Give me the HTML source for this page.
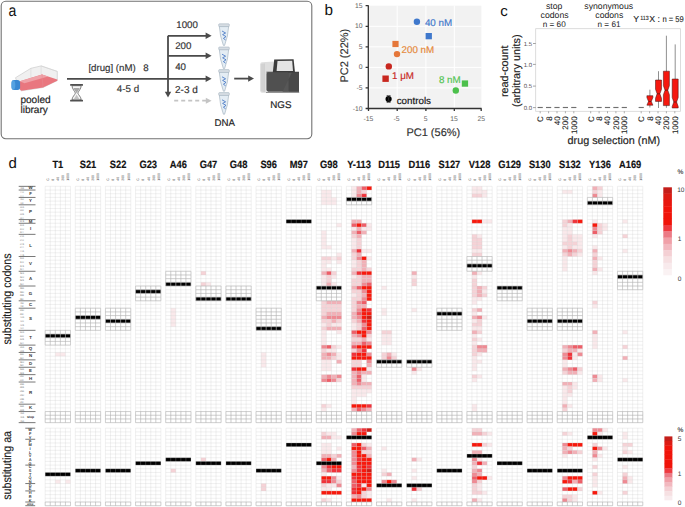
<!DOCTYPE html>
<html><head><meta charset="utf-8">
<style>
html,body{margin:0;padding:0;background:#fff;}
body{width:685px;height:507px;overflow:hidden;}
svg{display:block;font-family:"Liberation Sans", sans-serif;text-rendering:geometricPrecision;}
</style></head>
<body>
<svg width="685" height="507" viewBox="0 0 685 507">
<rect width="685" height="507" fill="#fff"/>
<!-- ================= PANEL A ================= -->
<rect x="1.2" y="1.2" width="310.6" height="137.5" rx="4.6" fill="#fff" stroke="#727272" stroke-width="1.1"/>
<text transform="translate(8.4,15.5) scale(0.87,1)" font-size="16.2" fill="#111">a</text>
<!-- flask -->
<g>
 <polygon points="15.5,77.7 30.9,68.3 41.1,65.9 57.3,71.4 57.3,80.5 43,87.5 21.4,90.8 19.5,89" fill="#f0f0f0" stroke="#c4c4c4" stroke-width="0.6"/>
 <path d="M30.9 68.3V78.5M41.1 65.9V74.5M41.1 65.9L57.3 71.4" stroke="#d2d2d2" stroke-width="0.5" fill="none"/>
 <polygon points="19.8,81.2 42,74.4 57.3,79.4 57.3,80.8 43,87.4 21.4,90.8 19.8,89.5" fill="#e9777f"/>
 <polygon points="19.8,81.2 42,74.4 48,76.4 24.5,83.3" fill="#efa2a8"/>
 <path d="M42 74.4 L43 87.4" stroke="#e58a90" stroke-width="0.5"/>
 <rect x="11.5" y="80.1" width="8.6" height="9.8" rx="2.6" fill="#3a88d2"/>
 <ellipse cx="13.4" cy="85" rx="1.9" ry="4.7" fill="#55a2e2"/>
</g>
<text x="20.4" y="102.5" font-size="10.1" fill="#222" stroke="#222" stroke-width="0.16">pooled</text>
<text x="20.4" y="113.4" font-size="10.1" fill="#222" stroke="#222" stroke-width="0.16">library</text>
<!-- hourglass -->
<g>
 <path d="M72 85.7 C72 89, 75 91.4, 75.4 93.1 C75 94.8, 72 97, 72 99.8 L81.2 99.8 C81.2 97, 78.2 94.8, 77.8 93.1 C78.2 91.4, 81.2 89, 81.2 85.7 Z" fill="#f6f6f6" stroke="#666" stroke-width="0.8"/>
 <path d="M73.4 88 L79.8 88 C79 90, 77.5 91.6, 76.6 93.2 C75.7 91.6, 74.2 90, 73.4 88Z" fill="#a8a8a8"/>
 <path d="M73.4 99.5 C74.6 97.6, 75.8 96.2, 76.6 94.4 C77.4 96.2, 78.6 97.6, 79.8 99.5 Z" fill="#c2c2c2"/>
 <rect x="70.1" y="84" width="12.9" height="1.8" rx="0.5" fill="#505050"/>
 <rect x="70.1" y="99.8" width="12.9" height="1.8" rx="0.5" fill="#505050"/>
</g>
<!-- arrows -->
<g stroke="#4a4a4a" stroke-width="1.8" fill="none">
 <path d="M67 78.8H206.5"/>
 <path d="M168 35.8V93"/>
 <path d="M168 35.8H206.5"/>
 <path d="M168 55.8H206.5"/>
 <path d="M234.2 78.6H249.5"/>
</g>
<g fill="#4a4a4a">
 <path d="M211.6 35.8 L205.6 32.6 L205.6 39 Z"/>
 <path d="M211.6 55.8 L205.6 52.6 L205.6 59 Z"/>
 <path d="M211.6 78.8 L205.6 75.6 L205.6 82 Z"/>
 <path d="M168 97.6 L164.8 91.8 L171.2 91.8 Z"/>
 <path d="M254 78.6 L248.2 75.4 L248.2 81.8 Z"/>
</g>
<path d="M174.2 100.7H206.5" stroke="#c4c4c4" stroke-width="1.8" stroke-dasharray="4 3"/>
<path d="M211.6 100.7 L205.8 97.7 L205.8 103.7 Z" fill="#c4c4c4"/>
<text x="88.4" y="70.5" font-size="9.7" fill="#333" stroke="#333" stroke-width="0.16">[drug] (nM)</text>
<text x="143.3" y="70.5" font-size="9.7" fill="#333" stroke="#333" stroke-width="0.16">8</text>
<text x="116.8" y="92.2" font-size="9.8" fill="#333" stroke="#333" stroke-width="0.16">4-5 d</text>
<text x="176.3" y="28.3" font-size="9.7" fill="#333" stroke="#333" stroke-width="0.16">1000</text>
<text x="175.2" y="48.6" font-size="9.7" fill="#333" stroke="#333" stroke-width="0.16">200</text>
<text x="175.2" y="70.4" font-size="9.7" fill="#333" stroke="#333" stroke-width="0.16">40</text>
<text x="175" y="92.6" font-size="10" fill="#333" stroke="#333" stroke-width="0.16">2-3 d</text>
<!-- tubes -->
<g transform="translate(0,0)">
 <path d="M219.3 26.2 L228.7 26.2 L227.4 36 L224.6 45.4 L223.4 45.4 L220.6 36 Z" fill="#e4edf4" stroke="#9aabb8" stroke-width="0.6"/>
 <rect x="218.7" y="23.8" width="10.6" height="2.8" rx="0.8" fill="#d6dde3" stroke="#9aabb8" stroke-width="0.5"/>
 <path d="M222 31 l3.6 2 l-3 1.6 l3.4 2 l-2.6 1.8 l2.2 1.6" stroke="#3b6fc2" stroke-width="0.8" fill="none"/>
</g><g transform="translate(0,23.2)">
 <path d="M219.3 26.2 L228.7 26.2 L227.4 36 L224.6 45.4 L223.4 45.4 L220.6 36 Z" fill="#e4edf4" stroke="#9aabb8" stroke-width="0.6"/>
 <rect x="218.7" y="23.8" width="10.6" height="2.8" rx="0.8" fill="#d6dde3" stroke="#9aabb8" stroke-width="0.5"/>
 <path d="M222 31 l3.6 2 l-3 1.6 l3.4 2 l-2.6 1.8 l2.2 1.6" stroke="#3b6fc2" stroke-width="0.8" fill="none"/>
</g><g transform="translate(0,45.8)">
 <path d="M219.3 26.2 L228.7 26.2 L227.4 36 L224.6 45.4 L223.4 45.4 L220.6 36 Z" fill="#e4edf4" stroke="#9aabb8" stroke-width="0.6"/>
 <rect x="218.7" y="23.8" width="10.6" height="2.8" rx="0.8" fill="#d6dde3" stroke="#9aabb8" stroke-width="0.5"/>
 <path d="M222 31 l3.6 2 l-3 1.6 l3.4 2 l-2.6 1.8 l2.2 1.6" stroke="#3b6fc2" stroke-width="0.8" fill="none"/>
</g><g transform="translate(0,68.8)">
 <path d="M219.3 26.2 L228.7 26.2 L227.4 36 L224.6 45.4 L223.4 45.4 L220.6 36 Z" fill="#e4edf4" stroke="#9aabb8" stroke-width="0.6"/>
 <rect x="218.7" y="23.8" width="10.6" height="2.8" rx="0.8" fill="#d6dde3" stroke="#9aabb8" stroke-width="0.5"/>
 <path d="M222 31 l3.6 2 l-3 1.6 l3.4 2 l-2.6 1.8 l2.2 1.6" stroke="#3b6fc2" stroke-width="0.8" fill="none"/>
</g>
<text x="214.4" y="125.7" font-size="9.7" fill="#222" stroke="#222" stroke-width="0.16">DNA</text>
<!-- NGS machine -->
<g>
 <path d="M260.3 64 Q260.3 62.3 262 62.2 L273.8 61.6 L273.8 72.5 L266.4 72.5 L266.4 92.8 L262 92.8 Q260.3 92.8 260.3 91 Z" fill="#dedede"/>
 <path d="M261.2 64V91M262.3 63.8V91.5M263.4 63.6V91.8M264.5 63.4V92" stroke="#c2c2c2" stroke-width="0.5"/>
 <path d="M272.8 72.6 L274.2 59.4 L293.6 59.2 L295 72.6 Z" fill="#3c3c3c"/>
 <path d="M276.6 70.9 L277.5 60.9 L292.2 60.8 L293 70.9 Z" fill="#e4e4e4"/>
 <path d="M266.4 73.8 Q266.4 72.2 268 72.2 L299 72.2 L299 91.7 L268 91.7 L266.4 90.2 Z" fill="#505050"/>
 <path d="M288.4 72.2 L299 72.2 L299 91.7 L288.4 91.7 Z" fill="#484848"/>
 <path d="M292 72.2 L282.5 91.7 L288.4 91.7 L288.4 72.2 Z" fill="#575757"/>
 <path d="M266.4 72.2 H299" stroke="#3a3a3a" stroke-width="0.8"/>
 <path d="M266 92.4 H299.2" stroke="#6a6a6a" stroke-width="0.8"/>
</g>
<text x="270.2" y="108.4" font-size="9.8" fill="#222" stroke="#222" stroke-width="0.16">NGS</text>

<!-- ================= PANEL B ================= -->
<text x="324.4" y="15" font-size="15.3" fill="#111">b</text>
<rect x="368.8" y="5.7" width="112.6" height="102.8" fill="#f2f2f2"/>
<g stroke="#fff" stroke-width="1">
 <path d="M397.2 5.7V108.5M425.9 5.7V108.5M454.3 5.7V108.5"/>
 <path d="M368.8 26.3H481.4M368.8 46.8H481.4M368.8 67.4H481.4M368.8 87.9H481.4"/>
</g>
<g stroke="#333" stroke-width="1.3" fill="none">
 <path d="M368.3 5.2V109.1M367.7 108.5H481.6"/>
 <path d="M365.6 5.7H368.3M365.6 26.3H368.3M365.6 46.8H368.3M365.6 67.4H368.3M365.6 87.9H368.3M365.6 108.5H368.3"/>
 <path d="M368.5 108.5V110.9M397.2 108.5V110.9M425.9 108.5V110.9M454.3 108.5V110.9M481.2 108.5V110.9"/>
</g>
<g font-size="6.8" fill="#666" text-anchor="end">
 <text x="362.6" y="7.7">15</text><text x="362.6" y="28.3">10</text><text x="362.6" y="48.8">5</text>
 <text x="362.6" y="69.4">0</text><text x="362.6" y="89.9">-5</text><text x="362.6" y="110.5">-10</text>
</g>
<g font-size="6.8" fill="#666" text-anchor="middle">
 <text x="368.3" y="120.8">-15</text><text x="396.6" y="120.8">-5</text><text x="425.7" y="120.8">5</text>
 <text x="454" y="120.8">15</text><text x="481.2" y="120.8">25</text>
</g>
<text x="433.3" y="135.8" font-size="11" fill="#333" text-anchor="middle" stroke="#333" stroke-width="0.16">PC1 (56%)</text>
<text transform="translate(348.3,55.7) rotate(-90)" font-size="11" fill="#333" text-anchor="middle" stroke="#333" stroke-width="0.16">PC2 (22%)</text>
<!-- points -->
<circle cx="416.9" cy="21.8" r="3.2" fill="#3f78cc"/>
<rect x="425.6" y="33" width="6.3" height="6.3" fill="#3f78cc"/>
<text x="424.9" y="25.8" font-size="9.8" fill="#3f78cc" stroke="#3f78cc" stroke-width="0.16">40 nM</text>
<rect x="392.4" y="40.9" width="6.2" height="6.2" fill="#e5773a"/>
<circle cx="397" cy="54.1" r="3.2" fill="#e5773a"/>
<text x="401.5" y="52.8" font-size="9.8" fill="#e5883a" stroke="#e5883a" stroke-width="0.16">200 nM</text>
<circle cx="388.8" cy="66.4" r="3.2" fill="#c8271f"/>
<rect x="382.4" y="75.5" width="6.4" height="6.4" fill="#c8271f"/>
<text x="392" y="78.6" font-size="9.8" fill="#c8271f" stroke="#c8271f" stroke-width="0.16">1 μM</text>
<rect x="461.8" y="80.4" width="6.3" height="6.3" fill="#4cc04c"/>
<circle cx="455.8" cy="90.5" r="3.2" fill="#4cc04c"/>
<text x="438.9" y="83.2" font-size="9.8" fill="#52c452" stroke="#52c452" stroke-width="0.16">8 nM</text>
<circle cx="388.6" cy="99" r="3.1" fill="#000"/>
<path d="M386.6 95.5H390.6M386.6 102.5H390.6M387.5 95.5L389.7 102.5M389.7 95.5L387.5 102.5" stroke="#333" stroke-width="0.6"/>
<text x="396.7" y="103.7" font-size="9.8" fill="#111" stroke="#111" stroke-width="0.16">controls</text>

<!-- ================= PANEL C ================= -->
<text x="500.3" y="16" font-size="15" fill="#111">c</text>
<g font-size="8.7" fill="#222" text-anchor="middle">
 <text x="554.1" y="9.4">stop</text>
 <text x="554.6" y="17.6">codons</text>
 <text x="608.7" y="8.7">synonymous</text>
 <text x="609.3" y="17.6">codons</text>
</g>
<g font-size="8.2" fill="#222" text-anchor="middle">
 <text x="554.2" y="26.6">n = 60</text>
 <text x="609" y="26.6">n = 61</text>
</g>
<text x="633.2" y="22.4" font-size="8.8" fill="#222" stroke="#222" stroke-width="0.1">Y</text><text x="640.3" y="19.9" font-size="6.1" fill="#222" textLength="8.5" lengthAdjust="spacingAndGlyphs" stroke="#222" stroke-width="0.1">113</text><text x="649.2" y="22.4" font-size="8.8" fill="#222" stroke="#222" stroke-width="0.1">X</text><text x="657.4" y="22.4" font-size="8.8" fill="#222" stroke="#222" stroke-width="0.1">:</text><text x="662.4" y="22.4" font-size="8.4" fill="#222" textLength="21.4" lengthAdjust="spacingAndGlyphs" stroke="#222" stroke-width="0.1">n = 59</text>
<rect x="535.7" y="28.7" width="144.8" height="82.6" fill="#fff" stroke="#d4d4d4" stroke-width="0.8"/>
<g font-size="6" fill="#555" text-anchor="end">
 <text x="532" y="45.6">1.5</text><text x="532" y="66.5">1.0</text><text x="532" y="88.2">0.5</text><text x="532" y="109.7">0.0</text>
</g>
<path d="M533 43.5H535.7M533 64.4H535.7M533 86.1H535.7M533 107.6H535.7" stroke="#666" stroke-width="0.6"/>
<text transform="translate(507.8,71.2) rotate(-90)" font-size="10.8" fill="#222" text-anchor="middle" stroke="#222" stroke-width="0.16">read-count</text>
<text transform="translate(519.9,70.8) rotate(-90)" font-size="10.8" fill="#222" text-anchor="middle" stroke="#222" stroke-width="0.16">(arbitrary units)</text>
<text x="613.8" y="144.3" font-size="10.8" fill="#222" text-anchor="middle" stroke="#222" stroke-width="0.16">drug selection (nM)</text>
<path d="M540.2 111.3V113.3" stroke="#777" stroke-width="0.6"/>
<text transform="translate(543.1,116.3) rotate(-90)" font-size="8" fill="#222" text-anchor="end" stroke="#222" stroke-width="0.1">C</text>
<path d="M537.6 107.5H542.8" stroke="#707070" stroke-width="1.15"/>
<path d="M548.6 111.3V113.3" stroke="#777" stroke-width="0.6"/>
<text transform="translate(551.5,116.3) rotate(-90)" font-size="8" fill="#222" text-anchor="end" stroke="#222" stroke-width="0.1">8</text>
<path d="M546 107.5H551.2" stroke="#707070" stroke-width="1.15"/>
<path d="M557 111.3V113.3" stroke="#777" stroke-width="0.6"/>
<text transform="translate(559.9,116.3) rotate(-90)" font-size="8" fill="#222" text-anchor="end" stroke="#222" stroke-width="0.1">40</text>
<path d="M554.4 107.5H559.6" stroke="#707070" stroke-width="1.15"/>
<path d="M565.4 111.3V113.3" stroke="#777" stroke-width="0.6"/>
<text transform="translate(568.3,116.3) rotate(-90)" font-size="8" fill="#222" text-anchor="end" stroke="#222" stroke-width="0.1">200</text>
<path d="M562.8 107.5H568" stroke="#707070" stroke-width="1.15"/>
<path d="M573.8 111.3V113.3" stroke="#777" stroke-width="0.6"/>
<text transform="translate(576.7,116.3) rotate(-90)" font-size="8" fill="#222" text-anchor="end" stroke="#222" stroke-width="0.1">1000</text>
<path d="M571.2 107.5H576.4" stroke="#707070" stroke-width="1.15"/>
<path d="M590.7 111.3V113.3" stroke="#777" stroke-width="0.6"/>
<text transform="translate(593.6,116.3) rotate(-90)" font-size="8" fill="#222" text-anchor="end" stroke="#222" stroke-width="0.1">C</text>
<path d="M588.1 107.5H593.3" stroke="#707070" stroke-width="1.15"/>
<path d="M599.1 111.3V113.3" stroke="#777" stroke-width="0.6"/>
<text transform="translate(602,116.3) rotate(-90)" font-size="8" fill="#222" text-anchor="end" stroke="#222" stroke-width="0.1">8</text>
<path d="M596.5 107.5H601.7" stroke="#707070" stroke-width="1.15"/>
<path d="M607.5 111.3V113.3" stroke="#777" stroke-width="0.6"/>
<text transform="translate(610.4,116.3) rotate(-90)" font-size="8" fill="#222" text-anchor="end" stroke="#222" stroke-width="0.1">40</text>
<path d="M604.9 107.5H610.1" stroke="#707070" stroke-width="1.15"/>
<path d="M615.9 111.3V113.3" stroke="#777" stroke-width="0.6"/>
<text transform="translate(618.8,116.3) rotate(-90)" font-size="8" fill="#222" text-anchor="end" stroke="#222" stroke-width="0.1">200</text>
<path d="M613.3 107.5H618.5" stroke="#707070" stroke-width="1.15"/>
<path d="M624.3 111.3V113.3" stroke="#777" stroke-width="0.6"/>
<text transform="translate(627.2,116.3) rotate(-90)" font-size="8" fill="#222" text-anchor="end" stroke="#222" stroke-width="0.1">1000</text>
<path d="M621.7 107.5H626.9" stroke="#707070" stroke-width="1.15"/>
<path d="M641.2 111.3V113.3" stroke="#777" stroke-width="0.6"/>
<text transform="translate(644.1,116.3) rotate(-90)" font-size="8" fill="#222" text-anchor="end" stroke="#222" stroke-width="0.1">C</text>
<path d="M638.6 107.5H643.8" stroke="#707070" stroke-width="1.15"/>
<path d="M649.6 111.3V113.3" stroke="#777" stroke-width="0.6"/>
<text transform="translate(652.5,116.3) rotate(-90)" font-size="8" fill="#222" text-anchor="end" stroke="#222" stroke-width="0.1">8</text>
<path d="M658 111.3V113.3" stroke="#777" stroke-width="0.6"/>
<text transform="translate(660.9,116.3) rotate(-90)" font-size="8" fill="#222" text-anchor="end" stroke="#222" stroke-width="0.1">40</text>
<path d="M666.4 111.3V113.3" stroke="#777" stroke-width="0.6"/>
<text transform="translate(669.3,116.3) rotate(-90)" font-size="8" fill="#222" text-anchor="end" stroke="#222" stroke-width="0.1">200</text>
<path d="M674.8 111.3V113.3" stroke="#777" stroke-width="0.6"/>
<text transform="translate(677.7,116.3) rotate(-90)" font-size="8" fill="#222" text-anchor="end" stroke="#222" stroke-width="0.1">1000</text>
<path d="M649.9 89.7V107.5" stroke="#444" stroke-width="0.6"/>
<polygon points="646.9,95.7 652.9,95.7 652.9,97.6 651.3,101.4 652.9,105.2 652.9,105.2 646.9,105.2 646.9,105.2 648.5,101.4 646.9,97.6" fill="#f5180f" stroke="#3a1010" stroke-width="0.5"/>
<path d="M648.5 101.4H651.3" stroke="#3a1010" stroke-width="0.6"/>
<path d="M658.5 71.2V108" stroke="#444" stroke-width="0.6"/>
<polygon points="655.5,80 661.5,80 661.5,89.3 659.9,93.8 661.5,98.3 661.5,101.4 655.5,101.4 655.5,98.3 657.1,93.8 655.5,89.3" fill="#f5180f" stroke="#3a1010" stroke-width="0.5"/>
<path d="M657.1 93.8H659.9" stroke="#3a1010" stroke-width="0.6"/>
<path d="M666.4 35.7V107.8" stroke="#444" stroke-width="0.6"/>
<polygon points="663.4,71.2 669.4,71.2 669.4,85.7 667.8,90.2 669.4,94.7 669.4,105.6 663.4,105.6 663.4,94.7 665,90.2 663.4,85.7" fill="#f5180f" stroke="#3a1010" stroke-width="0.5"/>
<path d="M665 90.2H667.8" stroke="#3a1010" stroke-width="0.6"/>
<path d="M675.2 44.4V108" stroke="#444" stroke-width="0.6"/>
<polygon points="672.2,79 678.2,79 678.2,97.5 676.6,102 678.2,106.5 678.2,108 672.2,108 672.2,106.5 673.8,102 672.2,97.5" fill="#f5180f" stroke="#3a1010" stroke-width="0.5"/>
<path d="M673.8 102H676.6" stroke="#3a1010" stroke-width="0.6"/>

<!-- ================= PANEL D ================= -->
<text x="8.4" y="167.5" font-size="15" fill="#111">d</text>
<text transform="translate(11.3,299) rotate(-90) scale(0.885,1)" font-size="12" fill="#222" text-anchor="middle" stroke="#222" stroke-width="0.16">substituting codons</text>
<text transform="translate(11.3,465.4) rotate(-90) scale(0.89,1)" font-size="12" fill="#222" text-anchor="middle" stroke="#222" stroke-width="0.16">substituting aa</text>
<text x="19.9" y="189.12" font-size="2.7" fill="#6a6a6a" textLength="4.1" lengthAdjust="spacingAndGlyphs">TGG</text>
<text x="30.5" y="189.4" font-size="4.4" font-weight="bold" fill="#333" text-anchor="middle">W</text>
<text x="19.9" y="192.81" font-size="2.7" fill="#6a6a6a" textLength="4.1" lengthAdjust="spacingAndGlyphs">TTC</text>
<text x="19.9" y="196.5" font-size="2.7" fill="#6a6a6a" textLength="4.1" lengthAdjust="spacingAndGlyphs">TTT</text>
<text x="30.5" y="194.93" font-size="4.4" font-weight="bold" fill="#333" text-anchor="middle">F</text>
<text x="19.9" y="200.19" font-size="2.7" fill="#6a6a6a" textLength="4.1" lengthAdjust="spacingAndGlyphs">TAC</text>
<text x="19.9" y="203.89" font-size="2.7" fill="#6a6a6a" textLength="4.1" lengthAdjust="spacingAndGlyphs">TAT</text>
<text x="30.5" y="202.32" font-size="4.4" font-weight="bold" fill="#333" text-anchor="middle">Y</text>
<text x="19.9" y="207.58" font-size="2.7" fill="#6a6a6a" textLength="4.1" lengthAdjust="spacingAndGlyphs">CCA</text>
<text x="19.9" y="211.27" font-size="2.7" fill="#6a6a6a" textLength="4.1" lengthAdjust="spacingAndGlyphs">CCC</text>
<text x="19.9" y="214.96" font-size="2.7" fill="#6a6a6a" textLength="4.1" lengthAdjust="spacingAndGlyphs">CCG</text>
<text x="19.9" y="218.66" font-size="2.7" fill="#6a6a6a" textLength="4.1" lengthAdjust="spacingAndGlyphs">CCT</text>
<text x="30.5" y="213.39" font-size="4.4" font-weight="bold" fill="#333" text-anchor="middle">P</text>
<text x="19.9" y="222.35" font-size="2.7" fill="#6a6a6a" textLength="4.1" lengthAdjust="spacingAndGlyphs">ATG</text>
<text x="30.5" y="222.62" font-size="4.4" font-weight="bold" fill="#333" text-anchor="middle">M</text>
<text x="19.9" y="226.04" font-size="2.7" fill="#6a6a6a" textLength="4.1" lengthAdjust="spacingAndGlyphs">ATA</text>
<text x="19.9" y="229.73" font-size="2.7" fill="#6a6a6a" textLength="4.1" lengthAdjust="spacingAndGlyphs">ATC</text>
<text x="19.9" y="233.42" font-size="2.7" fill="#6a6a6a" textLength="4.1" lengthAdjust="spacingAndGlyphs">ATT</text>
<text x="30.5" y="230.01" font-size="4.4" font-weight="bold" fill="#333" text-anchor="middle">I</text>
<text x="19.9" y="237.12" font-size="2.7" fill="#6a6a6a" textLength="4.1" lengthAdjust="spacingAndGlyphs">CTA</text>
<text x="19.9" y="240.81" font-size="2.7" fill="#6a6a6a" textLength="4.1" lengthAdjust="spacingAndGlyphs">CTC</text>
<text x="19.9" y="244.5" font-size="2.7" fill="#6a6a6a" textLength="4.1" lengthAdjust="spacingAndGlyphs">CTG</text>
<text x="19.9" y="248.19" font-size="2.7" fill="#6a6a6a" textLength="4.1" lengthAdjust="spacingAndGlyphs">CTT</text>
<text x="19.9" y="251.88" font-size="2.7" fill="#6a6a6a" textLength="4.1" lengthAdjust="spacingAndGlyphs">TTA</text>
<text x="19.9" y="255.57" font-size="2.7" fill="#6a6a6a" textLength="4.1" lengthAdjust="spacingAndGlyphs">TTG</text>
<text x="30.5" y="246.62" font-size="4.4" font-weight="bold" fill="#333" text-anchor="middle">L</text>
<text x="19.9" y="259.27" font-size="2.7" fill="#6a6a6a" textLength="4.1" lengthAdjust="spacingAndGlyphs">GTA</text>
<text x="19.9" y="262.96" font-size="2.7" fill="#6a6a6a" textLength="4.1" lengthAdjust="spacingAndGlyphs">GTC</text>
<text x="19.9" y="266.65" font-size="2.7" fill="#6a6a6a" textLength="4.1" lengthAdjust="spacingAndGlyphs">GTG</text>
<text x="19.9" y="270.34" font-size="2.7" fill="#6a6a6a" textLength="4.1" lengthAdjust="spacingAndGlyphs">GTT</text>
<text x="30.5" y="265.08" font-size="4.4" font-weight="bold" fill="#333" text-anchor="middle">V</text>
<text x="19.9" y="274.03" font-size="2.7" fill="#6a6a6a" textLength="4.1" lengthAdjust="spacingAndGlyphs">GCA</text>
<text x="19.9" y="277.73" font-size="2.7" fill="#6a6a6a" textLength="4.1" lengthAdjust="spacingAndGlyphs">GCC</text>
<text x="19.9" y="281.42" font-size="2.7" fill="#6a6a6a" textLength="4.1" lengthAdjust="spacingAndGlyphs">GCG</text>
<text x="19.9" y="285.11" font-size="2.7" fill="#6a6a6a" textLength="4.1" lengthAdjust="spacingAndGlyphs">GCT</text>
<text x="30.5" y="279.85" font-size="4.4" font-weight="bold" fill="#333" text-anchor="middle">A</text>
<text x="19.9" y="288.8" font-size="2.7" fill="#6a6a6a" textLength="4.1" lengthAdjust="spacingAndGlyphs">GGA</text>
<text x="19.9" y="292.5" font-size="2.7" fill="#6a6a6a" textLength="4.1" lengthAdjust="spacingAndGlyphs">GGC</text>
<text x="19.9" y="296.19" font-size="2.7" fill="#6a6a6a" textLength="4.1" lengthAdjust="spacingAndGlyphs">GGG</text>
<text x="19.9" y="299.88" font-size="2.7" fill="#6a6a6a" textLength="4.1" lengthAdjust="spacingAndGlyphs">GGT</text>
<text x="30.5" y="294.62" font-size="4.4" font-weight="bold" fill="#333" text-anchor="middle">G</text>
<text x="19.9" y="303.57" font-size="2.7" fill="#6a6a6a" textLength="4.1" lengthAdjust="spacingAndGlyphs">TGC</text>
<text x="19.9" y="307.26" font-size="2.7" fill="#6a6a6a" textLength="4.1" lengthAdjust="spacingAndGlyphs">TGT</text>
<text x="30.5" y="305.69" font-size="4.4" font-weight="bold" fill="#333" text-anchor="middle">C</text>
<text x="19.9" y="310.95" font-size="2.7" fill="#6a6a6a" textLength="4.1" lengthAdjust="spacingAndGlyphs">AGC</text>
<text x="19.9" y="314.65" font-size="2.7" fill="#6a6a6a" textLength="4.1" lengthAdjust="spacingAndGlyphs">AGT</text>
<text x="19.9" y="318.34" font-size="2.7" fill="#6a6a6a" textLength="4.1" lengthAdjust="spacingAndGlyphs">TCA</text>
<text x="19.9" y="322.03" font-size="2.7" fill="#6a6a6a" textLength="4.1" lengthAdjust="spacingAndGlyphs">TCC</text>
<text x="19.9" y="325.72" font-size="2.7" fill="#6a6a6a" textLength="4.1" lengthAdjust="spacingAndGlyphs">TCG</text>
<text x="19.9" y="329.41" font-size="2.7" fill="#6a6a6a" textLength="4.1" lengthAdjust="spacingAndGlyphs">TCT</text>
<text x="30.5" y="320.46" font-size="4.4" font-weight="bold" fill="#333" text-anchor="middle">S</text>
<text x="19.9" y="333.11" font-size="2.7" fill="#6a6a6a" textLength="4.1" lengthAdjust="spacingAndGlyphs">ACA</text>
<text x="19.9" y="336.8" font-size="2.7" fill="#6a6a6a" textLength="4.1" lengthAdjust="spacingAndGlyphs">ACC</text>
<text x="19.9" y="340.49" font-size="2.7" fill="#6a6a6a" textLength="4.1" lengthAdjust="spacingAndGlyphs">ACG</text>
<text x="19.9" y="344.18" font-size="2.7" fill="#6a6a6a" textLength="4.1" lengthAdjust="spacingAndGlyphs">ACT</text>
<text x="30.5" y="338.92" font-size="4.4" font-weight="bold" fill="#333" text-anchor="middle">T</text>
<text x="19.9" y="347.88" font-size="2.7" fill="#6a6a6a" textLength="4.1" lengthAdjust="spacingAndGlyphs">CAA</text>
<text x="19.9" y="351.57" font-size="2.7" fill="#6a6a6a" textLength="4.1" lengthAdjust="spacingAndGlyphs">CAG</text>
<text x="30.5" y="350" font-size="4.4" font-weight="bold" fill="#333" text-anchor="middle">Q</text>
<text x="19.9" y="355.26" font-size="2.7" fill="#6a6a6a" textLength="4.1" lengthAdjust="spacingAndGlyphs">AAC</text>
<text x="19.9" y="358.95" font-size="2.7" fill="#6a6a6a" textLength="4.1" lengthAdjust="spacingAndGlyphs">AAT</text>
<text x="30.5" y="357.38" font-size="4.4" font-weight="bold" fill="#333" text-anchor="middle">N</text>
<text x="19.9" y="362.64" font-size="2.7" fill="#6a6a6a" textLength="4.1" lengthAdjust="spacingAndGlyphs">GAC</text>
<text x="19.9" y="366.34" font-size="2.7" fill="#6a6a6a" textLength="4.1" lengthAdjust="spacingAndGlyphs">GAT</text>
<text x="30.5" y="364.77" font-size="4.4" font-weight="bold" fill="#333" text-anchor="middle">D</text>
<text x="19.9" y="370.03" font-size="2.7" fill="#6a6a6a" textLength="4.1" lengthAdjust="spacingAndGlyphs">GAA</text>
<text x="19.9" y="373.72" font-size="2.7" fill="#6a6a6a" textLength="4.1" lengthAdjust="spacingAndGlyphs">GAG</text>
<text x="30.5" y="372.15" font-size="4.4" font-weight="bold" fill="#333" text-anchor="middle">E</text>
<text x="19.9" y="377.41" font-size="2.7" fill="#6a6a6a" textLength="4.1" lengthAdjust="spacingAndGlyphs">CAC</text>
<text x="19.9" y="381.1" font-size="2.7" fill="#6a6a6a" textLength="4.1" lengthAdjust="spacingAndGlyphs">CAT</text>
<text x="30.5" y="379.53" font-size="4.4" font-weight="bold" fill="#333" text-anchor="middle">H</text>
<text x="19.9" y="384.8" font-size="2.7" fill="#6a6a6a" textLength="4.1" lengthAdjust="spacingAndGlyphs">AGA</text>
<text x="19.9" y="388.49" font-size="2.7" fill="#6a6a6a" textLength="4.1" lengthAdjust="spacingAndGlyphs">AGG</text>
<text x="19.9" y="392.18" font-size="2.7" fill="#6a6a6a" textLength="4.1" lengthAdjust="spacingAndGlyphs">CGA</text>
<text x="19.9" y="395.87" font-size="2.7" fill="#6a6a6a" textLength="4.1" lengthAdjust="spacingAndGlyphs">CGC</text>
<text x="19.9" y="399.56" font-size="2.7" fill="#6a6a6a" textLength="4.1" lengthAdjust="spacingAndGlyphs">CGG</text>
<text x="19.9" y="403.25" font-size="2.7" fill="#6a6a6a" textLength="4.1" lengthAdjust="spacingAndGlyphs">CGT</text>
<text x="30.5" y="394.3" font-size="4.4" font-weight="bold" fill="#333" text-anchor="middle">R</text>
<text x="19.9" y="406.95" font-size="2.7" fill="#6a6a6a" textLength="4.1" lengthAdjust="spacingAndGlyphs">AAA</text>
<text x="19.9" y="410.64" font-size="2.7" fill="#6a6a6a" textLength="4.1" lengthAdjust="spacingAndGlyphs">AAG</text>
<text x="30.5" y="409.07" font-size="4.4" font-weight="bold" fill="#333" text-anchor="middle">K</text>
<text x="19.9" y="414.33" font-size="2.7" fill="#6a6a6a" textLength="4.1" lengthAdjust="spacingAndGlyphs">TAA</text>
<text x="19.9" y="418.02" font-size="2.7" fill="#6a6a6a" textLength="4.1" lengthAdjust="spacingAndGlyphs">TAG</text>
<text x="19.9" y="421.72" font-size="2.7" fill="#6a6a6a" textLength="4.1" lengthAdjust="spacingAndGlyphs">TGA</text>
<text x="30.5" y="418.3" font-size="3.4" font-weight="bold" fill="#333" text-anchor="middle">stop</text>
<path d="M18.7 186.35H35.5M18.7 190.04H35.5M18.7 197.43H35.5M18.7 204.81H35.5M18.7 219.58H35.5M18.7 223.27H35.5M18.7 234.35H35.5M18.7 256.5H35.5M18.7 271.27H35.5M18.7 286.03H35.5M18.7 300.8H35.5M18.7 308.19H35.5M18.7 330.34H35.5M18.7 345.11H35.5M18.7 352.49H35.5M18.7 359.87H35.5M18.7 367.26H35.5M18.7 374.64H35.5M18.7 382.03H35.5M18.7 404.18H35.5M18.7 411.56H35.5M18.7 422.64H35.5" stroke="#555" stroke-width="0.8"/>
<text x="30.1" y="431.44" font-size="3.9" font-weight="bold" fill="#333" text-anchor="middle">W</text>
<text x="30.1" y="435.13" font-size="3.9" font-weight="bold" fill="#333" text-anchor="middle">F</text>
<text x="30.1" y="438.82" font-size="3.9" font-weight="bold" fill="#333" text-anchor="middle">Y</text>
<text x="30.1" y="442.51" font-size="3.9" font-weight="bold" fill="#333" text-anchor="middle">P</text>
<text x="30.1" y="446.2" font-size="3.9" font-weight="bold" fill="#333" text-anchor="middle">M</text>
<text x="30.1" y="449.89" font-size="3.9" font-weight="bold" fill="#333" text-anchor="middle">I</text>
<text x="30.1" y="453.58" font-size="3.9" font-weight="bold" fill="#333" text-anchor="middle">L</text>
<text x="30.1" y="457.27" font-size="3.9" font-weight="bold" fill="#333" text-anchor="middle">V</text>
<text x="30.1" y="460.96" font-size="3.9" font-weight="bold" fill="#333" text-anchor="middle">A</text>
<text x="30.1" y="464.65" font-size="3.9" font-weight="bold" fill="#333" text-anchor="middle">G</text>
<text x="30.1" y="468.34" font-size="3.9" font-weight="bold" fill="#333" text-anchor="middle">C</text>
<text x="30.1" y="472.03" font-size="3.9" font-weight="bold" fill="#333" text-anchor="middle">S</text>
<text x="30.1" y="475.72" font-size="3.9" font-weight="bold" fill="#333" text-anchor="middle">T</text>
<text x="30.1" y="479.41" font-size="3.9" font-weight="bold" fill="#333" text-anchor="middle">Q</text>
<text x="30.1" y="483.1" font-size="3.9" font-weight="bold" fill="#333" text-anchor="middle">N</text>
<text x="30.1" y="486.79" font-size="3.9" font-weight="bold" fill="#333" text-anchor="middle">D</text>
<text x="30.1" y="490.48" font-size="3.9" font-weight="bold" fill="#333" text-anchor="middle">E</text>
<text x="30.1" y="494.17" font-size="3.9" font-weight="bold" fill="#333" text-anchor="middle">H</text>
<text x="30.1" y="497.86" font-size="3.9" font-weight="bold" fill="#333" text-anchor="middle">R</text>
<text x="30.1" y="501.55" font-size="3.9" font-weight="bold" fill="#333" text-anchor="middle">K</text>
<text x="30.1" y="504.94" font-size="3" font-weight="bold" fill="#333" text-anchor="middle">stop</text>
<path d="M25.3 428.2H35.2M25.3 439.27H35.2M25.3 465.1H35.2M25.3 483.55H35.2M25.3 490.93H35.2M25.3 502H35.2M25.3 505.69H35.2" stroke="#555" stroke-width="0.8"/>
<rect x="55.32" y="352.49" width="5.06" height="3.69" fill="#fae9eb"/>
<rect x="60.38" y="352.49" width="5.06" height="3.69" fill="#fae9eb"/>
<rect x="45.2" y="334.03" width="25.3" height="3.69" fill="#000"/>
<path d="M45.2 186.35h25.3M45.2 190.04h25.3M45.2 193.73h25.3M45.2 197.43h25.3M45.2 201.12h25.3M45.2 204.81h25.3M45.2 208.5h25.3M45.2 212.19h25.3M45.2 215.89h25.3M45.2 219.58h25.3M45.2 223.27h25.3M45.2 226.96h25.3M45.2 230.65h25.3M45.2 234.35h25.3M45.2 238.04h25.3M45.2 241.73h25.3M45.2 245.42h25.3M45.2 249.11h25.3M45.2 252.81h25.3M45.2 256.5h25.3M45.2 260.19h25.3M45.2 263.88h25.3M45.2 267.57h25.3M45.2 271.27h25.3M45.2 274.96h25.3M45.2 278.65h25.3M45.2 282.34h25.3M45.2 286.03h25.3M45.2 289.73h25.3M45.2 293.42h25.3M45.2 297.11h25.3M45.2 300.8h25.3M45.2 304.49h25.3M45.2 308.19h25.3M45.2 311.88h25.3M45.2 315.57h25.3M45.2 319.26h25.3M45.2 322.95h25.3M45.2 326.65h25.3M45.2 330.34h25.3M45.2 334.03h25.3M45.2 337.72h25.3M45.2 341.41h25.3M45.2 345.11h25.3M45.2 348.8h25.3M45.2 352.49h25.3M45.2 356.18h25.3M45.2 359.87h25.3M45.2 363.57h25.3M45.2 367.26h25.3M45.2 370.95h25.3M45.2 374.64h25.3M45.2 378.33h25.3M45.2 382.03h25.3M45.2 385.72h25.3M45.2 389.41h25.3M45.2 393.1h25.3M45.2 396.79h25.3M45.2 400.49h25.3M45.2 404.18h25.3M45.2 407.87h25.3M45.2 411.56h25.3M45.2 415.25h25.3M45.2 418.95h25.3M45.2 422.64h25.3M45.2 186.35v236.29M50.26 186.35v236.29M55.32 186.35v236.29M60.38 186.35v236.29M65.44 186.35v236.29M70.5 186.35v236.29" stroke="#c8c8c8" stroke-opacity="0.5" stroke-width="0.5" fill="none"/>
<path d="M45.2 330.34h25.3M45.2 334.03h25.3M45.2 337.72h25.3M45.2 341.41h25.3M45.2 345.11h25.3M45.2 330.34v14.77M50.26 330.34v14.77M55.32 330.34v14.77M60.38 330.34v14.77M65.44 330.34v14.77M70.5 330.34v14.77" stroke="#b0b0b0" stroke-width="0.5" fill="none"/>
<path d="M45.2 411.56h25.3M45.2 415.25h25.3M45.2 418.95h25.3M45.2 422.64h25.3M45.2 411.56v11.08M50.26 411.56v11.08M55.32 411.56v11.08M60.38 411.56v11.08M65.44 411.56v11.08M70.5 411.56v11.08" stroke="#b0b0b0" stroke-width="0.5" fill="none"/>
<rect x="55.32" y="479.86" width="5.06" height="3.69" fill="#fae9eb"/>
<rect x="65.44" y="479.86" width="5.06" height="3.69" fill="#fae9eb"/>
<rect x="45.2" y="472.48" width="25.3" height="3.69" fill="#000"/>
<path d="M45.2 428.2h25.3M45.2 431.89h25.3M45.2 435.58h25.3M45.2 439.27h25.3M45.2 442.96h25.3M45.2 446.65h25.3M45.2 450.34h25.3M45.2 454.03h25.3M45.2 457.72h25.3M45.2 461.41h25.3M45.2 465.1h25.3M45.2 468.79h25.3M45.2 472.48h25.3M45.2 476.17h25.3M45.2 479.86h25.3M45.2 483.55h25.3M45.2 487.24h25.3M45.2 490.93h25.3M45.2 494.62h25.3M45.2 498.31h25.3M45.2 502h25.3M45.2 505.69h25.3M45.2 428.2v77.49M50.26 428.2v77.49M55.32 428.2v77.49M60.38 428.2v77.49M65.44 428.2v77.49M70.5 428.2v77.49" stroke="#c8c8c8" stroke-opacity="0.5" stroke-width="0.5" fill="none"/>
<path d="M45.2 502h25.3M45.2 505.69h25.3M45.2 502v3.69M50.26 502v3.69M55.32 502v3.69M60.38 502v3.69M65.44 502v3.69M70.5 502v3.69" stroke="#b0b0b0" stroke-width="0.5" fill="none"/>
<text transform="translate(57.85,167.9) scale(0.88,1)" font-size="10.6" font-weight="bold" fill="#111" text-anchor="middle" stroke="#111" stroke-width="0.16">T1</text>
<text transform="translate(49.03,180.8) rotate(-90)" font-size="3.5" fill="#444">C</text>
<text transform="translate(54.09,180.8) rotate(-90)" font-size="3.5" fill="#444">8</text>
<text transform="translate(59.15,180.8) rotate(-90)" font-size="3.5" fill="#444">40</text>
<text transform="translate(64.21,180.8) rotate(-90)" font-size="3.5" fill="#444">200</text>
<text transform="translate(69.27,180.8) rotate(-90)" font-size="3.5" fill="#444">1000</text>
<rect x="75.32" y="315.57" width="25.3" height="3.69" fill="#000"/>
<path d="M75.32 186.35h25.3M75.32 190.04h25.3M75.32 193.73h25.3M75.32 197.43h25.3M75.32 201.12h25.3M75.32 204.81h25.3M75.32 208.5h25.3M75.32 212.19h25.3M75.32 215.89h25.3M75.32 219.58h25.3M75.32 223.27h25.3M75.32 226.96h25.3M75.32 230.65h25.3M75.32 234.35h25.3M75.32 238.04h25.3M75.32 241.73h25.3M75.32 245.42h25.3M75.32 249.11h25.3M75.32 252.81h25.3M75.32 256.5h25.3M75.32 260.19h25.3M75.32 263.88h25.3M75.32 267.57h25.3M75.32 271.27h25.3M75.32 274.96h25.3M75.32 278.65h25.3M75.32 282.34h25.3M75.32 286.03h25.3M75.32 289.73h25.3M75.32 293.42h25.3M75.32 297.11h25.3M75.32 300.8h25.3M75.32 304.49h25.3M75.32 308.19h25.3M75.32 311.88h25.3M75.32 315.57h25.3M75.32 319.26h25.3M75.32 322.95h25.3M75.32 326.65h25.3M75.32 330.34h25.3M75.32 334.03h25.3M75.32 337.72h25.3M75.32 341.41h25.3M75.32 345.11h25.3M75.32 348.8h25.3M75.32 352.49h25.3M75.32 356.18h25.3M75.32 359.87h25.3M75.32 363.57h25.3M75.32 367.26h25.3M75.32 370.95h25.3M75.32 374.64h25.3M75.32 378.33h25.3M75.32 382.03h25.3M75.32 385.72h25.3M75.32 389.41h25.3M75.32 393.1h25.3M75.32 396.79h25.3M75.32 400.49h25.3M75.32 404.18h25.3M75.32 407.87h25.3M75.32 411.56h25.3M75.32 415.25h25.3M75.32 418.95h25.3M75.32 422.64h25.3M75.32 186.35v236.29M80.38 186.35v236.29M85.44 186.35v236.29M90.5 186.35v236.29M95.56 186.35v236.29M100.62 186.35v236.29" stroke="#c8c8c8" stroke-opacity="0.5" stroke-width="0.5" fill="none"/>
<path d="M75.32 308.19h25.3M75.32 311.88h25.3M75.32 315.57h25.3M75.32 319.26h25.3M75.32 322.95h25.3M75.32 326.65h25.3M75.32 330.34h25.3M75.32 308.19v22.15M80.38 308.19v22.15M85.44 308.19v22.15M90.5 308.19v22.15M95.56 308.19v22.15M100.62 308.19v22.15" stroke="#b0b0b0" stroke-width="0.5" fill="none"/>
<path d="M75.32 411.56h25.3M75.32 415.25h25.3M75.32 418.95h25.3M75.32 422.64h25.3M75.32 411.56v11.08M80.38 411.56v11.08M85.44 411.56v11.08M90.5 411.56v11.08M95.56 411.56v11.08M100.62 411.56v11.08" stroke="#b0b0b0" stroke-width="0.5" fill="none"/>
<rect x="75.32" y="468.79" width="25.3" height="3.69" fill="#000"/>
<path d="M75.32 428.2h25.3M75.32 431.89h25.3M75.32 435.58h25.3M75.32 439.27h25.3M75.32 442.96h25.3M75.32 446.65h25.3M75.32 450.34h25.3M75.32 454.03h25.3M75.32 457.72h25.3M75.32 461.41h25.3M75.32 465.1h25.3M75.32 468.79h25.3M75.32 472.48h25.3M75.32 476.17h25.3M75.32 479.86h25.3M75.32 483.55h25.3M75.32 487.24h25.3M75.32 490.93h25.3M75.32 494.62h25.3M75.32 498.31h25.3M75.32 502h25.3M75.32 505.69h25.3M75.32 428.2v77.49M80.38 428.2v77.49M85.44 428.2v77.49M90.5 428.2v77.49M95.56 428.2v77.49M100.62 428.2v77.49" stroke="#c8c8c8" stroke-opacity="0.5" stroke-width="0.5" fill="none"/>
<path d="M75.32 502h25.3M75.32 505.69h25.3M75.32 502v3.69M80.38 502v3.69M85.44 502v3.69M90.5 502v3.69M95.56 502v3.69M100.62 502v3.69" stroke="#b0b0b0" stroke-width="0.5" fill="none"/>
<text transform="translate(87.97,167.9) scale(0.88,1)" font-size="10.6" font-weight="bold" fill="#111" text-anchor="middle" stroke="#111" stroke-width="0.16">S21</text>
<text transform="translate(79.15,180.8) rotate(-90)" font-size="3.5" fill="#444">C</text>
<text transform="translate(84.21,180.8) rotate(-90)" font-size="3.5" fill="#444">8</text>
<text transform="translate(89.27,180.8) rotate(-90)" font-size="3.5" fill="#444">40</text>
<text transform="translate(94.33,180.8) rotate(-90)" font-size="3.5" fill="#444">200</text>
<text transform="translate(99.39,180.8) rotate(-90)" font-size="3.5" fill="#444">1000</text>
<rect x="105.44" y="319.26" width="25.3" height="3.69" fill="#000"/>
<path d="M105.44 186.35h25.3M105.44 190.04h25.3M105.44 193.73h25.3M105.44 197.43h25.3M105.44 201.12h25.3M105.44 204.81h25.3M105.44 208.5h25.3M105.44 212.19h25.3M105.44 215.89h25.3M105.44 219.58h25.3M105.44 223.27h25.3M105.44 226.96h25.3M105.44 230.65h25.3M105.44 234.35h25.3M105.44 238.04h25.3M105.44 241.73h25.3M105.44 245.42h25.3M105.44 249.11h25.3M105.44 252.81h25.3M105.44 256.5h25.3M105.44 260.19h25.3M105.44 263.88h25.3M105.44 267.57h25.3M105.44 271.27h25.3M105.44 274.96h25.3M105.44 278.65h25.3M105.44 282.34h25.3M105.44 286.03h25.3M105.44 289.73h25.3M105.44 293.42h25.3M105.44 297.11h25.3M105.44 300.8h25.3M105.44 304.49h25.3M105.44 308.19h25.3M105.44 311.88h25.3M105.44 315.57h25.3M105.44 319.26h25.3M105.44 322.95h25.3M105.44 326.65h25.3M105.44 330.34h25.3M105.44 334.03h25.3M105.44 337.72h25.3M105.44 341.41h25.3M105.44 345.11h25.3M105.44 348.8h25.3M105.44 352.49h25.3M105.44 356.18h25.3M105.44 359.87h25.3M105.44 363.57h25.3M105.44 367.26h25.3M105.44 370.95h25.3M105.44 374.64h25.3M105.44 378.33h25.3M105.44 382.03h25.3M105.44 385.72h25.3M105.44 389.41h25.3M105.44 393.1h25.3M105.44 396.79h25.3M105.44 400.49h25.3M105.44 404.18h25.3M105.44 407.87h25.3M105.44 411.56h25.3M105.44 415.25h25.3M105.44 418.95h25.3M105.44 422.64h25.3M105.44 186.35v236.29M110.5 186.35v236.29M115.56 186.35v236.29M120.62 186.35v236.29M125.68 186.35v236.29M130.74 186.35v236.29" stroke="#c8c8c8" stroke-opacity="0.5" stroke-width="0.5" fill="none"/>
<path d="M105.44 308.19h25.3M105.44 311.88h25.3M105.44 315.57h25.3M105.44 319.26h25.3M105.44 322.95h25.3M105.44 326.65h25.3M105.44 330.34h25.3M105.44 308.19v22.15M110.5 308.19v22.15M115.56 308.19v22.15M120.62 308.19v22.15M125.68 308.19v22.15M130.74 308.19v22.15" stroke="#b0b0b0" stroke-width="0.5" fill="none"/>
<path d="M105.44 411.56h25.3M105.44 415.25h25.3M105.44 418.95h25.3M105.44 422.64h25.3M105.44 411.56v11.08M110.5 411.56v11.08M115.56 411.56v11.08M120.62 411.56v11.08M125.68 411.56v11.08M130.74 411.56v11.08" stroke="#b0b0b0" stroke-width="0.5" fill="none"/>
<rect x="105.44" y="468.79" width="25.3" height="3.69" fill="#000"/>
<path d="M105.44 428.2h25.3M105.44 431.89h25.3M105.44 435.58h25.3M105.44 439.27h25.3M105.44 442.96h25.3M105.44 446.65h25.3M105.44 450.34h25.3M105.44 454.03h25.3M105.44 457.72h25.3M105.44 461.41h25.3M105.44 465.1h25.3M105.44 468.79h25.3M105.44 472.48h25.3M105.44 476.17h25.3M105.44 479.86h25.3M105.44 483.55h25.3M105.44 487.24h25.3M105.44 490.93h25.3M105.44 494.62h25.3M105.44 498.31h25.3M105.44 502h25.3M105.44 505.69h25.3M105.44 428.2v77.49M110.5 428.2v77.49M115.56 428.2v77.49M120.62 428.2v77.49M125.68 428.2v77.49M130.74 428.2v77.49" stroke="#c8c8c8" stroke-opacity="0.5" stroke-width="0.5" fill="none"/>
<path d="M105.44 502h25.3M105.44 505.69h25.3M105.44 502v3.69M110.5 502v3.69M115.56 502v3.69M120.62 502v3.69M125.68 502v3.69M130.74 502v3.69" stroke="#b0b0b0" stroke-width="0.5" fill="none"/>
<text transform="translate(118.09,167.9) scale(0.88,1)" font-size="10.6" font-weight="bold" fill="#111" text-anchor="middle" stroke="#111" stroke-width="0.16">S22</text>
<text transform="translate(109.27,180.8) rotate(-90)" font-size="3.5" fill="#444">C</text>
<text transform="translate(114.33,180.8) rotate(-90)" font-size="3.5" fill="#444">8</text>
<text transform="translate(119.39,180.8) rotate(-90)" font-size="3.5" fill="#444">40</text>
<text transform="translate(124.45,180.8) rotate(-90)" font-size="3.5" fill="#444">200</text>
<text transform="translate(129.51,180.8) rotate(-90)" font-size="3.5" fill="#444">1000</text>
<rect x="135.56" y="289.73" width="25.3" height="3.69" fill="#000"/>
<path d="M135.56 186.35h25.3M135.56 190.04h25.3M135.56 193.73h25.3M135.56 197.43h25.3M135.56 201.12h25.3M135.56 204.81h25.3M135.56 208.5h25.3M135.56 212.19h25.3M135.56 215.89h25.3M135.56 219.58h25.3M135.56 223.27h25.3M135.56 226.96h25.3M135.56 230.65h25.3M135.56 234.35h25.3M135.56 238.04h25.3M135.56 241.73h25.3M135.56 245.42h25.3M135.56 249.11h25.3M135.56 252.81h25.3M135.56 256.5h25.3M135.56 260.19h25.3M135.56 263.88h25.3M135.56 267.57h25.3M135.56 271.27h25.3M135.56 274.96h25.3M135.56 278.65h25.3M135.56 282.34h25.3M135.56 286.03h25.3M135.56 289.73h25.3M135.56 293.42h25.3M135.56 297.11h25.3M135.56 300.8h25.3M135.56 304.49h25.3M135.56 308.19h25.3M135.56 311.88h25.3M135.56 315.57h25.3M135.56 319.26h25.3M135.56 322.95h25.3M135.56 326.65h25.3M135.56 330.34h25.3M135.56 334.03h25.3M135.56 337.72h25.3M135.56 341.41h25.3M135.56 345.11h25.3M135.56 348.8h25.3M135.56 352.49h25.3M135.56 356.18h25.3M135.56 359.87h25.3M135.56 363.57h25.3M135.56 367.26h25.3M135.56 370.95h25.3M135.56 374.64h25.3M135.56 378.33h25.3M135.56 382.03h25.3M135.56 385.72h25.3M135.56 389.41h25.3M135.56 393.1h25.3M135.56 396.79h25.3M135.56 400.49h25.3M135.56 404.18h25.3M135.56 407.87h25.3M135.56 411.56h25.3M135.56 415.25h25.3M135.56 418.95h25.3M135.56 422.64h25.3M135.56 186.35v236.29M140.62 186.35v236.29M145.68 186.35v236.29M150.74 186.35v236.29M155.8 186.35v236.29M160.86 186.35v236.29" stroke="#c8c8c8" stroke-opacity="0.5" stroke-width="0.5" fill="none"/>
<path d="M135.56 286.03h25.3M135.56 289.73h25.3M135.56 293.42h25.3M135.56 297.11h25.3M135.56 300.8h25.3M135.56 286.03v14.77M140.62 286.03v14.77M145.68 286.03v14.77M150.74 286.03v14.77M155.8 286.03v14.77M160.86 286.03v14.77" stroke="#b0b0b0" stroke-width="0.5" fill="none"/>
<path d="M135.56 411.56h25.3M135.56 415.25h25.3M135.56 418.95h25.3M135.56 422.64h25.3M135.56 411.56v11.08M140.62 411.56v11.08M145.68 411.56v11.08M150.74 411.56v11.08M155.8 411.56v11.08M160.86 411.56v11.08" stroke="#b0b0b0" stroke-width="0.5" fill="none"/>
<rect x="135.56" y="461.41" width="25.3" height="3.69" fill="#000"/>
<path d="M135.56 428.2h25.3M135.56 431.89h25.3M135.56 435.58h25.3M135.56 439.27h25.3M135.56 442.96h25.3M135.56 446.65h25.3M135.56 450.34h25.3M135.56 454.03h25.3M135.56 457.72h25.3M135.56 461.41h25.3M135.56 465.1h25.3M135.56 468.79h25.3M135.56 472.48h25.3M135.56 476.17h25.3M135.56 479.86h25.3M135.56 483.55h25.3M135.56 487.24h25.3M135.56 490.93h25.3M135.56 494.62h25.3M135.56 498.31h25.3M135.56 502h25.3M135.56 505.69h25.3M135.56 428.2v77.49M140.62 428.2v77.49M145.68 428.2v77.49M150.74 428.2v77.49M155.8 428.2v77.49M160.86 428.2v77.49" stroke="#c8c8c8" stroke-opacity="0.5" stroke-width="0.5" fill="none"/>
<path d="M135.56 502h25.3M135.56 505.69h25.3M135.56 502v3.69M140.62 502v3.69M145.68 502v3.69M150.74 502v3.69M155.8 502v3.69M160.86 502v3.69" stroke="#b0b0b0" stroke-width="0.5" fill="none"/>
<text transform="translate(148.21,167.9) scale(0.88,1)" font-size="10.6" font-weight="bold" fill="#111" text-anchor="middle" stroke="#111" stroke-width="0.16">G23</text>
<text transform="translate(139.39,180.8) rotate(-90)" font-size="3.5" fill="#444">C</text>
<text transform="translate(144.45,180.8) rotate(-90)" font-size="3.5" fill="#444">8</text>
<text transform="translate(149.51,180.8) rotate(-90)" font-size="3.5" fill="#444">40</text>
<text transform="translate(154.57,180.8) rotate(-90)" font-size="3.5" fill="#444">200</text>
<text transform="translate(159.63,180.8) rotate(-90)" font-size="3.5" fill="#444">1000</text>
<rect x="170.74" y="308.19" width="5.06" height="3.69" fill="#fae9eb"/>
<rect x="170.74" y="311.88" width="5.06" height="3.69" fill="#fae9eb"/>
<rect x="170.74" y="315.57" width="5.06" height="3.69" fill="#fae9eb"/>
<rect x="170.74" y="319.26" width="5.06" height="3.69" fill="#fae9eb"/>
<rect x="170.74" y="322.95" width="5.06" height="3.69" fill="#fae9eb"/>
<rect x="165.68" y="282.34" width="25.3" height="3.69" fill="#000"/>
<path d="M165.68 186.35h25.3M165.68 190.04h25.3M165.68 193.73h25.3M165.68 197.43h25.3M165.68 201.12h25.3M165.68 204.81h25.3M165.68 208.5h25.3M165.68 212.19h25.3M165.68 215.89h25.3M165.68 219.58h25.3M165.68 223.27h25.3M165.68 226.96h25.3M165.68 230.65h25.3M165.68 234.35h25.3M165.68 238.04h25.3M165.68 241.73h25.3M165.68 245.42h25.3M165.68 249.11h25.3M165.68 252.81h25.3M165.68 256.5h25.3M165.68 260.19h25.3M165.68 263.88h25.3M165.68 267.57h25.3M165.68 271.27h25.3M165.68 274.96h25.3M165.68 278.65h25.3M165.68 282.34h25.3M165.68 286.03h25.3M165.68 289.73h25.3M165.68 293.42h25.3M165.68 297.11h25.3M165.68 300.8h25.3M165.68 304.49h25.3M165.68 308.19h25.3M165.68 311.88h25.3M165.68 315.57h25.3M165.68 319.26h25.3M165.68 322.95h25.3M165.68 326.65h25.3M165.68 330.34h25.3M165.68 334.03h25.3M165.68 337.72h25.3M165.68 341.41h25.3M165.68 345.11h25.3M165.68 348.8h25.3M165.68 352.49h25.3M165.68 356.18h25.3M165.68 359.87h25.3M165.68 363.57h25.3M165.68 367.26h25.3M165.68 370.95h25.3M165.68 374.64h25.3M165.68 378.33h25.3M165.68 382.03h25.3M165.68 385.72h25.3M165.68 389.41h25.3M165.68 393.1h25.3M165.68 396.79h25.3M165.68 400.49h25.3M165.68 404.18h25.3M165.68 407.87h25.3M165.68 411.56h25.3M165.68 415.25h25.3M165.68 418.95h25.3M165.68 422.64h25.3M165.68 186.35v236.29M170.74 186.35v236.29M175.8 186.35v236.29M180.86 186.35v236.29M185.92 186.35v236.29M190.98 186.35v236.29" stroke="#c8c8c8" stroke-opacity="0.5" stroke-width="0.5" fill="none"/>
<path d="M165.68 271.27h25.3M165.68 274.96h25.3M165.68 278.65h25.3M165.68 282.34h25.3M165.68 286.03h25.3M165.68 271.27v14.77M170.74 271.27v14.77M175.8 271.27v14.77M180.86 271.27v14.77M185.92 271.27v14.77M190.98 271.27v14.77" stroke="#b0b0b0" stroke-width="0.5" fill="none"/>
<path d="M165.68 411.56h25.3M165.68 415.25h25.3M165.68 418.95h25.3M165.68 422.64h25.3M165.68 411.56v11.08M170.74 411.56v11.08M175.8 411.56v11.08M180.86 411.56v11.08M185.92 411.56v11.08M190.98 411.56v11.08" stroke="#b0b0b0" stroke-width="0.5" fill="none"/>
<rect x="170.74" y="468.79" width="5.06" height="3.69" fill="#f6d3d7"/>
<rect x="165.68" y="457.72" width="25.3" height="3.69" fill="#000"/>
<path d="M165.68 428.2h25.3M165.68 431.89h25.3M165.68 435.58h25.3M165.68 439.27h25.3M165.68 442.96h25.3M165.68 446.65h25.3M165.68 450.34h25.3M165.68 454.03h25.3M165.68 457.72h25.3M165.68 461.41h25.3M165.68 465.1h25.3M165.68 468.79h25.3M165.68 472.48h25.3M165.68 476.17h25.3M165.68 479.86h25.3M165.68 483.55h25.3M165.68 487.24h25.3M165.68 490.93h25.3M165.68 494.62h25.3M165.68 498.31h25.3M165.68 502h25.3M165.68 505.69h25.3M165.68 428.2v77.49M170.74 428.2v77.49M175.8 428.2v77.49M180.86 428.2v77.49M185.92 428.2v77.49M190.98 428.2v77.49" stroke="#c8c8c8" stroke-opacity="0.5" stroke-width="0.5" fill="none"/>
<path d="M165.68 502h25.3M165.68 505.69h25.3M165.68 502v3.69M170.74 502v3.69M175.8 502v3.69M180.86 502v3.69M185.92 502v3.69M190.98 502v3.69" stroke="#b0b0b0" stroke-width="0.5" fill="none"/>
<text transform="translate(178.33,167.9) scale(0.88,1)" font-size="10.6" font-weight="bold" fill="#111" text-anchor="middle" stroke="#111" stroke-width="0.16">A46</text>
<text transform="translate(169.51,180.8) rotate(-90)" font-size="3.5" fill="#444">C</text>
<text transform="translate(174.57,180.8) rotate(-90)" font-size="3.5" fill="#444">8</text>
<text transform="translate(179.63,180.8) rotate(-90)" font-size="3.5" fill="#444">40</text>
<text transform="translate(184.69,180.8) rotate(-90)" font-size="3.5" fill="#444">200</text>
<text transform="translate(189.75,180.8) rotate(-90)" font-size="3.5" fill="#444">1000</text>
<rect x="200.86" y="271.27" width="5.06" height="3.69" fill="#f6d3d7"/>
<rect x="200.86" y="282.34" width="5.06" height="3.69" fill="#f6d3d7"/>
<rect x="205.92" y="282.34" width="5.06" height="3.69" fill="#fae9eb"/>
<rect x="195.8" y="297.11" width="25.3" height="3.69" fill="#000"/>
<path d="M195.8 186.35h25.3M195.8 190.04h25.3M195.8 193.73h25.3M195.8 197.43h25.3M195.8 201.12h25.3M195.8 204.81h25.3M195.8 208.5h25.3M195.8 212.19h25.3M195.8 215.89h25.3M195.8 219.58h25.3M195.8 223.27h25.3M195.8 226.96h25.3M195.8 230.65h25.3M195.8 234.35h25.3M195.8 238.04h25.3M195.8 241.73h25.3M195.8 245.42h25.3M195.8 249.11h25.3M195.8 252.81h25.3M195.8 256.5h25.3M195.8 260.19h25.3M195.8 263.88h25.3M195.8 267.57h25.3M195.8 271.27h25.3M195.8 274.96h25.3M195.8 278.65h25.3M195.8 282.34h25.3M195.8 286.03h25.3M195.8 289.73h25.3M195.8 293.42h25.3M195.8 297.11h25.3M195.8 300.8h25.3M195.8 304.49h25.3M195.8 308.19h25.3M195.8 311.88h25.3M195.8 315.57h25.3M195.8 319.26h25.3M195.8 322.95h25.3M195.8 326.65h25.3M195.8 330.34h25.3M195.8 334.03h25.3M195.8 337.72h25.3M195.8 341.41h25.3M195.8 345.11h25.3M195.8 348.8h25.3M195.8 352.49h25.3M195.8 356.18h25.3M195.8 359.87h25.3M195.8 363.57h25.3M195.8 367.26h25.3M195.8 370.95h25.3M195.8 374.64h25.3M195.8 378.33h25.3M195.8 382.03h25.3M195.8 385.72h25.3M195.8 389.41h25.3M195.8 393.1h25.3M195.8 396.79h25.3M195.8 400.49h25.3M195.8 404.18h25.3M195.8 407.87h25.3M195.8 411.56h25.3M195.8 415.25h25.3M195.8 418.95h25.3M195.8 422.64h25.3M195.8 186.35v236.29M200.86 186.35v236.29M205.92 186.35v236.29M210.98 186.35v236.29M216.04 186.35v236.29M221.1 186.35v236.29" stroke="#c8c8c8" stroke-opacity="0.5" stroke-width="0.5" fill="none"/>
<path d="M195.8 286.03h25.3M195.8 289.73h25.3M195.8 293.42h25.3M195.8 297.11h25.3M195.8 300.8h25.3M195.8 286.03v14.77M200.86 286.03v14.77M205.92 286.03v14.77M210.98 286.03v14.77M216.04 286.03v14.77M221.1 286.03v14.77" stroke="#b0b0b0" stroke-width="0.5" fill="none"/>
<path d="M195.8 411.56h25.3M195.8 415.25h25.3M195.8 418.95h25.3M195.8 422.64h25.3M195.8 411.56v11.08M200.86 411.56v11.08M205.92 411.56v11.08M210.98 411.56v11.08M216.04 411.56v11.08M221.1 411.56v11.08" stroke="#b0b0b0" stroke-width="0.5" fill="none"/>
<rect x="200.86" y="457.72" width="5.06" height="3.69" fill="#f6d3d7"/>
<rect x="195.8" y="461.41" width="25.3" height="3.69" fill="#000"/>
<path d="M195.8 428.2h25.3M195.8 431.89h25.3M195.8 435.58h25.3M195.8 439.27h25.3M195.8 442.96h25.3M195.8 446.65h25.3M195.8 450.34h25.3M195.8 454.03h25.3M195.8 457.72h25.3M195.8 461.41h25.3M195.8 465.1h25.3M195.8 468.79h25.3M195.8 472.48h25.3M195.8 476.17h25.3M195.8 479.86h25.3M195.8 483.55h25.3M195.8 487.24h25.3M195.8 490.93h25.3M195.8 494.62h25.3M195.8 498.31h25.3M195.8 502h25.3M195.8 505.69h25.3M195.8 428.2v77.49M200.86 428.2v77.49M205.92 428.2v77.49M210.98 428.2v77.49M216.04 428.2v77.49M221.1 428.2v77.49" stroke="#c8c8c8" stroke-opacity="0.5" stroke-width="0.5" fill="none"/>
<path d="M195.8 502h25.3M195.8 505.69h25.3M195.8 502v3.69M200.86 502v3.69M205.92 502v3.69M210.98 502v3.69M216.04 502v3.69M221.1 502v3.69" stroke="#b0b0b0" stroke-width="0.5" fill="none"/>
<text transform="translate(208.45,167.9) scale(0.88,1)" font-size="10.6" font-weight="bold" fill="#111" text-anchor="middle" stroke="#111" stroke-width="0.16">G47</text>
<text transform="translate(199.63,180.8) rotate(-90)" font-size="3.5" fill="#444">C</text>
<text transform="translate(204.69,180.8) rotate(-90)" font-size="3.5" fill="#444">8</text>
<text transform="translate(209.75,180.8) rotate(-90)" font-size="3.5" fill="#444">40</text>
<text transform="translate(214.81,180.8) rotate(-90)" font-size="3.5" fill="#444">200</text>
<text transform="translate(219.87,180.8) rotate(-90)" font-size="3.5" fill="#444">1000</text>
<rect x="225.92" y="297.11" width="25.3" height="3.69" fill="#000"/>
<path d="M225.92 186.35h25.3M225.92 190.04h25.3M225.92 193.73h25.3M225.92 197.43h25.3M225.92 201.12h25.3M225.92 204.81h25.3M225.92 208.5h25.3M225.92 212.19h25.3M225.92 215.89h25.3M225.92 219.58h25.3M225.92 223.27h25.3M225.92 226.96h25.3M225.92 230.65h25.3M225.92 234.35h25.3M225.92 238.04h25.3M225.92 241.73h25.3M225.92 245.42h25.3M225.92 249.11h25.3M225.92 252.81h25.3M225.92 256.5h25.3M225.92 260.19h25.3M225.92 263.88h25.3M225.92 267.57h25.3M225.92 271.27h25.3M225.92 274.96h25.3M225.92 278.65h25.3M225.92 282.34h25.3M225.92 286.03h25.3M225.92 289.73h25.3M225.92 293.42h25.3M225.92 297.11h25.3M225.92 300.8h25.3M225.92 304.49h25.3M225.92 308.19h25.3M225.92 311.88h25.3M225.92 315.57h25.3M225.92 319.26h25.3M225.92 322.95h25.3M225.92 326.65h25.3M225.92 330.34h25.3M225.92 334.03h25.3M225.92 337.72h25.3M225.92 341.41h25.3M225.92 345.11h25.3M225.92 348.8h25.3M225.92 352.49h25.3M225.92 356.18h25.3M225.92 359.87h25.3M225.92 363.57h25.3M225.92 367.26h25.3M225.92 370.95h25.3M225.92 374.64h25.3M225.92 378.33h25.3M225.92 382.03h25.3M225.92 385.72h25.3M225.92 389.41h25.3M225.92 393.1h25.3M225.92 396.79h25.3M225.92 400.49h25.3M225.92 404.18h25.3M225.92 407.87h25.3M225.92 411.56h25.3M225.92 415.25h25.3M225.92 418.95h25.3M225.92 422.64h25.3M225.92 186.35v236.29M230.98 186.35v236.29M236.04 186.35v236.29M241.1 186.35v236.29M246.16 186.35v236.29M251.22 186.35v236.29" stroke="#c8c8c8" stroke-opacity="0.5" stroke-width="0.5" fill="none"/>
<path d="M225.92 286.03h25.3M225.92 289.73h25.3M225.92 293.42h25.3M225.92 297.11h25.3M225.92 300.8h25.3M225.92 286.03v14.77M230.98 286.03v14.77M236.04 286.03v14.77M241.1 286.03v14.77M246.16 286.03v14.77M251.22 286.03v14.77" stroke="#b0b0b0" stroke-width="0.5" fill="none"/>
<path d="M225.92 411.56h25.3M225.92 415.25h25.3M225.92 418.95h25.3M225.92 422.64h25.3M225.92 411.56v11.08M230.98 411.56v11.08M236.04 411.56v11.08M241.1 411.56v11.08M246.16 411.56v11.08M251.22 411.56v11.08" stroke="#b0b0b0" stroke-width="0.5" fill="none"/>
<rect x="225.92" y="461.41" width="25.3" height="3.69" fill="#000"/>
<path d="M225.92 428.2h25.3M225.92 431.89h25.3M225.92 435.58h25.3M225.92 439.27h25.3M225.92 442.96h25.3M225.92 446.65h25.3M225.92 450.34h25.3M225.92 454.03h25.3M225.92 457.72h25.3M225.92 461.41h25.3M225.92 465.1h25.3M225.92 468.79h25.3M225.92 472.48h25.3M225.92 476.17h25.3M225.92 479.86h25.3M225.92 483.55h25.3M225.92 487.24h25.3M225.92 490.93h25.3M225.92 494.62h25.3M225.92 498.31h25.3M225.92 502h25.3M225.92 505.69h25.3M225.92 428.2v77.49M230.98 428.2v77.49M236.04 428.2v77.49M241.1 428.2v77.49M246.16 428.2v77.49M251.22 428.2v77.49" stroke="#c8c8c8" stroke-opacity="0.5" stroke-width="0.5" fill="none"/>
<path d="M225.92 502h25.3M225.92 505.69h25.3M225.92 502v3.69M230.98 502v3.69M236.04 502v3.69M241.1 502v3.69M246.16 502v3.69M251.22 502v3.69" stroke="#b0b0b0" stroke-width="0.5" fill="none"/>
<text transform="translate(238.57,167.9) scale(0.88,1)" font-size="10.6" font-weight="bold" fill="#111" text-anchor="middle" stroke="#111" stroke-width="0.16">G48</text>
<text transform="translate(229.75,180.8) rotate(-90)" font-size="3.5" fill="#444">C</text>
<text transform="translate(234.81,180.8) rotate(-90)" font-size="3.5" fill="#444">8</text>
<text transform="translate(239.87,180.8) rotate(-90)" font-size="3.5" fill="#444">40</text>
<text transform="translate(244.93,180.8) rotate(-90)" font-size="3.5" fill="#444">200</text>
<text transform="translate(249.99,180.8) rotate(-90)" font-size="3.5" fill="#444">1000</text>
<rect x="261.1" y="352.49" width="5.06" height="3.69" fill="#fae9eb"/>
<rect x="261.1" y="356.18" width="5.06" height="3.69" fill="#fae9eb"/>
<rect x="261.1" y="359.87" width="5.06" height="3.69" fill="#fae9eb"/>
<rect x="261.1" y="363.57" width="5.06" height="3.69" fill="#fae9eb"/>
<rect x="256.04" y="326.65" width="25.3" height="3.69" fill="#000"/>
<path d="M256.04 186.35h25.3M256.04 190.04h25.3M256.04 193.73h25.3M256.04 197.43h25.3M256.04 201.12h25.3M256.04 204.81h25.3M256.04 208.5h25.3M256.04 212.19h25.3M256.04 215.89h25.3M256.04 219.58h25.3M256.04 223.27h25.3M256.04 226.96h25.3M256.04 230.65h25.3M256.04 234.35h25.3M256.04 238.04h25.3M256.04 241.73h25.3M256.04 245.42h25.3M256.04 249.11h25.3M256.04 252.81h25.3M256.04 256.5h25.3M256.04 260.19h25.3M256.04 263.88h25.3M256.04 267.57h25.3M256.04 271.27h25.3M256.04 274.96h25.3M256.04 278.65h25.3M256.04 282.34h25.3M256.04 286.03h25.3M256.04 289.73h25.3M256.04 293.42h25.3M256.04 297.11h25.3M256.04 300.8h25.3M256.04 304.49h25.3M256.04 308.19h25.3M256.04 311.88h25.3M256.04 315.57h25.3M256.04 319.26h25.3M256.04 322.95h25.3M256.04 326.65h25.3M256.04 330.34h25.3M256.04 334.03h25.3M256.04 337.72h25.3M256.04 341.41h25.3M256.04 345.11h25.3M256.04 348.8h25.3M256.04 352.49h25.3M256.04 356.18h25.3M256.04 359.87h25.3M256.04 363.57h25.3M256.04 367.26h25.3M256.04 370.95h25.3M256.04 374.64h25.3M256.04 378.33h25.3M256.04 382.03h25.3M256.04 385.72h25.3M256.04 389.41h25.3M256.04 393.1h25.3M256.04 396.79h25.3M256.04 400.49h25.3M256.04 404.18h25.3M256.04 407.87h25.3M256.04 411.56h25.3M256.04 415.25h25.3M256.04 418.95h25.3M256.04 422.64h25.3M256.04 186.35v236.29M261.1 186.35v236.29M266.16 186.35v236.29M271.22 186.35v236.29M276.28 186.35v236.29M281.34 186.35v236.29" stroke="#c8c8c8" stroke-opacity="0.5" stroke-width="0.5" fill="none"/>
<path d="M256.04 308.19h25.3M256.04 311.88h25.3M256.04 315.57h25.3M256.04 319.26h25.3M256.04 322.95h25.3M256.04 326.65h25.3M256.04 330.34h25.3M256.04 308.19v22.15M261.1 308.19v22.15M266.16 308.19v22.15M271.22 308.19v22.15M276.28 308.19v22.15M281.34 308.19v22.15" stroke="#b0b0b0" stroke-width="0.5" fill="none"/>
<path d="M256.04 411.56h25.3M256.04 415.25h25.3M256.04 418.95h25.3M256.04 422.64h25.3M256.04 411.56v11.08M261.1 411.56v11.08M266.16 411.56v11.08M271.22 411.56v11.08M276.28 411.56v11.08M281.34 411.56v11.08" stroke="#b0b0b0" stroke-width="0.5" fill="none"/>
<rect x="261.1" y="483.55" width="5.06" height="3.69" fill="#f6d3d7"/>
<rect x="261.1" y="487.24" width="5.06" height="3.69" fill="#f6d3d7"/>
<rect x="256.04" y="468.79" width="25.3" height="3.69" fill="#000"/>
<path d="M256.04 428.2h25.3M256.04 431.89h25.3M256.04 435.58h25.3M256.04 439.27h25.3M256.04 442.96h25.3M256.04 446.65h25.3M256.04 450.34h25.3M256.04 454.03h25.3M256.04 457.72h25.3M256.04 461.41h25.3M256.04 465.1h25.3M256.04 468.79h25.3M256.04 472.48h25.3M256.04 476.17h25.3M256.04 479.86h25.3M256.04 483.55h25.3M256.04 487.24h25.3M256.04 490.93h25.3M256.04 494.62h25.3M256.04 498.31h25.3M256.04 502h25.3M256.04 505.69h25.3M256.04 428.2v77.49M261.1 428.2v77.49M266.16 428.2v77.49M271.22 428.2v77.49M276.28 428.2v77.49M281.34 428.2v77.49" stroke="#c8c8c8" stroke-opacity="0.5" stroke-width="0.5" fill="none"/>
<path d="M256.04 502h25.3M256.04 505.69h25.3M256.04 502v3.69M261.1 502v3.69M266.16 502v3.69M271.22 502v3.69M276.28 502v3.69M281.34 502v3.69" stroke="#b0b0b0" stroke-width="0.5" fill="none"/>
<text transform="translate(268.69,167.9) scale(0.88,1)" font-size="10.6" font-weight="bold" fill="#111" text-anchor="middle" stroke="#111" stroke-width="0.16">S96</text>
<text transform="translate(259.87,180.8) rotate(-90)" font-size="3.5" fill="#444">C</text>
<text transform="translate(264.93,180.8) rotate(-90)" font-size="3.5" fill="#444">8</text>
<text transform="translate(269.99,180.8) rotate(-90)" font-size="3.5" fill="#444">40</text>
<text transform="translate(275.05,180.8) rotate(-90)" font-size="3.5" fill="#444">200</text>
<text transform="translate(280.11,180.8) rotate(-90)" font-size="3.5" fill="#444">1000</text>
<rect x="286.16" y="219.58" width="25.3" height="3.69" fill="#000"/>
<path d="M286.16 186.35h25.3M286.16 190.04h25.3M286.16 193.73h25.3M286.16 197.43h25.3M286.16 201.12h25.3M286.16 204.81h25.3M286.16 208.5h25.3M286.16 212.19h25.3M286.16 215.89h25.3M286.16 219.58h25.3M286.16 223.27h25.3M286.16 226.96h25.3M286.16 230.65h25.3M286.16 234.35h25.3M286.16 238.04h25.3M286.16 241.73h25.3M286.16 245.42h25.3M286.16 249.11h25.3M286.16 252.81h25.3M286.16 256.5h25.3M286.16 260.19h25.3M286.16 263.88h25.3M286.16 267.57h25.3M286.16 271.27h25.3M286.16 274.96h25.3M286.16 278.65h25.3M286.16 282.34h25.3M286.16 286.03h25.3M286.16 289.73h25.3M286.16 293.42h25.3M286.16 297.11h25.3M286.16 300.8h25.3M286.16 304.49h25.3M286.16 308.19h25.3M286.16 311.88h25.3M286.16 315.57h25.3M286.16 319.26h25.3M286.16 322.95h25.3M286.16 326.65h25.3M286.16 330.34h25.3M286.16 334.03h25.3M286.16 337.72h25.3M286.16 341.41h25.3M286.16 345.11h25.3M286.16 348.8h25.3M286.16 352.49h25.3M286.16 356.18h25.3M286.16 359.87h25.3M286.16 363.57h25.3M286.16 367.26h25.3M286.16 370.95h25.3M286.16 374.64h25.3M286.16 378.33h25.3M286.16 382.03h25.3M286.16 385.72h25.3M286.16 389.41h25.3M286.16 393.1h25.3M286.16 396.79h25.3M286.16 400.49h25.3M286.16 404.18h25.3M286.16 407.87h25.3M286.16 411.56h25.3M286.16 415.25h25.3M286.16 418.95h25.3M286.16 422.64h25.3M286.16 186.35v236.29M291.22 186.35v236.29M296.28 186.35v236.29M301.34 186.35v236.29M306.4 186.35v236.29M311.46 186.35v236.29" stroke="#c8c8c8" stroke-opacity="0.5" stroke-width="0.5" fill="none"/>
<path d="M286.16 411.56h25.3M286.16 415.25h25.3M286.16 418.95h25.3M286.16 422.64h25.3M286.16 411.56v11.08M291.22 411.56v11.08M296.28 411.56v11.08M301.34 411.56v11.08M306.4 411.56v11.08M311.46 411.56v11.08" stroke="#b0b0b0" stroke-width="0.5" fill="none"/>
<rect x="286.16" y="442.96" width="25.3" height="3.69" fill="#000"/>
<path d="M286.16 428.2h25.3M286.16 431.89h25.3M286.16 435.58h25.3M286.16 439.27h25.3M286.16 442.96h25.3M286.16 446.65h25.3M286.16 450.34h25.3M286.16 454.03h25.3M286.16 457.72h25.3M286.16 461.41h25.3M286.16 465.1h25.3M286.16 468.79h25.3M286.16 472.48h25.3M286.16 476.17h25.3M286.16 479.86h25.3M286.16 483.55h25.3M286.16 487.24h25.3M286.16 490.93h25.3M286.16 494.62h25.3M286.16 498.31h25.3M286.16 502h25.3M286.16 505.69h25.3M286.16 428.2v77.49M291.22 428.2v77.49M296.28 428.2v77.49M301.34 428.2v77.49M306.4 428.2v77.49M311.46 428.2v77.49" stroke="#c8c8c8" stroke-opacity="0.5" stroke-width="0.5" fill="none"/>
<path d="M286.16 502h25.3M286.16 505.69h25.3M286.16 502v3.69M291.22 502v3.69M296.28 502v3.69M301.34 502v3.69M306.4 502v3.69M311.46 502v3.69" stroke="#b0b0b0" stroke-width="0.5" fill="none"/>
<text transform="translate(298.81,167.9) scale(0.88,1)" font-size="10.6" font-weight="bold" fill="#111" text-anchor="middle" stroke="#111" stroke-width="0.16">M97</text>
<text transform="translate(289.99,180.8) rotate(-90)" font-size="3.5" fill="#444">C</text>
<text transform="translate(295.05,180.8) rotate(-90)" font-size="3.5" fill="#444">8</text>
<text transform="translate(300.11,180.8) rotate(-90)" font-size="3.5" fill="#444">40</text>
<text transform="translate(305.17,180.8) rotate(-90)" font-size="3.5" fill="#444">200</text>
<text transform="translate(310.23,180.8) rotate(-90)" font-size="3.5" fill="#444">1000</text>
<rect x="321.34" y="190.04" width="5.06" height="3.69" fill="#fae9eb"/>
<rect x="326.4" y="190.04" width="5.06" height="3.69" fill="#fae9eb"/>
<rect x="321.34" y="193.73" width="5.06" height="3.69" fill="#fae9eb"/>
<rect x="326.4" y="193.73" width="5.06" height="3.69" fill="#fae9eb"/>
<rect x="321.34" y="197.43" width="5.06" height="3.69" fill="#fae9eb"/>
<rect x="326.4" y="197.43" width="5.06" height="3.69" fill="#fae9eb"/>
<rect x="331.46" y="197.43" width="5.06" height="3.69" fill="#fae9eb"/>
<rect x="321.34" y="201.12" width="5.06" height="3.69" fill="#fae9eb"/>
<rect x="326.4" y="201.12" width="5.06" height="3.69" fill="#fae9eb"/>
<rect x="331.46" y="201.12" width="5.06" height="3.69" fill="#fae9eb"/>
<rect x="336.52" y="223.27" width="5.06" height="3.69" fill="#fae9eb"/>
<rect x="321.34" y="230.65" width="5.06" height="3.69" fill="#fae9eb"/>
<rect x="321.34" y="234.35" width="5.06" height="3.69" fill="#fae9eb"/>
<rect x="321.34" y="238.04" width="5.06" height="3.69" fill="#fae9eb"/>
<rect x="321.34" y="241.73" width="5.06" height="3.69" fill="#fae9eb"/>
<rect x="321.34" y="245.42" width="5.06" height="3.69" fill="#fae9eb"/>
<rect x="326.4" y="245.42" width="5.06" height="3.69" fill="#fae9eb"/>
<rect x="336.52" y="252.81" width="5.06" height="3.69" fill="#fae9eb"/>
<rect x="321.34" y="256.5" width="5.06" height="3.69" fill="#f6d3d7"/>
<rect x="326.4" y="256.5" width="5.06" height="3.69" fill="#f6d3d7"/>
<rect x="331.46" y="256.5" width="5.06" height="3.69" fill="#fae9eb"/>
<rect x="336.52" y="256.5" width="5.06" height="3.69" fill="#f6d3d7"/>
<rect x="321.34" y="260.19" width="5.06" height="3.69" fill="#fae9eb"/>
<rect x="326.4" y="260.19" width="5.06" height="3.69" fill="#fae9eb"/>
<rect x="336.52" y="260.19" width="5.06" height="3.69" fill="#fae9eb"/>
<rect x="321.34" y="263.88" width="5.06" height="3.69" fill="#fae9eb"/>
<rect x="321.34" y="267.57" width="5.06" height="3.69" fill="#fae9eb"/>
<rect x="326.4" y="267.57" width="5.06" height="3.69" fill="#fae9eb"/>
<rect x="321.34" y="271.27" width="5.06" height="3.69" fill="#f2b0b7"/>
<rect x="326.4" y="271.27" width="5.06" height="3.69" fill="#ee5e68"/>
<rect x="331.46" y="271.27" width="5.06" height="3.69" fill="#f6d3d7"/>
<rect x="321.34" y="274.96" width="5.06" height="3.69" fill="#fae9eb"/>
<rect x="326.4" y="274.96" width="5.06" height="3.69" fill="#f6d3d7"/>
<rect x="331.46" y="274.96" width="5.06" height="3.69" fill="#fae9eb"/>
<rect x="321.34" y="278.65" width="5.06" height="3.69" fill="#fae9eb"/>
<rect x="326.4" y="278.65" width="5.06" height="3.69" fill="#f6d3d7"/>
<rect x="321.34" y="282.34" width="5.06" height="3.69" fill="#fae9eb"/>
<rect x="326.4" y="282.34" width="5.06" height="3.69" fill="#f2b0b7"/>
<rect x="331.46" y="282.34" width="5.06" height="3.69" fill="#fae9eb"/>
<rect x="321.34" y="300.8" width="5.06" height="3.69" fill="#f6d3d7"/>
<rect x="326.4" y="300.8" width="5.06" height="3.69" fill="#f2b0b7"/>
<rect x="331.46" y="300.8" width="5.06" height="3.69" fill="#f2b0b7"/>
<rect x="336.52" y="300.8" width="5.06" height="3.69" fill="#f2b0b7"/>
<rect x="321.34" y="304.49" width="5.06" height="3.69" fill="#f6d3d7"/>
<rect x="326.4" y="304.49" width="5.06" height="3.69" fill="#f6d3d7"/>
<rect x="331.46" y="304.49" width="5.06" height="3.69" fill="#f6d3d7"/>
<rect x="336.52" y="304.49" width="5.06" height="3.69" fill="#f6d3d7"/>
<rect x="321.34" y="308.19" width="5.06" height="3.69" fill="#f6d3d7"/>
<rect x="326.4" y="308.19" width="5.06" height="3.69" fill="#f6d3d7"/>
<rect x="331.46" y="308.19" width="5.06" height="3.69" fill="#f6d3d7"/>
<rect x="336.52" y="308.19" width="5.06" height="3.69" fill="#f6d3d7"/>
<rect x="321.34" y="311.88" width="5.06" height="3.69" fill="#f6d3d7"/>
<rect x="326.4" y="311.88" width="5.06" height="3.69" fill="#f2b0b7"/>
<rect x="331.46" y="311.88" width="5.06" height="3.69" fill="#f2b0b7"/>
<rect x="336.52" y="311.88" width="5.06" height="3.69" fill="#f2b0b7"/>
<rect x="321.34" y="315.57" width="5.06" height="3.69" fill="#f2b0b7"/>
<rect x="326.4" y="315.57" width="5.06" height="3.69" fill="#ef8a93"/>
<rect x="331.46" y="315.57" width="5.06" height="3.69" fill="#ef8a93"/>
<rect x="336.52" y="315.57" width="5.06" height="3.69" fill="#ef8a93"/>
<rect x="321.34" y="319.26" width="5.06" height="3.69" fill="#f6d3d7"/>
<rect x="326.4" y="319.26" width="5.06" height="3.69" fill="#f6d3d7"/>
<rect x="331.46" y="319.26" width="5.06" height="3.69" fill="#f2b0b7"/>
<rect x="336.52" y="319.26" width="5.06" height="3.69" fill="#f6d3d7"/>
<rect x="321.34" y="322.95" width="5.06" height="3.69" fill="#fae9eb"/>
<rect x="326.4" y="322.95" width="5.06" height="3.69" fill="#f6d3d7"/>
<rect x="331.46" y="322.95" width="5.06" height="3.69" fill="#fae9eb"/>
<rect x="336.52" y="322.95" width="5.06" height="3.69" fill="#fae9eb"/>
<rect x="321.34" y="326.65" width="5.06" height="3.69" fill="#f6d3d7"/>
<rect x="326.4" y="326.65" width="5.06" height="3.69" fill="#f2b0b7"/>
<rect x="331.46" y="326.65" width="5.06" height="3.69" fill="#f2b0b7"/>
<rect x="336.52" y="326.65" width="5.06" height="3.69" fill="#f2b0b7"/>
<rect x="321.34" y="330.34" width="5.06" height="3.69" fill="#fae9eb"/>
<rect x="336.52" y="330.34" width="5.06" height="3.69" fill="#fae9eb"/>
<rect x="321.34" y="334.03" width="5.06" height="3.69" fill="#fae9eb"/>
<rect x="321.34" y="337.72" width="5.06" height="3.69" fill="#fae9eb"/>
<rect x="321.34" y="341.41" width="5.06" height="3.69" fill="#fae9eb"/>
<rect x="321.34" y="345.11" width="5.06" height="3.69" fill="#ef8a93"/>
<rect x="326.4" y="345.11" width="5.06" height="3.69" fill="#ee5e68"/>
<rect x="331.46" y="345.11" width="5.06" height="3.69" fill="#f6d3d7"/>
<rect x="336.52" y="345.11" width="5.06" height="3.69" fill="#fae9eb"/>
<rect x="321.34" y="348.8" width="5.06" height="3.69" fill="#f6d3d7"/>
<rect x="326.4" y="348.8" width="5.06" height="3.69" fill="#fae9eb"/>
<rect x="331.46" y="348.8" width="5.06" height="3.69" fill="#fae9eb"/>
<rect x="321.34" y="352.49" width="5.06" height="3.69" fill="#f2b0b7"/>
<rect x="326.4" y="352.49" width="5.06" height="3.69" fill="#ef8a93"/>
<rect x="331.46" y="352.49" width="5.06" height="3.69" fill="#f2b0b7"/>
<rect x="336.52" y="352.49" width="5.06" height="3.69" fill="#fae9eb"/>
<rect x="321.34" y="356.18" width="5.06" height="3.69" fill="#f2b0b7"/>
<rect x="326.4" y="356.18" width="5.06" height="3.69" fill="#f2b0b7"/>
<rect x="331.46" y="356.18" width="5.06" height="3.69" fill="#f6d3d7"/>
<rect x="336.52" y="356.18" width="5.06" height="3.69" fill="#fae9eb"/>
<rect x="321.34" y="359.87" width="5.06" height="3.69" fill="#fae9eb"/>
<rect x="326.4" y="359.87" width="5.06" height="3.69" fill="#fae9eb"/>
<rect x="336.52" y="359.87" width="5.06" height="3.69" fill="#f2b0b7"/>
<rect x="321.34" y="363.57" width="5.06" height="3.69" fill="#fae9eb"/>
<rect x="326.4" y="363.57" width="5.06" height="3.69" fill="#fae9eb"/>
<rect x="321.34" y="367.26" width="5.06" height="3.69" fill="#fae9eb"/>
<rect x="326.4" y="367.26" width="5.06" height="3.69" fill="#fae9eb"/>
<rect x="321.34" y="374.64" width="5.06" height="3.69" fill="#f2b0b7"/>
<rect x="326.4" y="374.64" width="5.06" height="3.69" fill="#ef8a93"/>
<rect x="331.46" y="374.64" width="5.06" height="3.69" fill="#f2b0b7"/>
<rect x="336.52" y="374.64" width="5.06" height="3.69" fill="#ef8a93"/>
<rect x="321.34" y="378.33" width="5.06" height="3.69" fill="#ef8a93"/>
<rect x="326.4" y="378.33" width="5.06" height="3.69" fill="#ee5e68"/>
<rect x="331.46" y="378.33" width="5.06" height="3.69" fill="#ef8a93"/>
<rect x="336.52" y="378.33" width="5.06" height="3.69" fill="#f6d3d7"/>
<rect x="321.34" y="404.18" width="5.06" height="3.69" fill="#f6d3d7"/>
<rect x="326.4" y="404.18" width="5.06" height="3.69" fill="#fae9eb"/>
<rect x="321.34" y="407.87" width="5.06" height="3.69" fill="#fae9eb"/>
<rect x="316.28" y="286.03" width="25.3" height="3.69" fill="#000"/>
<path d="M316.28 186.35h25.3M316.28 190.04h25.3M316.28 193.73h25.3M316.28 197.43h25.3M316.28 201.12h25.3M316.28 204.81h25.3M316.28 208.5h25.3M316.28 212.19h25.3M316.28 215.89h25.3M316.28 219.58h25.3M316.28 223.27h25.3M316.28 226.96h25.3M316.28 230.65h25.3M316.28 234.35h25.3M316.28 238.04h25.3M316.28 241.73h25.3M316.28 245.42h25.3M316.28 249.11h25.3M316.28 252.81h25.3M316.28 256.5h25.3M316.28 260.19h25.3M316.28 263.88h25.3M316.28 267.57h25.3M316.28 271.27h25.3M316.28 274.96h25.3M316.28 278.65h25.3M316.28 282.34h25.3M316.28 286.03h25.3M316.28 289.73h25.3M316.28 293.42h25.3M316.28 297.11h25.3M316.28 300.8h25.3M316.28 304.49h25.3M316.28 308.19h25.3M316.28 311.88h25.3M316.28 315.57h25.3M316.28 319.26h25.3M316.28 322.95h25.3M316.28 326.65h25.3M316.28 330.34h25.3M316.28 334.03h25.3M316.28 337.72h25.3M316.28 341.41h25.3M316.28 345.11h25.3M316.28 348.8h25.3M316.28 352.49h25.3M316.28 356.18h25.3M316.28 359.87h25.3M316.28 363.57h25.3M316.28 367.26h25.3M316.28 370.95h25.3M316.28 374.64h25.3M316.28 378.33h25.3M316.28 382.03h25.3M316.28 385.72h25.3M316.28 389.41h25.3M316.28 393.1h25.3M316.28 396.79h25.3M316.28 400.49h25.3M316.28 404.18h25.3M316.28 407.87h25.3M316.28 411.56h25.3M316.28 415.25h25.3M316.28 418.95h25.3M316.28 422.64h25.3M316.28 186.35v236.29M321.34 186.35v236.29M326.4 186.35v236.29M331.46 186.35v236.29M336.52 186.35v236.29M341.58 186.35v236.29" stroke="#c8c8c8" stroke-opacity="0.5" stroke-width="0.5" fill="none"/>
<path d="M316.28 286.03h25.3M316.28 289.73h25.3M316.28 293.42h25.3M316.28 297.11h25.3M316.28 300.8h25.3M316.28 286.03v14.77M321.34 286.03v14.77M326.4 286.03v14.77M331.46 286.03v14.77M336.52 286.03v14.77M341.58 286.03v14.77" stroke="#b0b0b0" stroke-width="0.5" fill="none"/>
<path d="M316.28 411.56h25.3M316.28 415.25h25.3M316.28 418.95h25.3M316.28 422.64h25.3M316.28 411.56v11.08M321.34 411.56v11.08M326.4 411.56v11.08M331.46 411.56v11.08M336.52 411.56v11.08M341.58 411.56v11.08" stroke="#b0b0b0" stroke-width="0.5" fill="none"/>
<rect x="321.34" y="431.89" width="5.06" height="3.69" fill="#f6d3d7"/>
<rect x="326.4" y="431.89" width="5.06" height="3.69" fill="#fae9eb"/>
<rect x="331.46" y="431.89" width="5.06" height="3.69" fill="#fae9eb"/>
<rect x="321.34" y="435.58" width="5.06" height="3.69" fill="#f2b0b7"/>
<rect x="326.4" y="435.58" width="5.06" height="3.69" fill="#f2b0b7"/>
<rect x="331.46" y="435.58" width="5.06" height="3.69" fill="#fae9eb"/>
<rect x="336.52" y="435.58" width="5.06" height="3.69" fill="#fae9eb"/>
<rect x="321.34" y="442.96" width="5.06" height="3.69" fill="#fae9eb"/>
<rect x="326.4" y="442.96" width="5.06" height="3.69" fill="#fae9eb"/>
<rect x="321.34" y="446.65" width="5.06" height="3.69" fill="#fae9eb"/>
<rect x="326.4" y="446.65" width="5.06" height="3.69" fill="#fae9eb"/>
<rect x="336.52" y="446.65" width="5.06" height="3.69" fill="#fae9eb"/>
<rect x="321.34" y="450.34" width="5.06" height="3.69" fill="#fae9eb"/>
<rect x="326.4" y="450.34" width="5.06" height="3.69" fill="#fae9eb"/>
<rect x="321.34" y="454.03" width="5.06" height="3.69" fill="#f2b0b7"/>
<rect x="326.4" y="454.03" width="5.06" height="3.69" fill="#f2b0b7"/>
<rect x="331.46" y="454.03" width="5.06" height="3.69" fill="#f6d3d7"/>
<rect x="336.52" y="454.03" width="5.06" height="3.69" fill="#f2b0b7"/>
<rect x="321.34" y="457.72" width="5.06" height="3.69" fill="#ee5e68"/>
<rect x="326.4" y="457.72" width="5.06" height="3.69" fill="#f8180c"/>
<rect x="331.46" y="457.72" width="5.06" height="3.69" fill="#f2b0b7"/>
<rect x="321.34" y="465.1" width="5.06" height="3.69" fill="#ef8a93"/>
<rect x="326.4" y="465.1" width="5.06" height="3.69" fill="#f0323a"/>
<rect x="331.46" y="465.1" width="5.06" height="3.69" fill="#f8180c"/>
<rect x="336.52" y="465.1" width="5.06" height="3.69" fill="#f8180c"/>
<rect x="321.34" y="468.79" width="5.06" height="3.69" fill="#f2b0b7"/>
<rect x="326.4" y="468.79" width="5.06" height="3.69" fill="#ee5e68"/>
<rect x="331.46" y="468.79" width="5.06" height="3.69" fill="#f0323a"/>
<rect x="336.52" y="468.79" width="5.06" height="3.69" fill="#f0323a"/>
<rect x="321.34" y="472.48" width="5.06" height="3.69" fill="#fae9eb"/>
<rect x="321.34" y="476.17" width="5.06" height="3.69" fill="#f8180c"/>
<rect x="326.4" y="476.17" width="5.06" height="3.69" fill="#f8180c"/>
<rect x="331.46" y="476.17" width="5.06" height="3.69" fill="#ef8a93"/>
<rect x="336.52" y="476.17" width="5.06" height="3.69" fill="#fae9eb"/>
<rect x="321.34" y="479.86" width="5.06" height="3.69" fill="#f0323a"/>
<rect x="326.4" y="479.86" width="5.06" height="3.69" fill="#f0323a"/>
<rect x="331.46" y="479.86" width="5.06" height="3.69" fill="#ef8a93"/>
<rect x="336.52" y="479.86" width="5.06" height="3.69" fill="#f6d3d7"/>
<rect x="321.34" y="483.55" width="5.06" height="3.69" fill="#f6d3d7"/>
<rect x="326.4" y="483.55" width="5.06" height="3.69" fill="#fae9eb"/>
<rect x="331.46" y="483.55" width="5.06" height="3.69" fill="#fae9eb"/>
<rect x="336.52" y="483.55" width="5.06" height="3.69" fill="#ef8a93"/>
<rect x="321.34" y="487.24" width="5.06" height="3.69" fill="#fae9eb"/>
<rect x="326.4" y="487.24" width="5.06" height="3.69" fill="#fae9eb"/>
<rect x="321.34" y="490.93" width="5.06" height="3.69" fill="#f8180c"/>
<rect x="326.4" y="490.93" width="5.06" height="3.69" fill="#f8180c"/>
<rect x="331.46" y="490.93" width="5.06" height="3.69" fill="#f8180c"/>
<rect x="336.52" y="490.93" width="5.06" height="3.69" fill="#f8180c"/>
<rect x="321.34" y="498.31" width="5.06" height="3.69" fill="#f6d3d7"/>
<rect x="326.4" y="498.31" width="5.06" height="3.69" fill="#fae9eb"/>
<rect x="316.28" y="461.41" width="25.3" height="3.69" fill="#000"/>
<path d="M316.28 428.2h25.3M316.28 431.89h25.3M316.28 435.58h25.3M316.28 439.27h25.3M316.28 442.96h25.3M316.28 446.65h25.3M316.28 450.34h25.3M316.28 454.03h25.3M316.28 457.72h25.3M316.28 461.41h25.3M316.28 465.1h25.3M316.28 468.79h25.3M316.28 472.48h25.3M316.28 476.17h25.3M316.28 479.86h25.3M316.28 483.55h25.3M316.28 487.24h25.3M316.28 490.93h25.3M316.28 494.62h25.3M316.28 498.31h25.3M316.28 502h25.3M316.28 505.69h25.3M316.28 428.2v77.49M321.34 428.2v77.49M326.4 428.2v77.49M331.46 428.2v77.49M336.52 428.2v77.49M341.58 428.2v77.49" stroke="#c8c8c8" stroke-opacity="0.5" stroke-width="0.5" fill="none"/>
<path d="M316.28 502h25.3M316.28 505.69h25.3M316.28 502v3.69M321.34 502v3.69M326.4 502v3.69M331.46 502v3.69M336.52 502v3.69M341.58 502v3.69" stroke="#b0b0b0" stroke-width="0.5" fill="none"/>
<text transform="translate(328.93,167.9) scale(0.88,1)" font-size="10.6" font-weight="bold" fill="#111" text-anchor="middle" stroke="#111" stroke-width="0.16">G98</text>
<text transform="translate(320.11,180.8) rotate(-90)" font-size="3.5" fill="#444">C</text>
<text transform="translate(325.17,180.8) rotate(-90)" font-size="3.5" fill="#444">8</text>
<text transform="translate(330.23,180.8) rotate(-90)" font-size="3.5" fill="#444">40</text>
<text transform="translate(335.29,180.8) rotate(-90)" font-size="3.5" fill="#444">200</text>
<text transform="translate(340.35,180.8) rotate(-90)" font-size="3.5" fill="#444">1000</text>
<rect x="351.46" y="186.35" width="5.06" height="3.69" fill="#fae9eb"/>
<rect x="356.52" y="186.35" width="5.06" height="3.69" fill="#f2b0b7"/>
<rect x="361.58" y="186.35" width="5.06" height="3.69" fill="#ee5e68"/>
<rect x="366.64" y="186.35" width="5.06" height="3.69" fill="#f8180c"/>
<rect x="351.46" y="190.04" width="5.06" height="3.69" fill="#fae9eb"/>
<rect x="356.52" y="190.04" width="5.06" height="3.69" fill="#f2b0b7"/>
<rect x="361.58" y="190.04" width="5.06" height="3.69" fill="#f6d3d7"/>
<rect x="351.46" y="193.73" width="5.06" height="3.69" fill="#fae9eb"/>
<rect x="356.52" y="193.73" width="5.06" height="3.69" fill="#ef8a93"/>
<rect x="361.58" y="193.73" width="5.06" height="3.69" fill="#f0323a"/>
<rect x="351.46" y="219.58" width="5.06" height="3.69" fill="#f2b0b7"/>
<rect x="356.52" y="219.58" width="5.06" height="3.69" fill="#f2b0b7"/>
<rect x="351.46" y="223.27" width="5.06" height="3.69" fill="#ee5e68"/>
<rect x="356.52" y="223.27" width="5.06" height="3.69" fill="#f8180c"/>
<rect x="361.58" y="223.27" width="5.06" height="3.69" fill="#ee5e68"/>
<rect x="366.64" y="223.27" width="5.06" height="3.69" fill="#fae9eb"/>
<rect x="351.46" y="226.96" width="5.06" height="3.69" fill="#fae9eb"/>
<rect x="356.52" y="226.96" width="5.06" height="3.69" fill="#f2b0b7"/>
<rect x="361.58" y="226.96" width="5.06" height="3.69" fill="#fae9eb"/>
<rect x="366.64" y="226.96" width="5.06" height="3.69" fill="#fae9eb"/>
<rect x="351.46" y="230.65" width="5.06" height="3.69" fill="#f2b0b7"/>
<rect x="356.52" y="230.65" width="5.06" height="3.69" fill="#ee5e68"/>
<rect x="361.58" y="230.65" width="5.06" height="3.69" fill="#f2b0b7"/>
<rect x="351.46" y="234.35" width="5.06" height="3.69" fill="#f6d3d7"/>
<rect x="356.52" y="234.35" width="5.06" height="3.69" fill="#f2b0b7"/>
<rect x="351.46" y="238.04" width="5.06" height="3.69" fill="#fae9eb"/>
<rect x="356.52" y="238.04" width="5.06" height="3.69" fill="#f6d3d7"/>
<rect x="351.46" y="241.73" width="5.06" height="3.69" fill="#fae9eb"/>
<rect x="356.52" y="241.73" width="5.06" height="3.69" fill="#f6d3d7"/>
<rect x="351.46" y="245.42" width="5.06" height="3.69" fill="#fae9eb"/>
<rect x="356.52" y="245.42" width="5.06" height="3.69" fill="#f6d3d7"/>
<rect x="351.46" y="249.11" width="5.06" height="3.69" fill="#f2b0b7"/>
<rect x="356.52" y="249.11" width="5.06" height="3.69" fill="#f0323a"/>
<rect x="361.58" y="249.11" width="5.06" height="3.69" fill="#fae9eb"/>
<rect x="366.64" y="249.11" width="5.06" height="3.69" fill="#fae9eb"/>
<rect x="351.46" y="252.81" width="5.06" height="3.69" fill="#f6d3d7"/>
<rect x="356.52" y="252.81" width="5.06" height="3.69" fill="#f2b0b7"/>
<rect x="351.46" y="256.5" width="5.06" height="3.69" fill="#f6d3d7"/>
<rect x="356.52" y="256.5" width="5.06" height="3.69" fill="#ef8a93"/>
<rect x="361.58" y="256.5" width="5.06" height="3.69" fill="#f8180c"/>
<rect x="366.64" y="256.5" width="5.06" height="3.69" fill="#fae9eb"/>
<rect x="351.46" y="260.19" width="5.06" height="3.69" fill="#fae9eb"/>
<rect x="356.52" y="260.19" width="5.06" height="3.69" fill="#f6d3d7"/>
<rect x="361.58" y="260.19" width="5.06" height="3.69" fill="#f2b0b7"/>
<rect x="351.46" y="263.88" width="5.06" height="3.69" fill="#fae9eb"/>
<rect x="356.52" y="263.88" width="5.06" height="3.69" fill="#f6d3d7"/>
<rect x="361.58" y="263.88" width="5.06" height="3.69" fill="#f2b0b7"/>
<rect x="351.46" y="267.57" width="5.06" height="3.69" fill="#f6d3d7"/>
<rect x="356.52" y="267.57" width="5.06" height="3.69" fill="#f6d3d7"/>
<rect x="361.58" y="267.57" width="5.06" height="3.69" fill="#f2b0b7"/>
<rect x="366.64" y="267.57" width="5.06" height="3.69" fill="#f6d3d7"/>
<rect x="351.46" y="271.27" width="5.06" height="3.69" fill="#f2b0b7"/>
<rect x="356.52" y="271.27" width="5.06" height="3.69" fill="#f0323a"/>
<rect x="361.58" y="271.27" width="5.06" height="3.69" fill="#f8180c"/>
<rect x="366.64" y="271.27" width="5.06" height="3.69" fill="#f8180c"/>
<rect x="351.46" y="274.96" width="5.06" height="3.69" fill="#fae9eb"/>
<rect x="356.52" y="274.96" width="5.06" height="3.69" fill="#f6d3d7"/>
<rect x="361.58" y="274.96" width="5.06" height="3.69" fill="#f2b0b7"/>
<rect x="366.64" y="274.96" width="5.06" height="3.69" fill="#f2b0b7"/>
<rect x="351.46" y="278.65" width="5.06" height="3.69" fill="#f6d3d7"/>
<rect x="356.52" y="278.65" width="5.06" height="3.69" fill="#f6d3d7"/>
<rect x="361.58" y="278.65" width="5.06" height="3.69" fill="#f2b0b7"/>
<rect x="366.64" y="278.65" width="5.06" height="3.69" fill="#f2b0b7"/>
<rect x="351.46" y="282.34" width="5.06" height="3.69" fill="#f6d3d7"/>
<rect x="356.52" y="282.34" width="5.06" height="3.69" fill="#f6d3d7"/>
<rect x="361.58" y="282.34" width="5.06" height="3.69" fill="#ef8a93"/>
<rect x="366.64" y="282.34" width="5.06" height="3.69" fill="#ee5e68"/>
<rect x="351.46" y="286.03" width="5.06" height="3.69" fill="#f2b0b7"/>
<rect x="356.52" y="286.03" width="5.06" height="3.69" fill="#ee5e68"/>
<rect x="361.58" y="286.03" width="5.06" height="3.69" fill="#f8180c"/>
<rect x="366.64" y="286.03" width="5.06" height="3.69" fill="#f8180c"/>
<rect x="351.46" y="289.73" width="5.06" height="3.69" fill="#f6d3d7"/>
<rect x="356.52" y="289.73" width="5.06" height="3.69" fill="#f6d3d7"/>
<rect x="361.58" y="289.73" width="5.06" height="3.69" fill="#ef8a93"/>
<rect x="366.64" y="289.73" width="5.06" height="3.69" fill="#f8180c"/>
<rect x="351.46" y="293.42" width="5.06" height="3.69" fill="#fae9eb"/>
<rect x="356.52" y="293.42" width="5.06" height="3.69" fill="#f6d3d7"/>
<rect x="361.58" y="293.42" width="5.06" height="3.69" fill="#f2b0b7"/>
<rect x="366.64" y="293.42" width="5.06" height="3.69" fill="#f8180c"/>
<rect x="351.46" y="297.11" width="5.06" height="3.69" fill="#f6d3d7"/>
<rect x="356.52" y="297.11" width="5.06" height="3.69" fill="#f6d3d7"/>
<rect x="361.58" y="297.11" width="5.06" height="3.69" fill="#ef8a93"/>
<rect x="366.64" y="297.11" width="5.06" height="3.69" fill="#f8180c"/>
<rect x="351.46" y="300.8" width="5.06" height="3.69" fill="#f6d3d7"/>
<rect x="356.52" y="300.8" width="5.06" height="3.69" fill="#ef8a93"/>
<rect x="361.58" y="300.8" width="5.06" height="3.69" fill="#ee5e68"/>
<rect x="351.46" y="304.49" width="5.06" height="3.69" fill="#f6d3d7"/>
<rect x="356.52" y="304.49" width="5.06" height="3.69" fill="#f2b0b7"/>
<rect x="361.58" y="304.49" width="5.06" height="3.69" fill="#f2b0b7"/>
<rect x="351.46" y="308.19" width="5.06" height="3.69" fill="#f6d3d7"/>
<rect x="356.52" y="308.19" width="5.06" height="3.69" fill="#ef8a93"/>
<rect x="361.58" y="308.19" width="5.06" height="3.69" fill="#f8180c"/>
<rect x="366.64" y="308.19" width="5.06" height="3.69" fill="#f0323a"/>
<rect x="351.46" y="311.88" width="5.06" height="3.69" fill="#f2b0b7"/>
<rect x="356.52" y="311.88" width="5.06" height="3.69" fill="#ee5e68"/>
<rect x="361.58" y="311.88" width="5.06" height="3.69" fill="#f8180c"/>
<rect x="366.64" y="311.88" width="5.06" height="3.69" fill="#f8180c"/>
<rect x="351.46" y="315.57" width="5.06" height="3.69" fill="#f2b0b7"/>
<rect x="356.52" y="315.57" width="5.06" height="3.69" fill="#ef8a93"/>
<rect x="361.58" y="315.57" width="5.06" height="3.69" fill="#f8180c"/>
<rect x="366.64" y="315.57" width="5.06" height="3.69" fill="#d01c14"/>
<rect x="351.46" y="319.26" width="5.06" height="3.69" fill="#f6d3d7"/>
<rect x="356.52" y="319.26" width="5.06" height="3.69" fill="#f2b0b7"/>
<rect x="361.58" y="319.26" width="5.06" height="3.69" fill="#f0323a"/>
<rect x="366.64" y="319.26" width="5.06" height="3.69" fill="#f8180c"/>
<rect x="351.46" y="322.95" width="5.06" height="3.69" fill="#fae9eb"/>
<rect x="356.52" y="322.95" width="5.06" height="3.69" fill="#f6d3d7"/>
<rect x="361.58" y="322.95" width="5.06" height="3.69" fill="#ef8a93"/>
<rect x="366.64" y="322.95" width="5.06" height="3.69" fill="#f8180c"/>
<rect x="351.46" y="326.65" width="5.06" height="3.69" fill="#fae9eb"/>
<rect x="356.52" y="326.65" width="5.06" height="3.69" fill="#f6d3d7"/>
<rect x="361.58" y="326.65" width="5.06" height="3.69" fill="#ee5e68"/>
<rect x="366.64" y="326.65" width="5.06" height="3.69" fill="#f8180c"/>
<rect x="351.46" y="330.34" width="5.06" height="3.69" fill="#ee5e68"/>
<rect x="356.52" y="330.34" width="5.06" height="3.69" fill="#f8180c"/>
<rect x="361.58" y="330.34" width="5.06" height="3.69" fill="#f8180c"/>
<rect x="366.64" y="330.34" width="5.06" height="3.69" fill="#ef8a93"/>
<rect x="351.46" y="334.03" width="5.06" height="3.69" fill="#f2b0b7"/>
<rect x="356.52" y="334.03" width="5.06" height="3.69" fill="#ef8a93"/>
<rect x="361.58" y="334.03" width="5.06" height="3.69" fill="#f8180c"/>
<rect x="366.64" y="334.03" width="5.06" height="3.69" fill="#f6d3d7"/>
<rect x="351.46" y="337.72" width="5.06" height="3.69" fill="#f6d3d7"/>
<rect x="356.52" y="337.72" width="5.06" height="3.69" fill="#f6d3d7"/>
<rect x="361.58" y="337.72" width="5.06" height="3.69" fill="#f2b0b7"/>
<rect x="366.64" y="337.72" width="5.06" height="3.69" fill="#fae9eb"/>
<rect x="351.46" y="341.41" width="5.06" height="3.69" fill="#f2b0b7"/>
<rect x="356.52" y="341.41" width="5.06" height="3.69" fill="#f2b0b7"/>
<rect x="361.58" y="341.41" width="5.06" height="3.69" fill="#ee5e68"/>
<rect x="366.64" y="341.41" width="5.06" height="3.69" fill="#ef8a93"/>
<rect x="351.46" y="345.11" width="5.06" height="3.69" fill="#ee5e68"/>
<rect x="356.52" y="345.11" width="5.06" height="3.69" fill="#f8180c"/>
<rect x="361.58" y="345.11" width="5.06" height="3.69" fill="#f8180c"/>
<rect x="366.64" y="345.11" width="5.06" height="3.69" fill="#f8180c"/>
<rect x="351.46" y="348.8" width="5.06" height="3.69" fill="#f6d3d7"/>
<rect x="356.52" y="348.8" width="5.06" height="3.69" fill="#ef8a93"/>
<rect x="361.58" y="348.8" width="5.06" height="3.69" fill="#f0323a"/>
<rect x="351.46" y="352.49" width="5.06" height="3.69" fill="#f0323a"/>
<rect x="356.52" y="352.49" width="5.06" height="3.69" fill="#f8180c"/>
<rect x="361.58" y="352.49" width="5.06" height="3.69" fill="#f8180c"/>
<rect x="366.64" y="352.49" width="5.06" height="3.69" fill="#ef8a93"/>
<rect x="351.46" y="356.18" width="5.06" height="3.69" fill="#f8180c"/>
<rect x="356.52" y="356.18" width="5.06" height="3.69" fill="#f8180c"/>
<rect x="361.58" y="356.18" width="5.06" height="3.69" fill="#f8180c"/>
<rect x="366.64" y="356.18" width="5.06" height="3.69" fill="#f8180c"/>
<rect x="351.46" y="359.87" width="5.06" height="3.69" fill="#f6d3d7"/>
<rect x="356.52" y="359.87" width="5.06" height="3.69" fill="#f6d3d7"/>
<rect x="366.64" y="359.87" width="5.06" height="3.69" fill="#ef8a93"/>
<rect x="351.46" y="363.57" width="5.06" height="3.69" fill="#f6d3d7"/>
<rect x="356.52" y="363.57" width="5.06" height="3.69" fill="#f6d3d7"/>
<rect x="366.64" y="363.57" width="5.06" height="3.69" fill="#f2b0b7"/>
<rect x="351.46" y="367.26" width="5.06" height="3.69" fill="#f0323a"/>
<rect x="356.52" y="367.26" width="5.06" height="3.69" fill="#f8180c"/>
<rect x="361.58" y="367.26" width="5.06" height="3.69" fill="#f8180c"/>
<rect x="366.64" y="367.26" width="5.06" height="3.69" fill="#fae9eb"/>
<rect x="351.46" y="370.95" width="5.06" height="3.69" fill="#f2b0b7"/>
<rect x="356.52" y="370.95" width="5.06" height="3.69" fill="#ef8a93"/>
<rect x="361.58" y="370.95" width="5.06" height="3.69" fill="#f2b0b7"/>
<rect x="366.64" y="370.95" width="5.06" height="3.69" fill="#f2b0b7"/>
<rect x="351.46" y="374.64" width="5.06" height="3.69" fill="#f2b0b7"/>
<rect x="356.52" y="374.64" width="5.06" height="3.69" fill="#ee5e68"/>
<rect x="361.58" y="374.64" width="5.06" height="3.69" fill="#fae9eb"/>
<rect x="351.46" y="378.33" width="5.06" height="3.69" fill="#f2b0b7"/>
<rect x="356.52" y="378.33" width="5.06" height="3.69" fill="#ee5e68"/>
<rect x="361.58" y="378.33" width="5.06" height="3.69" fill="#fae9eb"/>
<rect x="351.46" y="382.03" width="5.06" height="3.69" fill="#f2b0b7"/>
<rect x="356.52" y="382.03" width="5.06" height="3.69" fill="#ef8a93"/>
<rect x="361.58" y="382.03" width="5.06" height="3.69" fill="#f2b0b7"/>
<rect x="366.64" y="382.03" width="5.06" height="3.69" fill="#f2b0b7"/>
<rect x="351.46" y="385.72" width="5.06" height="3.69" fill="#f6d3d7"/>
<rect x="356.52" y="385.72" width="5.06" height="3.69" fill="#f6d3d7"/>
<rect x="361.58" y="385.72" width="5.06" height="3.69" fill="#f6d3d7"/>
<rect x="366.64" y="385.72" width="5.06" height="3.69" fill="#f6d3d7"/>
<rect x="351.46" y="389.41" width="5.06" height="3.69" fill="#fae9eb"/>
<rect x="356.52" y="389.41" width="5.06" height="3.69" fill="#fae9eb"/>
<rect x="361.58" y="389.41" width="5.06" height="3.69" fill="#fae9eb"/>
<rect x="366.64" y="389.41" width="5.06" height="3.69" fill="#fae9eb"/>
<rect x="351.46" y="393.1" width="5.06" height="3.69" fill="#fae9eb"/>
<rect x="356.52" y="393.1" width="5.06" height="3.69" fill="#fae9eb"/>
<rect x="361.58" y="393.1" width="5.06" height="3.69" fill="#fae9eb"/>
<rect x="351.46" y="396.79" width="5.06" height="3.69" fill="#fae9eb"/>
<rect x="351.46" y="400.49" width="5.06" height="3.69" fill="#fae9eb"/>
<rect x="351.46" y="404.18" width="5.06" height="3.69" fill="#f8180c"/>
<rect x="356.52" y="404.18" width="5.06" height="3.69" fill="#f8180c"/>
<rect x="361.58" y="404.18" width="5.06" height="3.69" fill="#f8180c"/>
<rect x="366.64" y="404.18" width="5.06" height="3.69" fill="#f0323a"/>
<rect x="351.46" y="407.87" width="5.06" height="3.69" fill="#f2b0b7"/>
<rect x="356.52" y="407.87" width="5.06" height="3.69" fill="#ee5e68"/>
<rect x="361.58" y="407.87" width="5.06" height="3.69" fill="#ef8a93"/>
<rect x="366.64" y="407.87" width="5.06" height="3.69" fill="#f2b0b7"/>
<rect x="346.4" y="197.43" width="25.3" height="3.69" fill="#000"/>
<path d="M346.4 186.35h25.3M346.4 190.04h25.3M346.4 193.73h25.3M346.4 197.43h25.3M346.4 201.12h25.3M346.4 204.81h25.3M346.4 208.5h25.3M346.4 212.19h25.3M346.4 215.89h25.3M346.4 219.58h25.3M346.4 223.27h25.3M346.4 226.96h25.3M346.4 230.65h25.3M346.4 234.35h25.3M346.4 238.04h25.3M346.4 241.73h25.3M346.4 245.42h25.3M346.4 249.11h25.3M346.4 252.81h25.3M346.4 256.5h25.3M346.4 260.19h25.3M346.4 263.88h25.3M346.4 267.57h25.3M346.4 271.27h25.3M346.4 274.96h25.3M346.4 278.65h25.3M346.4 282.34h25.3M346.4 286.03h25.3M346.4 289.73h25.3M346.4 293.42h25.3M346.4 297.11h25.3M346.4 300.8h25.3M346.4 304.49h25.3M346.4 308.19h25.3M346.4 311.88h25.3M346.4 315.57h25.3M346.4 319.26h25.3M346.4 322.95h25.3M346.4 326.65h25.3M346.4 330.34h25.3M346.4 334.03h25.3M346.4 337.72h25.3M346.4 341.41h25.3M346.4 345.11h25.3M346.4 348.8h25.3M346.4 352.49h25.3M346.4 356.18h25.3M346.4 359.87h25.3M346.4 363.57h25.3M346.4 367.26h25.3M346.4 370.95h25.3M346.4 374.64h25.3M346.4 378.33h25.3M346.4 382.03h25.3M346.4 385.72h25.3M346.4 389.41h25.3M346.4 393.1h25.3M346.4 396.79h25.3M346.4 400.49h25.3M346.4 404.18h25.3M346.4 407.87h25.3M346.4 411.56h25.3M346.4 415.25h25.3M346.4 418.95h25.3M346.4 422.64h25.3M346.4 186.35v236.29M351.46 186.35v236.29M356.52 186.35v236.29M361.58 186.35v236.29M366.64 186.35v236.29M371.7 186.35v236.29" stroke="#c8c8c8" stroke-opacity="0.5" stroke-width="0.5" fill="none"/>
<path d="M346.4 197.43h25.3M346.4 201.12h25.3M346.4 204.81h25.3M346.4 197.43v7.38M351.46 197.43v7.38M356.52 197.43v7.38M361.58 197.43v7.38M366.64 197.43v7.38M371.7 197.43v7.38" stroke="#b0b0b0" stroke-width="0.5" fill="none"/>
<path d="M346.4 411.56h25.3M346.4 415.25h25.3M346.4 418.95h25.3M346.4 422.64h25.3M346.4 411.56v11.08M351.46 411.56v11.08M356.52 411.56v11.08M361.58 411.56v11.08M366.64 411.56v11.08M371.7 411.56v11.08" stroke="#b0b0b0" stroke-width="0.5" fill="none"/>
<rect x="351.46" y="428.2" width="5.06" height="3.69" fill="#f2b0b7"/>
<rect x="356.52" y="428.2" width="5.06" height="3.69" fill="#ee5e68"/>
<rect x="361.58" y="428.2" width="5.06" height="3.69" fill="#f0323a"/>
<rect x="366.64" y="428.2" width="5.06" height="3.69" fill="#d01c14"/>
<rect x="351.46" y="431.89" width="5.06" height="3.69" fill="#ef8a93"/>
<rect x="356.52" y="431.89" width="5.06" height="3.69" fill="#f8180c"/>
<rect x="361.58" y="431.89" width="5.06" height="3.69" fill="#f8180c"/>
<rect x="351.46" y="442.96" width="5.06" height="3.69" fill="#ee5e68"/>
<rect x="356.52" y="442.96" width="5.06" height="3.69" fill="#f8180c"/>
<rect x="361.58" y="442.96" width="5.06" height="3.69" fill="#f6d3d7"/>
<rect x="366.64" y="442.96" width="5.06" height="3.69" fill="#fae9eb"/>
<rect x="351.46" y="446.65" width="5.06" height="3.69" fill="#f8180c"/>
<rect x="356.52" y="446.65" width="5.06" height="3.69" fill="#f8180c"/>
<rect x="361.58" y="446.65" width="5.06" height="3.69" fill="#ee5e68"/>
<rect x="366.64" y="446.65" width="5.06" height="3.69" fill="#f2b0b7"/>
<rect x="351.46" y="450.34" width="5.06" height="3.69" fill="#ef8a93"/>
<rect x="356.52" y="450.34" width="5.06" height="3.69" fill="#f8180c"/>
<rect x="361.58" y="450.34" width="5.06" height="3.69" fill="#f6d3d7"/>
<rect x="366.64" y="450.34" width="5.06" height="3.69" fill="#f6d3d7"/>
<rect x="351.46" y="454.03" width="5.06" height="3.69" fill="#ef8a93"/>
<rect x="356.52" y="454.03" width="5.06" height="3.69" fill="#f8180c"/>
<rect x="361.58" y="454.03" width="5.06" height="3.69" fill="#f8180c"/>
<rect x="366.64" y="454.03" width="5.06" height="3.69" fill="#f2b0b7"/>
<rect x="351.46" y="457.72" width="5.06" height="3.69" fill="#ef8a93"/>
<rect x="356.52" y="457.72" width="5.06" height="3.69" fill="#f0323a"/>
<rect x="361.58" y="457.72" width="5.06" height="3.69" fill="#f8180c"/>
<rect x="366.64" y="457.72" width="5.06" height="3.69" fill="#f8180c"/>
<rect x="351.46" y="461.41" width="5.06" height="3.69" fill="#ef8a93"/>
<rect x="356.52" y="461.41" width="5.06" height="3.69" fill="#f8180c"/>
<rect x="361.58" y="461.41" width="5.06" height="3.69" fill="#f8180c"/>
<rect x="366.64" y="461.41" width="5.06" height="3.69" fill="#f8180c"/>
<rect x="351.46" y="465.1" width="5.06" height="3.69" fill="#f2b0b7"/>
<rect x="356.52" y="465.1" width="5.06" height="3.69" fill="#f0323a"/>
<rect x="361.58" y="465.1" width="5.06" height="3.69" fill="#f8180c"/>
<rect x="366.64" y="465.1" width="5.06" height="3.69" fill="#f0323a"/>
<rect x="351.46" y="468.79" width="5.06" height="3.69" fill="#ef8a93"/>
<rect x="356.52" y="468.79" width="5.06" height="3.69" fill="#f0323a"/>
<rect x="361.58" y="468.79" width="5.06" height="3.69" fill="#f8180c"/>
<rect x="366.64" y="468.79" width="5.06" height="3.69" fill="#d01c14"/>
<rect x="351.46" y="472.48" width="5.06" height="3.69" fill="#f8180c"/>
<rect x="356.52" y="472.48" width="5.06" height="3.69" fill="#f8180c"/>
<rect x="361.58" y="472.48" width="5.06" height="3.69" fill="#f8180c"/>
<rect x="366.64" y="472.48" width="5.06" height="3.69" fill="#f8180c"/>
<rect x="351.46" y="476.17" width="5.06" height="3.69" fill="#f0323a"/>
<rect x="356.52" y="476.17" width="5.06" height="3.69" fill="#f8180c"/>
<rect x="361.58" y="476.17" width="5.06" height="3.69" fill="#f8180c"/>
<rect x="366.64" y="476.17" width="5.06" height="3.69" fill="#f8180c"/>
<rect x="351.46" y="479.86" width="5.06" height="3.69" fill="#ee5e68"/>
<rect x="356.52" y="479.86" width="5.06" height="3.69" fill="#f8180c"/>
<rect x="361.58" y="479.86" width="5.06" height="3.69" fill="#f8180c"/>
<rect x="366.64" y="479.86" width="5.06" height="3.69" fill="#f8180c"/>
<rect x="351.46" y="483.55" width="5.06" height="3.69" fill="#ee5e68"/>
<rect x="356.52" y="483.55" width="5.06" height="3.69" fill="#f0323a"/>
<rect x="361.58" y="483.55" width="5.06" height="3.69" fill="#fae9eb"/>
<rect x="366.64" y="483.55" width="5.06" height="3.69" fill="#f8180c"/>
<rect x="351.46" y="487.24" width="5.06" height="3.69" fill="#f0323a"/>
<rect x="356.52" y="487.24" width="5.06" height="3.69" fill="#f8180c"/>
<rect x="361.58" y="487.24" width="5.06" height="3.69" fill="#f8180c"/>
<rect x="366.64" y="487.24" width="5.06" height="3.69" fill="#ef8a93"/>
<rect x="351.46" y="490.93" width="5.06" height="3.69" fill="#f0323a"/>
<rect x="356.52" y="490.93" width="5.06" height="3.69" fill="#f8180c"/>
<rect x="361.58" y="490.93" width="5.06" height="3.69" fill="#f6d3d7"/>
<rect x="366.64" y="490.93" width="5.06" height="3.69" fill="#fae9eb"/>
<rect x="351.46" y="494.62" width="5.06" height="3.69" fill="#f2b0b7"/>
<rect x="356.52" y="494.62" width="5.06" height="3.69" fill="#ef8a93"/>
<rect x="361.58" y="494.62" width="5.06" height="3.69" fill="#f6d3d7"/>
<rect x="366.64" y="494.62" width="5.06" height="3.69" fill="#fae9eb"/>
<rect x="351.46" y="498.31" width="5.06" height="3.69" fill="#f8180c"/>
<rect x="356.52" y="498.31" width="5.06" height="3.69" fill="#f8180c"/>
<rect x="361.58" y="498.31" width="5.06" height="3.69" fill="#f8180c"/>
<rect x="366.64" y="498.31" width="5.06" height="3.69" fill="#f8180c"/>
<rect x="346.4" y="435.58" width="25.3" height="3.69" fill="#000"/>
<path d="M346.4 428.2h25.3M346.4 431.89h25.3M346.4 435.58h25.3M346.4 439.27h25.3M346.4 442.96h25.3M346.4 446.65h25.3M346.4 450.34h25.3M346.4 454.03h25.3M346.4 457.72h25.3M346.4 461.41h25.3M346.4 465.1h25.3M346.4 468.79h25.3M346.4 472.48h25.3M346.4 476.17h25.3M346.4 479.86h25.3M346.4 483.55h25.3M346.4 487.24h25.3M346.4 490.93h25.3M346.4 494.62h25.3M346.4 498.31h25.3M346.4 502h25.3M346.4 505.69h25.3M346.4 428.2v77.49M351.46 428.2v77.49M356.52 428.2v77.49M361.58 428.2v77.49M366.64 428.2v77.49M371.7 428.2v77.49" stroke="#c8c8c8" stroke-opacity="0.5" stroke-width="0.5" fill="none"/>
<path d="M346.4 502h25.3M346.4 505.69h25.3M346.4 502v3.69M351.46 502v3.69M356.52 502v3.69M361.58 502v3.69M366.64 502v3.69M371.7 502v3.69" stroke="#b0b0b0" stroke-width="0.5" fill="none"/>
<text transform="translate(359.05,167.9) scale(0.88,1)" font-size="10.6" font-weight="bold" fill="#111" text-anchor="middle" stroke="#111" stroke-width="0.16">Y-113</text>
<text transform="translate(350.23,180.8) rotate(-90)" font-size="3.5" fill="#444">C</text>
<text transform="translate(355.29,180.8) rotate(-90)" font-size="3.5" fill="#444">8</text>
<text transform="translate(360.35,180.8) rotate(-90)" font-size="3.5" fill="#444">40</text>
<text transform="translate(365.41,180.8) rotate(-90)" font-size="3.5" fill="#444">200</text>
<text transform="translate(370.47,180.8) rotate(-90)" font-size="3.5" fill="#444">1000</text>
<rect x="381.58" y="286.03" width="5.06" height="3.69" fill="#fae9eb"/>
<rect x="381.58" y="308.19" width="5.06" height="3.69" fill="#fae9eb"/>
<rect x="381.58" y="311.88" width="5.06" height="3.69" fill="#fae9eb"/>
<rect x="381.58" y="330.34" width="5.06" height="3.69" fill="#f6d3d7"/>
<rect x="386.64" y="330.34" width="5.06" height="3.69" fill="#f6d3d7"/>
<rect x="381.58" y="334.03" width="5.06" height="3.69" fill="#fae9eb"/>
<rect x="386.64" y="334.03" width="5.06" height="3.69" fill="#fae9eb"/>
<rect x="381.58" y="337.72" width="5.06" height="3.69" fill="#fae9eb"/>
<rect x="386.64" y="337.72" width="5.06" height="3.69" fill="#fae9eb"/>
<rect x="381.58" y="341.41" width="5.06" height="3.69" fill="#fae9eb"/>
<rect x="386.64" y="341.41" width="5.06" height="3.69" fill="#fae9eb"/>
<rect x="381.58" y="352.49" width="5.06" height="3.69" fill="#f6d3d7"/>
<rect x="386.64" y="352.49" width="5.06" height="3.69" fill="#f2b0b7"/>
<rect x="391.7" y="352.49" width="5.06" height="3.69" fill="#fae9eb"/>
<rect x="381.58" y="356.18" width="5.06" height="3.69" fill="#f6d3d7"/>
<rect x="386.64" y="356.18" width="5.06" height="3.69" fill="#ef8a93"/>
<rect x="391.7" y="356.18" width="5.06" height="3.69" fill="#f6d3d7"/>
<rect x="376.52" y="359.87" width="25.3" height="3.69" fill="#000"/>
<path d="M376.52 186.35h25.3M376.52 190.04h25.3M376.52 193.73h25.3M376.52 197.43h25.3M376.52 201.12h25.3M376.52 204.81h25.3M376.52 208.5h25.3M376.52 212.19h25.3M376.52 215.89h25.3M376.52 219.58h25.3M376.52 223.27h25.3M376.52 226.96h25.3M376.52 230.65h25.3M376.52 234.35h25.3M376.52 238.04h25.3M376.52 241.73h25.3M376.52 245.42h25.3M376.52 249.11h25.3M376.52 252.81h25.3M376.52 256.5h25.3M376.52 260.19h25.3M376.52 263.88h25.3M376.52 267.57h25.3M376.52 271.27h25.3M376.52 274.96h25.3M376.52 278.65h25.3M376.52 282.34h25.3M376.52 286.03h25.3M376.52 289.73h25.3M376.52 293.42h25.3M376.52 297.11h25.3M376.52 300.8h25.3M376.52 304.49h25.3M376.52 308.19h25.3M376.52 311.88h25.3M376.52 315.57h25.3M376.52 319.26h25.3M376.52 322.95h25.3M376.52 326.65h25.3M376.52 330.34h25.3M376.52 334.03h25.3M376.52 337.72h25.3M376.52 341.41h25.3M376.52 345.11h25.3M376.52 348.8h25.3M376.52 352.49h25.3M376.52 356.18h25.3M376.52 359.87h25.3M376.52 363.57h25.3M376.52 367.26h25.3M376.52 370.95h25.3M376.52 374.64h25.3M376.52 378.33h25.3M376.52 382.03h25.3M376.52 385.72h25.3M376.52 389.41h25.3M376.52 393.1h25.3M376.52 396.79h25.3M376.52 400.49h25.3M376.52 404.18h25.3M376.52 407.87h25.3M376.52 411.56h25.3M376.52 415.25h25.3M376.52 418.95h25.3M376.52 422.64h25.3M376.52 186.35v236.29M381.58 186.35v236.29M386.64 186.35v236.29M391.7 186.35v236.29M396.76 186.35v236.29M401.82 186.35v236.29" stroke="#c8c8c8" stroke-opacity="0.5" stroke-width="0.5" fill="none"/>
<path d="M376.52 359.87h25.3M376.52 363.57h25.3M376.52 367.26h25.3M376.52 359.87v7.38M381.58 359.87v7.38M386.64 359.87v7.38M391.7 359.87v7.38M396.76 359.87v7.38M401.82 359.87v7.38" stroke="#b0b0b0" stroke-width="0.5" fill="none"/>
<path d="M376.52 411.56h25.3M376.52 415.25h25.3M376.52 418.95h25.3M376.52 422.64h25.3M376.52 411.56v11.08M381.58 411.56v11.08M386.64 411.56v11.08M391.7 411.56v11.08M396.76 411.56v11.08M401.82 411.56v11.08" stroke="#b0b0b0" stroke-width="0.5" fill="none"/>
<rect x="381.58" y="446.65" width="5.06" height="3.69" fill="#fae9eb"/>
<rect x="381.58" y="468.79" width="5.06" height="3.69" fill="#fae9eb"/>
<rect x="381.58" y="472.48" width="5.06" height="3.69" fill="#f6d3d7"/>
<rect x="386.64" y="472.48" width="5.06" height="3.69" fill="#f2b0b7"/>
<rect x="381.58" y="479.86" width="5.06" height="3.69" fill="#ef8a93"/>
<rect x="386.64" y="479.86" width="5.06" height="3.69" fill="#f8180c"/>
<rect x="391.7" y="479.86" width="5.06" height="3.69" fill="#ef8a93"/>
<rect x="386.64" y="498.31" width="5.06" height="3.69" fill="#fae9eb"/>
<rect x="376.52" y="483.55" width="25.3" height="3.69" fill="#000"/>
<path d="M376.52 428.2h25.3M376.52 431.89h25.3M376.52 435.58h25.3M376.52 439.27h25.3M376.52 442.96h25.3M376.52 446.65h25.3M376.52 450.34h25.3M376.52 454.03h25.3M376.52 457.72h25.3M376.52 461.41h25.3M376.52 465.1h25.3M376.52 468.79h25.3M376.52 472.48h25.3M376.52 476.17h25.3M376.52 479.86h25.3M376.52 483.55h25.3M376.52 487.24h25.3M376.52 490.93h25.3M376.52 494.62h25.3M376.52 498.31h25.3M376.52 502h25.3M376.52 505.69h25.3M376.52 428.2v77.49M381.58 428.2v77.49M386.64 428.2v77.49M391.7 428.2v77.49M396.76 428.2v77.49M401.82 428.2v77.49" stroke="#c8c8c8" stroke-opacity="0.5" stroke-width="0.5" fill="none"/>
<path d="M376.52 502h25.3M376.52 505.69h25.3M376.52 502v3.69M381.58 502v3.69M386.64 502v3.69M391.7 502v3.69M396.76 502v3.69M401.82 502v3.69" stroke="#b0b0b0" stroke-width="0.5" fill="none"/>
<text transform="translate(389.17,167.9) scale(0.88,1)" font-size="10.6" font-weight="bold" fill="#111" text-anchor="middle" stroke="#111" stroke-width="0.16">D115</text>
<text transform="translate(380.35,180.8) rotate(-90)" font-size="3.5" fill="#444">C</text>
<text transform="translate(385.41,180.8) rotate(-90)" font-size="3.5" fill="#444">8</text>
<text transform="translate(390.47,180.8) rotate(-90)" font-size="3.5" fill="#444">40</text>
<text transform="translate(395.53,180.8) rotate(-90)" font-size="3.5" fill="#444">200</text>
<text transform="translate(400.59,180.8) rotate(-90)" font-size="3.5" fill="#444">1000</text>
<rect x="411.7" y="271.27" width="5.06" height="3.69" fill="#f2b0b7"/>
<rect x="411.7" y="274.96" width="5.06" height="3.69" fill="#fae9eb"/>
<rect x="411.7" y="278.65" width="5.06" height="3.69" fill="#f6d3d7"/>
<rect x="411.7" y="282.34" width="5.06" height="3.69" fill="#f6d3d7"/>
<rect x="411.7" y="308.19" width="5.06" height="3.69" fill="#fae9eb"/>
<rect x="411.7" y="367.26" width="5.06" height="3.69" fill="#ef8a93"/>
<rect x="416.76" y="367.26" width="5.06" height="3.69" fill="#fae9eb"/>
<rect x="411.7" y="370.95" width="5.06" height="3.69" fill="#fae9eb"/>
<rect x="406.64" y="359.87" width="25.3" height="3.69" fill="#000"/>
<path d="M406.64 186.35h25.3M406.64 190.04h25.3M406.64 193.73h25.3M406.64 197.43h25.3M406.64 201.12h25.3M406.64 204.81h25.3M406.64 208.5h25.3M406.64 212.19h25.3M406.64 215.89h25.3M406.64 219.58h25.3M406.64 223.27h25.3M406.64 226.96h25.3M406.64 230.65h25.3M406.64 234.35h25.3M406.64 238.04h25.3M406.64 241.73h25.3M406.64 245.42h25.3M406.64 249.11h25.3M406.64 252.81h25.3M406.64 256.5h25.3M406.64 260.19h25.3M406.64 263.88h25.3M406.64 267.57h25.3M406.64 271.27h25.3M406.64 274.96h25.3M406.64 278.65h25.3M406.64 282.34h25.3M406.64 286.03h25.3M406.64 289.73h25.3M406.64 293.42h25.3M406.64 297.11h25.3M406.64 300.8h25.3M406.64 304.49h25.3M406.64 308.19h25.3M406.64 311.88h25.3M406.64 315.57h25.3M406.64 319.26h25.3M406.64 322.95h25.3M406.64 326.65h25.3M406.64 330.34h25.3M406.64 334.03h25.3M406.64 337.72h25.3M406.64 341.41h25.3M406.64 345.11h25.3M406.64 348.8h25.3M406.64 352.49h25.3M406.64 356.18h25.3M406.64 359.87h25.3M406.64 363.57h25.3M406.64 367.26h25.3M406.64 370.95h25.3M406.64 374.64h25.3M406.64 378.33h25.3M406.64 382.03h25.3M406.64 385.72h25.3M406.64 389.41h25.3M406.64 393.1h25.3M406.64 396.79h25.3M406.64 400.49h25.3M406.64 404.18h25.3M406.64 407.87h25.3M406.64 411.56h25.3M406.64 415.25h25.3M406.64 418.95h25.3M406.64 422.64h25.3M406.64 186.35v236.29M411.7 186.35v236.29M416.76 186.35v236.29M421.82 186.35v236.29M426.88 186.35v236.29M431.94 186.35v236.29" stroke="#c8c8c8" stroke-opacity="0.5" stroke-width="0.5" fill="none"/>
<path d="M406.64 359.87h25.3M406.64 363.57h25.3M406.64 367.26h25.3M406.64 359.87v7.38M411.7 359.87v7.38M416.76 359.87v7.38M421.82 359.87v7.38M426.88 359.87v7.38M431.94 359.87v7.38" stroke="#b0b0b0" stroke-width="0.5" fill="none"/>
<path d="M406.64 411.56h25.3M406.64 415.25h25.3M406.64 418.95h25.3M406.64 422.64h25.3M406.64 411.56v11.08M411.7 411.56v11.08M416.76 411.56v11.08M421.82 411.56v11.08M426.88 411.56v11.08M431.94 411.56v11.08" stroke="#b0b0b0" stroke-width="0.5" fill="none"/>
<rect x="411.7" y="457.72" width="5.06" height="3.69" fill="#f2b0b7"/>
<rect x="416.76" y="457.72" width="5.06" height="3.69" fill="#fae9eb"/>
<rect x="411.7" y="468.79" width="5.06" height="3.69" fill="#fae9eb"/>
<rect x="411.7" y="476.17" width="5.06" height="3.69" fill="#fae9eb"/>
<rect x="411.7" y="487.24" width="5.06" height="3.69" fill="#f0323a"/>
<rect x="416.76" y="487.24" width="5.06" height="3.69" fill="#f6d3d7"/>
<rect x="411.7" y="498.31" width="5.06" height="3.69" fill="#fae9eb"/>
<rect x="406.64" y="483.55" width="25.3" height="3.69" fill="#000"/>
<path d="M406.64 428.2h25.3M406.64 431.89h25.3M406.64 435.58h25.3M406.64 439.27h25.3M406.64 442.96h25.3M406.64 446.65h25.3M406.64 450.34h25.3M406.64 454.03h25.3M406.64 457.72h25.3M406.64 461.41h25.3M406.64 465.1h25.3M406.64 468.79h25.3M406.64 472.48h25.3M406.64 476.17h25.3M406.64 479.86h25.3M406.64 483.55h25.3M406.64 487.24h25.3M406.64 490.93h25.3M406.64 494.62h25.3M406.64 498.31h25.3M406.64 502h25.3M406.64 505.69h25.3M406.64 428.2v77.49M411.7 428.2v77.49M416.76 428.2v77.49M421.82 428.2v77.49M426.88 428.2v77.49M431.94 428.2v77.49" stroke="#c8c8c8" stroke-opacity="0.5" stroke-width="0.5" fill="none"/>
<path d="M406.64 502h25.3M406.64 505.69h25.3M406.64 502v3.69M411.7 502v3.69M416.76 502v3.69M421.82 502v3.69M426.88 502v3.69M431.94 502v3.69" stroke="#b0b0b0" stroke-width="0.5" fill="none"/>
<text transform="translate(419.29,167.9) scale(0.88,1)" font-size="10.6" font-weight="bold" fill="#111" text-anchor="middle" stroke="#111" stroke-width="0.16">D116</text>
<text transform="translate(410.47,180.8) rotate(-90)" font-size="3.5" fill="#444">C</text>
<text transform="translate(415.53,180.8) rotate(-90)" font-size="3.5" fill="#444">8</text>
<text transform="translate(420.59,180.8) rotate(-90)" font-size="3.5" fill="#444">40</text>
<text transform="translate(425.65,180.8) rotate(-90)" font-size="3.5" fill="#444">200</text>
<text transform="translate(430.71,180.8) rotate(-90)" font-size="3.5" fill="#444">1000</text>
<rect x="436.76" y="311.88" width="25.3" height="3.69" fill="#000"/>
<path d="M436.76 186.35h25.3M436.76 190.04h25.3M436.76 193.73h25.3M436.76 197.43h25.3M436.76 201.12h25.3M436.76 204.81h25.3M436.76 208.5h25.3M436.76 212.19h25.3M436.76 215.89h25.3M436.76 219.58h25.3M436.76 223.27h25.3M436.76 226.96h25.3M436.76 230.65h25.3M436.76 234.35h25.3M436.76 238.04h25.3M436.76 241.73h25.3M436.76 245.42h25.3M436.76 249.11h25.3M436.76 252.81h25.3M436.76 256.5h25.3M436.76 260.19h25.3M436.76 263.88h25.3M436.76 267.57h25.3M436.76 271.27h25.3M436.76 274.96h25.3M436.76 278.65h25.3M436.76 282.34h25.3M436.76 286.03h25.3M436.76 289.73h25.3M436.76 293.42h25.3M436.76 297.11h25.3M436.76 300.8h25.3M436.76 304.49h25.3M436.76 308.19h25.3M436.76 311.88h25.3M436.76 315.57h25.3M436.76 319.26h25.3M436.76 322.95h25.3M436.76 326.65h25.3M436.76 330.34h25.3M436.76 334.03h25.3M436.76 337.72h25.3M436.76 341.41h25.3M436.76 345.11h25.3M436.76 348.8h25.3M436.76 352.49h25.3M436.76 356.18h25.3M436.76 359.87h25.3M436.76 363.57h25.3M436.76 367.26h25.3M436.76 370.95h25.3M436.76 374.64h25.3M436.76 378.33h25.3M436.76 382.03h25.3M436.76 385.72h25.3M436.76 389.41h25.3M436.76 393.1h25.3M436.76 396.79h25.3M436.76 400.49h25.3M436.76 404.18h25.3M436.76 407.87h25.3M436.76 411.56h25.3M436.76 415.25h25.3M436.76 418.95h25.3M436.76 422.64h25.3M436.76 186.35v236.29M441.82 186.35v236.29M446.88 186.35v236.29M451.94 186.35v236.29M457 186.35v236.29M462.06 186.35v236.29" stroke="#c8c8c8" stroke-opacity="0.5" stroke-width="0.5" fill="none"/>
<path d="M436.76 308.19h25.3M436.76 311.88h25.3M436.76 315.57h25.3M436.76 319.26h25.3M436.76 322.95h25.3M436.76 326.65h25.3M436.76 330.34h25.3M436.76 308.19v22.15M441.82 308.19v22.15M446.88 308.19v22.15M451.94 308.19v22.15M457 308.19v22.15M462.06 308.19v22.15" stroke="#b0b0b0" stroke-width="0.5" fill="none"/>
<path d="M436.76 411.56h25.3M436.76 415.25h25.3M436.76 418.95h25.3M436.76 422.64h25.3M436.76 411.56v11.08M441.82 411.56v11.08M446.88 411.56v11.08M451.94 411.56v11.08M457 411.56v11.08M462.06 411.56v11.08" stroke="#b0b0b0" stroke-width="0.5" fill="none"/>
<rect x="436.76" y="468.79" width="25.3" height="3.69" fill="#000"/>
<path d="M436.76 428.2h25.3M436.76 431.89h25.3M436.76 435.58h25.3M436.76 439.27h25.3M436.76 442.96h25.3M436.76 446.65h25.3M436.76 450.34h25.3M436.76 454.03h25.3M436.76 457.72h25.3M436.76 461.41h25.3M436.76 465.1h25.3M436.76 468.79h25.3M436.76 472.48h25.3M436.76 476.17h25.3M436.76 479.86h25.3M436.76 483.55h25.3M436.76 487.24h25.3M436.76 490.93h25.3M436.76 494.62h25.3M436.76 498.31h25.3M436.76 502h25.3M436.76 505.69h25.3M436.76 428.2v77.49M441.82 428.2v77.49M446.88 428.2v77.49M451.94 428.2v77.49M457 428.2v77.49M462.06 428.2v77.49" stroke="#c8c8c8" stroke-opacity="0.5" stroke-width="0.5" fill="none"/>
<path d="M436.76 502h25.3M436.76 505.69h25.3M436.76 502v3.69M441.82 502v3.69M446.88 502v3.69M451.94 502v3.69M457 502v3.69M462.06 502v3.69" stroke="#b0b0b0" stroke-width="0.5" fill="none"/>
<text transform="translate(449.41,167.9) scale(0.88,1)" font-size="10.6" font-weight="bold" fill="#111" text-anchor="middle" stroke="#111" stroke-width="0.16">S127</text>
<text transform="translate(440.59,180.8) rotate(-90)" font-size="3.5" fill="#444">C</text>
<text transform="translate(445.65,180.8) rotate(-90)" font-size="3.5" fill="#444">8</text>
<text transform="translate(450.71,180.8) rotate(-90)" font-size="3.5" fill="#444">40</text>
<text transform="translate(455.77,180.8) rotate(-90)" font-size="3.5" fill="#444">200</text>
<text transform="translate(460.83,180.8) rotate(-90)" font-size="3.5" fill="#444">1000</text>
<rect x="471.94" y="186.35" width="5.06" height="3.69" fill="#fae9eb"/>
<rect x="477" y="186.35" width="5.06" height="3.69" fill="#fae9eb"/>
<rect x="471.94" y="190.04" width="5.06" height="3.69" fill="#fae9eb"/>
<rect x="477" y="190.04" width="5.06" height="3.69" fill="#fae9eb"/>
<rect x="482.06" y="190.04" width="5.06" height="3.69" fill="#fae9eb"/>
<rect x="471.94" y="193.73" width="5.06" height="3.69" fill="#f6d3d7"/>
<rect x="477" y="193.73" width="5.06" height="3.69" fill="#f6d3d7"/>
<rect x="482.06" y="193.73" width="5.06" height="3.69" fill="#fae9eb"/>
<rect x="471.94" y="219.58" width="5.06" height="3.69" fill="#f8180c"/>
<rect x="477" y="219.58" width="5.06" height="3.69" fill="#f8180c"/>
<rect x="482.06" y="219.58" width="5.06" height="3.69" fill="#fae9eb"/>
<rect x="487.12" y="219.58" width="5.06" height="3.69" fill="#fae9eb"/>
<rect x="471.94" y="234.35" width="5.06" height="3.69" fill="#f6d3d7"/>
<rect x="477" y="234.35" width="5.06" height="3.69" fill="#fae9eb"/>
<rect x="471.94" y="238.04" width="5.06" height="3.69" fill="#f6d3d7"/>
<rect x="477" y="238.04" width="5.06" height="3.69" fill="#f6d3d7"/>
<rect x="471.94" y="241.73" width="5.06" height="3.69" fill="#f6d3d7"/>
<rect x="477" y="241.73" width="5.06" height="3.69" fill="#f6d3d7"/>
<rect x="471.94" y="245.42" width="5.06" height="3.69" fill="#f6d3d7"/>
<rect x="477" y="245.42" width="5.06" height="3.69" fill="#f6d3d7"/>
<rect x="471.94" y="249.11" width="5.06" height="3.69" fill="#fae9eb"/>
<rect x="477" y="249.11" width="5.06" height="3.69" fill="#fae9eb"/>
<rect x="471.94" y="252.81" width="5.06" height="3.69" fill="#f6d3d7"/>
<rect x="477" y="252.81" width="5.06" height="3.69" fill="#f6d3d7"/>
<rect x="471.94" y="271.27" width="5.06" height="3.69" fill="#f2b0b7"/>
<rect x="477" y="271.27" width="5.06" height="3.69" fill="#fae9eb"/>
<rect x="471.94" y="274.96" width="5.06" height="3.69" fill="#fae9eb"/>
<rect x="471.94" y="278.65" width="5.06" height="3.69" fill="#f6d3d7"/>
<rect x="471.94" y="282.34" width="5.06" height="3.69" fill="#f6d3d7"/>
<rect x="471.94" y="286.03" width="5.06" height="3.69" fill="#f6d3d7"/>
<rect x="477" y="286.03" width="5.06" height="3.69" fill="#f2b0b7"/>
<rect x="482.06" y="286.03" width="5.06" height="3.69" fill="#f6d3d7"/>
<rect x="471.94" y="289.73" width="5.06" height="3.69" fill="#f6d3d7"/>
<rect x="477" y="289.73" width="5.06" height="3.69" fill="#f2b0b7"/>
<rect x="482.06" y="289.73" width="5.06" height="3.69" fill="#fae9eb"/>
<rect x="471.94" y="293.42" width="5.06" height="3.69" fill="#f6d3d7"/>
<rect x="477" y="293.42" width="5.06" height="3.69" fill="#f2b0b7"/>
<rect x="482.06" y="293.42" width="5.06" height="3.69" fill="#f6d3d7"/>
<rect x="471.94" y="297.11" width="5.06" height="3.69" fill="#fae9eb"/>
<rect x="477" y="297.11" width="5.06" height="3.69" fill="#fae9eb"/>
<rect x="471.94" y="300.8" width="5.06" height="3.69" fill="#fae9eb"/>
<rect x="471.94" y="308.19" width="5.06" height="3.69" fill="#f6d3d7"/>
<rect x="477" y="308.19" width="5.06" height="3.69" fill="#f2b0b7"/>
<rect x="471.94" y="311.88" width="5.06" height="3.69" fill="#fae9eb"/>
<rect x="471.94" y="315.57" width="5.06" height="3.69" fill="#f2b0b7"/>
<rect x="477" y="315.57" width="5.06" height="3.69" fill="#ef8a93"/>
<rect x="482.06" y="315.57" width="5.06" height="3.69" fill="#fae9eb"/>
<rect x="471.94" y="319.26" width="5.06" height="3.69" fill="#fae9eb"/>
<rect x="477" y="319.26" width="5.06" height="3.69" fill="#f6d3d7"/>
<rect x="471.94" y="322.95" width="5.06" height="3.69" fill="#f6d3d7"/>
<rect x="477" y="322.95" width="5.06" height="3.69" fill="#f6d3d7"/>
<rect x="471.94" y="326.65" width="5.06" height="3.69" fill="#fae9eb"/>
<rect x="477" y="326.65" width="5.06" height="3.69" fill="#fae9eb"/>
<rect x="471.94" y="330.34" width="5.06" height="3.69" fill="#f2b0b7"/>
<rect x="477" y="330.34" width="5.06" height="3.69" fill="#f6d3d7"/>
<rect x="471.94" y="334.03" width="5.06" height="3.69" fill="#fae9eb"/>
<rect x="471.94" y="337.72" width="5.06" height="3.69" fill="#f6d3d7"/>
<rect x="477" y="337.72" width="5.06" height="3.69" fill="#fae9eb"/>
<rect x="471.94" y="341.41" width="5.06" height="3.69" fill="#fae9eb"/>
<rect x="471.94" y="345.11" width="5.06" height="3.69" fill="#f6d3d7"/>
<rect x="477" y="345.11" width="5.06" height="3.69" fill="#ef8a93"/>
<rect x="482.06" y="345.11" width="5.06" height="3.69" fill="#ef8a93"/>
<rect x="471.94" y="348.8" width="5.06" height="3.69" fill="#f6d3d7"/>
<rect x="477" y="348.8" width="5.06" height="3.69" fill="#f2b0b7"/>
<rect x="482.06" y="348.8" width="5.06" height="3.69" fill="#f2b0b7"/>
<rect x="471.94" y="352.49" width="5.06" height="3.69" fill="#f6d3d7"/>
<rect x="477" y="352.49" width="5.06" height="3.69" fill="#fae9eb"/>
<rect x="471.94" y="356.18" width="5.06" height="3.69" fill="#fae9eb"/>
<rect x="471.94" y="359.87" width="5.06" height="3.69" fill="#fae9eb"/>
<rect x="477" y="359.87" width="5.06" height="3.69" fill="#fae9eb"/>
<rect x="471.94" y="363.57" width="5.06" height="3.69" fill="#fae9eb"/>
<rect x="471.94" y="367.26" width="5.06" height="3.69" fill="#fae9eb"/>
<rect x="471.94" y="374.64" width="5.06" height="3.69" fill="#f6d3d7"/>
<rect x="477" y="374.64" width="5.06" height="3.69" fill="#fae9eb"/>
<rect x="471.94" y="378.33" width="5.06" height="3.69" fill="#fae9eb"/>
<rect x="471.94" y="404.18" width="5.06" height="3.69" fill="#fae9eb"/>
<rect x="471.94" y="407.87" width="5.06" height="3.69" fill="#fae9eb"/>
<rect x="466.88" y="263.88" width="25.3" height="3.69" fill="#000"/>
<path d="M466.88 186.35h25.3M466.88 190.04h25.3M466.88 193.73h25.3M466.88 197.43h25.3M466.88 201.12h25.3M466.88 204.81h25.3M466.88 208.5h25.3M466.88 212.19h25.3M466.88 215.89h25.3M466.88 219.58h25.3M466.88 223.27h25.3M466.88 226.96h25.3M466.88 230.65h25.3M466.88 234.35h25.3M466.88 238.04h25.3M466.88 241.73h25.3M466.88 245.42h25.3M466.88 249.11h25.3M466.88 252.81h25.3M466.88 256.5h25.3M466.88 260.19h25.3M466.88 263.88h25.3M466.88 267.57h25.3M466.88 271.27h25.3M466.88 274.96h25.3M466.88 278.65h25.3M466.88 282.34h25.3M466.88 286.03h25.3M466.88 289.73h25.3M466.88 293.42h25.3M466.88 297.11h25.3M466.88 300.8h25.3M466.88 304.49h25.3M466.88 308.19h25.3M466.88 311.88h25.3M466.88 315.57h25.3M466.88 319.26h25.3M466.88 322.95h25.3M466.88 326.65h25.3M466.88 330.34h25.3M466.88 334.03h25.3M466.88 337.72h25.3M466.88 341.41h25.3M466.88 345.11h25.3M466.88 348.8h25.3M466.88 352.49h25.3M466.88 356.18h25.3M466.88 359.87h25.3M466.88 363.57h25.3M466.88 367.26h25.3M466.88 370.95h25.3M466.88 374.64h25.3M466.88 378.33h25.3M466.88 382.03h25.3M466.88 385.72h25.3M466.88 389.41h25.3M466.88 393.1h25.3M466.88 396.79h25.3M466.88 400.49h25.3M466.88 404.18h25.3M466.88 407.87h25.3M466.88 411.56h25.3M466.88 415.25h25.3M466.88 418.95h25.3M466.88 422.64h25.3M466.88 186.35v236.29M471.94 186.35v236.29M477 186.35v236.29M482.06 186.35v236.29M487.12 186.35v236.29M492.18 186.35v236.29" stroke="#c8c8c8" stroke-opacity="0.5" stroke-width="0.5" fill="none"/>
<path d="M466.88 256.5h25.3M466.88 260.19h25.3M466.88 263.88h25.3M466.88 267.57h25.3M466.88 271.27h25.3M466.88 256.5v14.77M471.94 256.5v14.77M477 256.5v14.77M482.06 256.5v14.77M487.12 256.5v14.77M492.18 256.5v14.77" stroke="#b0b0b0" stroke-width="0.5" fill="none"/>
<path d="M466.88 411.56h25.3M466.88 415.25h25.3M466.88 418.95h25.3M466.88 422.64h25.3M466.88 411.56v11.08M471.94 411.56v11.08M477 411.56v11.08M482.06 411.56v11.08M487.12 411.56v11.08M492.18 411.56v11.08" stroke="#b0b0b0" stroke-width="0.5" fill="none"/>
<rect x="471.94" y="428.2" width="5.06" height="3.69" fill="#f6d3d7"/>
<rect x="477" y="428.2" width="5.06" height="3.69" fill="#f6d3d7"/>
<rect x="471.94" y="431.89" width="5.06" height="3.69" fill="#f2b0b7"/>
<rect x="477" y="431.89" width="5.06" height="3.69" fill="#f2b0b7"/>
<rect x="482.06" y="431.89" width="5.06" height="3.69" fill="#f6d3d7"/>
<rect x="487.12" y="431.89" width="5.06" height="3.69" fill="#fae9eb"/>
<rect x="471.94" y="442.96" width="5.06" height="3.69" fill="#f8180c"/>
<rect x="477" y="442.96" width="5.06" height="3.69" fill="#f8180c"/>
<rect x="482.06" y="442.96" width="5.06" height="3.69" fill="#f6d3d7"/>
<rect x="487.12" y="442.96" width="5.06" height="3.69" fill="#fae9eb"/>
<rect x="471.94" y="450.34" width="5.06" height="3.69" fill="#f2b0b7"/>
<rect x="477" y="450.34" width="5.06" height="3.69" fill="#f2b0b7"/>
<rect x="471.94" y="457.72" width="5.06" height="3.69" fill="#ef8a93"/>
<rect x="477" y="457.72" width="5.06" height="3.69" fill="#fae9eb"/>
<rect x="471.94" y="461.41" width="5.06" height="3.69" fill="#f2b0b7"/>
<rect x="477" y="461.41" width="5.06" height="3.69" fill="#f0323a"/>
<rect x="482.06" y="461.41" width="5.06" height="3.69" fill="#f2b0b7"/>
<rect x="471.94" y="465.1" width="5.06" height="3.69" fill="#f6d3d7"/>
<rect x="471.94" y="468.79" width="5.06" height="3.69" fill="#f2b0b7"/>
<rect x="477" y="468.79" width="5.06" height="3.69" fill="#ef8a93"/>
<rect x="471.94" y="472.48" width="5.06" height="3.69" fill="#ef8a93"/>
<rect x="477" y="472.48" width="5.06" height="3.69" fill="#f2b0b7"/>
<rect x="471.94" y="476.17" width="5.06" height="3.69" fill="#ee5e68"/>
<rect x="477" y="476.17" width="5.06" height="3.69" fill="#f8180c"/>
<rect x="482.06" y="476.17" width="5.06" height="3.69" fill="#f8180c"/>
<rect x="487.12" y="476.17" width="5.06" height="3.69" fill="#fae9eb"/>
<rect x="471.94" y="479.86" width="5.06" height="3.69" fill="#ef8a93"/>
<rect x="477" y="479.86" width="5.06" height="3.69" fill="#f6d3d7"/>
<rect x="471.94" y="483.55" width="5.06" height="3.69" fill="#f6d3d7"/>
<rect x="477" y="483.55" width="5.06" height="3.69" fill="#fae9eb"/>
<rect x="471.94" y="487.24" width="5.06" height="3.69" fill="#f6d3d7"/>
<rect x="477" y="487.24" width="5.06" height="3.69" fill="#fae9eb"/>
<rect x="471.94" y="490.93" width="5.06" height="3.69" fill="#f6d3d7"/>
<rect x="477" y="490.93" width="5.06" height="3.69" fill="#f6d3d7"/>
<rect x="482.06" y="490.93" width="5.06" height="3.69" fill="#fae9eb"/>
<rect x="471.94" y="498.31" width="5.06" height="3.69" fill="#f2b0b7"/>
<rect x="477" y="498.31" width="5.06" height="3.69" fill="#fae9eb"/>
<rect x="466.88" y="454.03" width="25.3" height="3.69" fill="#000"/>
<path d="M466.88 428.2h25.3M466.88 431.89h25.3M466.88 435.58h25.3M466.88 439.27h25.3M466.88 442.96h25.3M466.88 446.65h25.3M466.88 450.34h25.3M466.88 454.03h25.3M466.88 457.72h25.3M466.88 461.41h25.3M466.88 465.1h25.3M466.88 468.79h25.3M466.88 472.48h25.3M466.88 476.17h25.3M466.88 479.86h25.3M466.88 483.55h25.3M466.88 487.24h25.3M466.88 490.93h25.3M466.88 494.62h25.3M466.88 498.31h25.3M466.88 502h25.3M466.88 505.69h25.3M466.88 428.2v77.49M471.94 428.2v77.49M477 428.2v77.49M482.06 428.2v77.49M487.12 428.2v77.49M492.18 428.2v77.49" stroke="#c8c8c8" stroke-opacity="0.5" stroke-width="0.5" fill="none"/>
<path d="M466.88 502h25.3M466.88 505.69h25.3M466.88 502v3.69M471.94 502v3.69M477 502v3.69M482.06 502v3.69M487.12 502v3.69M492.18 502v3.69" stroke="#b0b0b0" stroke-width="0.5" fill="none"/>
<text transform="translate(479.53,167.9) scale(0.88,1)" font-size="10.6" font-weight="bold" fill="#111" text-anchor="middle" stroke="#111" stroke-width="0.16">V128</text>
<text transform="translate(470.71,180.8) rotate(-90)" font-size="3.5" fill="#444">C</text>
<text transform="translate(475.77,180.8) rotate(-90)" font-size="3.5" fill="#444">8</text>
<text transform="translate(480.83,180.8) rotate(-90)" font-size="3.5" fill="#444">40</text>
<text transform="translate(485.89,180.8) rotate(-90)" font-size="3.5" fill="#444">200</text>
<text transform="translate(490.95,180.8) rotate(-90)" font-size="3.5" fill="#444">1000</text>
<rect x="497" y="286.03" width="25.3" height="3.69" fill="#000"/>
<path d="M497 186.35h25.3M497 190.04h25.3M497 193.73h25.3M497 197.43h25.3M497 201.12h25.3M497 204.81h25.3M497 208.5h25.3M497 212.19h25.3M497 215.89h25.3M497 219.58h25.3M497 223.27h25.3M497 226.96h25.3M497 230.65h25.3M497 234.35h25.3M497 238.04h25.3M497 241.73h25.3M497 245.42h25.3M497 249.11h25.3M497 252.81h25.3M497 256.5h25.3M497 260.19h25.3M497 263.88h25.3M497 267.57h25.3M497 271.27h25.3M497 274.96h25.3M497 278.65h25.3M497 282.34h25.3M497 286.03h25.3M497 289.73h25.3M497 293.42h25.3M497 297.11h25.3M497 300.8h25.3M497 304.49h25.3M497 308.19h25.3M497 311.88h25.3M497 315.57h25.3M497 319.26h25.3M497 322.95h25.3M497 326.65h25.3M497 330.34h25.3M497 334.03h25.3M497 337.72h25.3M497 341.41h25.3M497 345.11h25.3M497 348.8h25.3M497 352.49h25.3M497 356.18h25.3M497 359.87h25.3M497 363.57h25.3M497 367.26h25.3M497 370.95h25.3M497 374.64h25.3M497 378.33h25.3M497 382.03h25.3M497 385.72h25.3M497 389.41h25.3M497 393.1h25.3M497 396.79h25.3M497 400.49h25.3M497 404.18h25.3M497 407.87h25.3M497 411.56h25.3M497 415.25h25.3M497 418.95h25.3M497 422.64h25.3M497 186.35v236.29M502.06 186.35v236.29M507.12 186.35v236.29M512.18 186.35v236.29M517.24 186.35v236.29M522.3 186.35v236.29" stroke="#c8c8c8" stroke-opacity="0.5" stroke-width="0.5" fill="none"/>
<path d="M497 286.03h25.3M497 289.73h25.3M497 293.42h25.3M497 297.11h25.3M497 300.8h25.3M497 286.03v14.77M502.06 286.03v14.77M507.12 286.03v14.77M512.18 286.03v14.77M517.24 286.03v14.77M522.3 286.03v14.77" stroke="#b0b0b0" stroke-width="0.5" fill="none"/>
<path d="M497 411.56h25.3M497 415.25h25.3M497 418.95h25.3M497 422.64h25.3M497 411.56v11.08M502.06 411.56v11.08M507.12 411.56v11.08M512.18 411.56v11.08M517.24 411.56v11.08M522.3 411.56v11.08" stroke="#b0b0b0" stroke-width="0.5" fill="none"/>
<rect x="497" y="461.41" width="25.3" height="3.69" fill="#000"/>
<path d="M497 428.2h25.3M497 431.89h25.3M497 435.58h25.3M497 439.27h25.3M497 442.96h25.3M497 446.65h25.3M497 450.34h25.3M497 454.03h25.3M497 457.72h25.3M497 461.41h25.3M497 465.1h25.3M497 468.79h25.3M497 472.48h25.3M497 476.17h25.3M497 479.86h25.3M497 483.55h25.3M497 487.24h25.3M497 490.93h25.3M497 494.62h25.3M497 498.31h25.3M497 502h25.3M497 505.69h25.3M497 428.2v77.49M502.06 428.2v77.49M507.12 428.2v77.49M512.18 428.2v77.49M517.24 428.2v77.49M522.3 428.2v77.49" stroke="#c8c8c8" stroke-opacity="0.5" stroke-width="0.5" fill="none"/>
<path d="M497 502h25.3M497 505.69h25.3M497 502v3.69M502.06 502v3.69M507.12 502v3.69M512.18 502v3.69M517.24 502v3.69M522.3 502v3.69" stroke="#b0b0b0" stroke-width="0.5" fill="none"/>
<text transform="translate(509.65,167.9) scale(0.88,1)" font-size="10.6" font-weight="bold" fill="#111" text-anchor="middle" stroke="#111" stroke-width="0.16">G129</text>
<text transform="translate(500.83,180.8) rotate(-90)" font-size="3.5" fill="#444">C</text>
<text transform="translate(505.89,180.8) rotate(-90)" font-size="3.5" fill="#444">8</text>
<text transform="translate(510.95,180.8) rotate(-90)" font-size="3.5" fill="#444">40</text>
<text transform="translate(516.01,180.8) rotate(-90)" font-size="3.5" fill="#444">200</text>
<text transform="translate(521.07,180.8) rotate(-90)" font-size="3.5" fill="#444">1000</text>
<rect x="527.12" y="319.26" width="25.3" height="3.69" fill="#000"/>
<path d="M527.12 186.35h25.3M527.12 190.04h25.3M527.12 193.73h25.3M527.12 197.43h25.3M527.12 201.12h25.3M527.12 204.81h25.3M527.12 208.5h25.3M527.12 212.19h25.3M527.12 215.89h25.3M527.12 219.58h25.3M527.12 223.27h25.3M527.12 226.96h25.3M527.12 230.65h25.3M527.12 234.35h25.3M527.12 238.04h25.3M527.12 241.73h25.3M527.12 245.42h25.3M527.12 249.11h25.3M527.12 252.81h25.3M527.12 256.5h25.3M527.12 260.19h25.3M527.12 263.88h25.3M527.12 267.57h25.3M527.12 271.27h25.3M527.12 274.96h25.3M527.12 278.65h25.3M527.12 282.34h25.3M527.12 286.03h25.3M527.12 289.73h25.3M527.12 293.42h25.3M527.12 297.11h25.3M527.12 300.8h25.3M527.12 304.49h25.3M527.12 308.19h25.3M527.12 311.88h25.3M527.12 315.57h25.3M527.12 319.26h25.3M527.12 322.95h25.3M527.12 326.65h25.3M527.12 330.34h25.3M527.12 334.03h25.3M527.12 337.72h25.3M527.12 341.41h25.3M527.12 345.11h25.3M527.12 348.8h25.3M527.12 352.49h25.3M527.12 356.18h25.3M527.12 359.87h25.3M527.12 363.57h25.3M527.12 367.26h25.3M527.12 370.95h25.3M527.12 374.64h25.3M527.12 378.33h25.3M527.12 382.03h25.3M527.12 385.72h25.3M527.12 389.41h25.3M527.12 393.1h25.3M527.12 396.79h25.3M527.12 400.49h25.3M527.12 404.18h25.3M527.12 407.87h25.3M527.12 411.56h25.3M527.12 415.25h25.3M527.12 418.95h25.3M527.12 422.64h25.3M527.12 186.35v236.29M532.18 186.35v236.29M537.24 186.35v236.29M542.3 186.35v236.29M547.36 186.35v236.29M552.42 186.35v236.29" stroke="#c8c8c8" stroke-opacity="0.5" stroke-width="0.5" fill="none"/>
<path d="M527.12 308.19h25.3M527.12 311.88h25.3M527.12 315.57h25.3M527.12 319.26h25.3M527.12 322.95h25.3M527.12 326.65h25.3M527.12 330.34h25.3M527.12 308.19v22.15M532.18 308.19v22.15M537.24 308.19v22.15M542.3 308.19v22.15M547.36 308.19v22.15M552.42 308.19v22.15" stroke="#b0b0b0" stroke-width="0.5" fill="none"/>
<path d="M527.12 411.56h25.3M527.12 415.25h25.3M527.12 418.95h25.3M527.12 422.64h25.3M527.12 411.56v11.08M532.18 411.56v11.08M537.24 411.56v11.08M542.3 411.56v11.08M547.36 411.56v11.08M552.42 411.56v11.08" stroke="#b0b0b0" stroke-width="0.5" fill="none"/>
<rect x="527.12" y="468.79" width="25.3" height="3.69" fill="#000"/>
<path d="M527.12 428.2h25.3M527.12 431.89h25.3M527.12 435.58h25.3M527.12 439.27h25.3M527.12 442.96h25.3M527.12 446.65h25.3M527.12 450.34h25.3M527.12 454.03h25.3M527.12 457.72h25.3M527.12 461.41h25.3M527.12 465.1h25.3M527.12 468.79h25.3M527.12 472.48h25.3M527.12 476.17h25.3M527.12 479.86h25.3M527.12 483.55h25.3M527.12 487.24h25.3M527.12 490.93h25.3M527.12 494.62h25.3M527.12 498.31h25.3M527.12 502h25.3M527.12 505.69h25.3M527.12 428.2v77.49M532.18 428.2v77.49M537.24 428.2v77.49M542.3 428.2v77.49M547.36 428.2v77.49M552.42 428.2v77.49" stroke="#c8c8c8" stroke-opacity="0.5" stroke-width="0.5" fill="none"/>
<path d="M527.12 502h25.3M527.12 505.69h25.3M527.12 502v3.69M532.18 502v3.69M537.24 502v3.69M542.3 502v3.69M547.36 502v3.69M552.42 502v3.69" stroke="#b0b0b0" stroke-width="0.5" fill="none"/>
<text transform="translate(539.77,167.9) scale(0.88,1)" font-size="10.6" font-weight="bold" fill="#111" text-anchor="middle" stroke="#111" stroke-width="0.16">S130</text>
<text transform="translate(530.95,180.8) rotate(-90)" font-size="3.5" fill="#444">C</text>
<text transform="translate(536.01,180.8) rotate(-90)" font-size="3.5" fill="#444">8</text>
<text transform="translate(541.07,180.8) rotate(-90)" font-size="3.5" fill="#444">40</text>
<text transform="translate(546.13,180.8) rotate(-90)" font-size="3.5" fill="#444">200</text>
<text transform="translate(551.19,180.8) rotate(-90)" font-size="3.5" fill="#444">1000</text>
<rect x="562.3" y="190.04" width="5.06" height="3.69" fill="#fae9eb"/>
<rect x="567.36" y="190.04" width="5.06" height="3.69" fill="#fae9eb"/>
<rect x="562.3" y="219.58" width="5.06" height="3.69" fill="#f6d3d7"/>
<rect x="567.36" y="219.58" width="5.06" height="3.69" fill="#f2b0b7"/>
<rect x="572.42" y="219.58" width="5.06" height="3.69" fill="#f0323a"/>
<rect x="577.48" y="219.58" width="5.06" height="3.69" fill="#f8180c"/>
<rect x="562.3" y="223.27" width="5.06" height="3.69" fill="#f6d3d7"/>
<rect x="567.36" y="223.27" width="5.06" height="3.69" fill="#fae9eb"/>
<rect x="562.3" y="226.96" width="5.06" height="3.69" fill="#fae9eb"/>
<rect x="567.36" y="226.96" width="5.06" height="3.69" fill="#fae9eb"/>
<rect x="562.3" y="230.65" width="5.06" height="3.69" fill="#fae9eb"/>
<rect x="567.36" y="230.65" width="5.06" height="3.69" fill="#fae9eb"/>
<rect x="562.3" y="234.35" width="5.06" height="3.69" fill="#fae9eb"/>
<rect x="567.36" y="234.35" width="5.06" height="3.69" fill="#f6d3d7"/>
<rect x="572.42" y="234.35" width="5.06" height="3.69" fill="#fae9eb"/>
<rect x="577.48" y="234.35" width="5.06" height="3.69" fill="#fae9eb"/>
<rect x="562.3" y="238.04" width="5.06" height="3.69" fill="#fae9eb"/>
<rect x="567.36" y="238.04" width="5.06" height="3.69" fill="#f6d3d7"/>
<rect x="572.42" y="238.04" width="5.06" height="3.69" fill="#fae9eb"/>
<rect x="577.48" y="238.04" width="5.06" height="3.69" fill="#fae9eb"/>
<rect x="562.3" y="241.73" width="5.06" height="3.69" fill="#f6d3d7"/>
<rect x="567.36" y="241.73" width="5.06" height="3.69" fill="#f6d3d7"/>
<rect x="572.42" y="241.73" width="5.06" height="3.69" fill="#f6d3d7"/>
<rect x="577.48" y="241.73" width="5.06" height="3.69" fill="#fae9eb"/>
<rect x="562.3" y="245.42" width="5.06" height="3.69" fill="#fae9eb"/>
<rect x="567.36" y="245.42" width="5.06" height="3.69" fill="#f6d3d7"/>
<rect x="572.42" y="245.42" width="5.06" height="3.69" fill="#fae9eb"/>
<rect x="577.48" y="245.42" width="5.06" height="3.69" fill="#fae9eb"/>
<rect x="562.3" y="249.11" width="5.06" height="3.69" fill="#f2b0b7"/>
<rect x="567.36" y="249.11" width="5.06" height="3.69" fill="#ef8a93"/>
<rect x="572.42" y="249.11" width="5.06" height="3.69" fill="#f2b0b7"/>
<rect x="577.48" y="249.11" width="5.06" height="3.69" fill="#f6d3d7"/>
<rect x="562.3" y="252.81" width="5.06" height="3.69" fill="#f6d3d7"/>
<rect x="567.36" y="252.81" width="5.06" height="3.69" fill="#f2b0b7"/>
<rect x="572.42" y="252.81" width="5.06" height="3.69" fill="#f6d3d7"/>
<rect x="577.48" y="252.81" width="5.06" height="3.69" fill="#fae9eb"/>
<rect x="562.3" y="256.5" width="5.06" height="3.69" fill="#fae9eb"/>
<rect x="562.3" y="260.19" width="5.06" height="3.69" fill="#fae9eb"/>
<rect x="562.3" y="263.88" width="5.06" height="3.69" fill="#fae9eb"/>
<rect x="562.3" y="267.57" width="5.06" height="3.69" fill="#fae9eb"/>
<rect x="562.3" y="345.11" width="5.06" height="3.69" fill="#f2b0b7"/>
<rect x="567.36" y="345.11" width="5.06" height="3.69" fill="#ef8a93"/>
<rect x="572.42" y="345.11" width="5.06" height="3.69" fill="#ee5e68"/>
<rect x="577.48" y="345.11" width="5.06" height="3.69" fill="#ee5e68"/>
<rect x="562.3" y="348.8" width="5.06" height="3.69" fill="#f6d3d7"/>
<rect x="567.36" y="348.8" width="5.06" height="3.69" fill="#f2b0b7"/>
<rect x="572.42" y="348.8" width="5.06" height="3.69" fill="#f2b0b7"/>
<rect x="577.48" y="348.8" width="5.06" height="3.69" fill="#fae9eb"/>
<rect x="562.3" y="352.49" width="5.06" height="3.69" fill="#ef8a93"/>
<rect x="567.36" y="352.49" width="5.06" height="3.69" fill="#f0323a"/>
<rect x="572.42" y="352.49" width="5.06" height="3.69" fill="#fae9eb"/>
<rect x="577.48" y="352.49" width="5.06" height="3.69" fill="#ef8a93"/>
<rect x="562.3" y="356.18" width="5.06" height="3.69" fill="#ef8a93"/>
<rect x="567.36" y="356.18" width="5.06" height="3.69" fill="#f0323a"/>
<rect x="572.42" y="356.18" width="5.06" height="3.69" fill="#fae9eb"/>
<rect x="562.3" y="359.87" width="5.06" height="3.69" fill="#fae9eb"/>
<rect x="562.3" y="363.57" width="5.06" height="3.69" fill="#fae9eb"/>
<rect x="562.3" y="367.26" width="5.06" height="3.69" fill="#f2b0b7"/>
<rect x="567.36" y="367.26" width="5.06" height="3.69" fill="#ef8a93"/>
<rect x="572.42" y="367.26" width="5.06" height="3.69" fill="#ee5e68"/>
<rect x="577.48" y="367.26" width="5.06" height="3.69" fill="#f6d3d7"/>
<rect x="562.3" y="370.95" width="5.06" height="3.69" fill="#f6d3d7"/>
<rect x="567.36" y="370.95" width="5.06" height="3.69" fill="#f2b0b7"/>
<rect x="572.42" y="370.95" width="5.06" height="3.69" fill="#f2b0b7"/>
<rect x="577.48" y="370.95" width="5.06" height="3.69" fill="#fae9eb"/>
<rect x="562.3" y="382.03" width="5.06" height="3.69" fill="#f2b0b7"/>
<rect x="567.36" y="382.03" width="5.06" height="3.69" fill="#f2b0b7"/>
<rect x="572.42" y="382.03" width="5.06" height="3.69" fill="#fae9eb"/>
<rect x="562.3" y="385.72" width="5.06" height="3.69" fill="#fae9eb"/>
<rect x="567.36" y="385.72" width="5.06" height="3.69" fill="#f6d3d7"/>
<rect x="572.42" y="385.72" width="5.06" height="3.69" fill="#fae9eb"/>
<rect x="562.3" y="389.41" width="5.06" height="3.69" fill="#fae9eb"/>
<rect x="567.36" y="389.41" width="5.06" height="3.69" fill="#f6d3d7"/>
<rect x="562.3" y="393.1" width="5.06" height="3.69" fill="#fae9eb"/>
<rect x="567.36" y="393.1" width="5.06" height="3.69" fill="#fae9eb"/>
<rect x="562.3" y="396.79" width="5.06" height="3.69" fill="#fae9eb"/>
<rect x="562.3" y="400.49" width="5.06" height="3.69" fill="#fae9eb"/>
<rect x="562.3" y="404.18" width="5.06" height="3.69" fill="#f2b0b7"/>
<rect x="567.36" y="404.18" width="5.06" height="3.69" fill="#fae9eb"/>
<rect x="562.3" y="407.87" width="5.06" height="3.69" fill="#f6d3d7"/>
<rect x="557.24" y="319.26" width="25.3" height="3.69" fill="#000"/>
<path d="M557.24 186.35h25.3M557.24 190.04h25.3M557.24 193.73h25.3M557.24 197.43h25.3M557.24 201.12h25.3M557.24 204.81h25.3M557.24 208.5h25.3M557.24 212.19h25.3M557.24 215.89h25.3M557.24 219.58h25.3M557.24 223.27h25.3M557.24 226.96h25.3M557.24 230.65h25.3M557.24 234.35h25.3M557.24 238.04h25.3M557.24 241.73h25.3M557.24 245.42h25.3M557.24 249.11h25.3M557.24 252.81h25.3M557.24 256.5h25.3M557.24 260.19h25.3M557.24 263.88h25.3M557.24 267.57h25.3M557.24 271.27h25.3M557.24 274.96h25.3M557.24 278.65h25.3M557.24 282.34h25.3M557.24 286.03h25.3M557.24 289.73h25.3M557.24 293.42h25.3M557.24 297.11h25.3M557.24 300.8h25.3M557.24 304.49h25.3M557.24 308.19h25.3M557.24 311.88h25.3M557.24 315.57h25.3M557.24 319.26h25.3M557.24 322.95h25.3M557.24 326.65h25.3M557.24 330.34h25.3M557.24 334.03h25.3M557.24 337.72h25.3M557.24 341.41h25.3M557.24 345.11h25.3M557.24 348.8h25.3M557.24 352.49h25.3M557.24 356.18h25.3M557.24 359.87h25.3M557.24 363.57h25.3M557.24 367.26h25.3M557.24 370.95h25.3M557.24 374.64h25.3M557.24 378.33h25.3M557.24 382.03h25.3M557.24 385.72h25.3M557.24 389.41h25.3M557.24 393.1h25.3M557.24 396.79h25.3M557.24 400.49h25.3M557.24 404.18h25.3M557.24 407.87h25.3M557.24 411.56h25.3M557.24 415.25h25.3M557.24 418.95h25.3M557.24 422.64h25.3M557.24 186.35v236.29M562.3 186.35v236.29M567.36 186.35v236.29M572.42 186.35v236.29M577.48 186.35v236.29M582.54 186.35v236.29" stroke="#c8c8c8" stroke-opacity="0.5" stroke-width="0.5" fill="none"/>
<path d="M557.24 308.19h25.3M557.24 311.88h25.3M557.24 315.57h25.3M557.24 319.26h25.3M557.24 322.95h25.3M557.24 326.65h25.3M557.24 330.34h25.3M557.24 308.19v22.15M562.3 308.19v22.15M567.36 308.19v22.15M572.42 308.19v22.15M577.48 308.19v22.15M582.54 308.19v22.15" stroke="#b0b0b0" stroke-width="0.5" fill="none"/>
<path d="M557.24 411.56h25.3M557.24 415.25h25.3M557.24 418.95h25.3M557.24 422.64h25.3M557.24 411.56v11.08M562.3 411.56v11.08M567.36 411.56v11.08M572.42 411.56v11.08M577.48 411.56v11.08M582.54 411.56v11.08" stroke="#b0b0b0" stroke-width="0.5" fill="none"/>
<rect x="562.3" y="431.89" width="5.06" height="3.69" fill="#f6d3d7"/>
<rect x="567.36" y="431.89" width="5.06" height="3.69" fill="#fae9eb"/>
<rect x="562.3" y="442.96" width="5.06" height="3.69" fill="#ef8a93"/>
<rect x="567.36" y="442.96" width="5.06" height="3.69" fill="#f8180c"/>
<rect x="572.42" y="442.96" width="5.06" height="3.69" fill="#f8180c"/>
<rect x="577.48" y="442.96" width="5.06" height="3.69" fill="#f8180c"/>
<rect x="562.3" y="446.65" width="5.06" height="3.69" fill="#f2b0b7"/>
<rect x="567.36" y="446.65" width="5.06" height="3.69" fill="#f6d3d7"/>
<rect x="562.3" y="450.34" width="5.06" height="3.69" fill="#f2b0b7"/>
<rect x="567.36" y="450.34" width="5.06" height="3.69" fill="#ef8a93"/>
<rect x="572.42" y="450.34" width="5.06" height="3.69" fill="#f2b0b7"/>
<rect x="577.48" y="450.34" width="5.06" height="3.69" fill="#f6d3d7"/>
<rect x="562.3" y="454.03" width="5.06" height="3.69" fill="#fae9eb"/>
<rect x="562.3" y="476.17" width="5.06" height="3.69" fill="#ef8a93"/>
<rect x="567.36" y="476.17" width="5.06" height="3.69" fill="#f8180c"/>
<rect x="572.42" y="476.17" width="5.06" height="3.69" fill="#f8180c"/>
<rect x="577.48" y="476.17" width="5.06" height="3.69" fill="#f8180c"/>
<rect x="562.3" y="479.86" width="5.06" height="3.69" fill="#f8180c"/>
<rect x="567.36" y="479.86" width="5.06" height="3.69" fill="#f0323a"/>
<rect x="572.42" y="479.86" width="5.06" height="3.69" fill="#f2b0b7"/>
<rect x="577.48" y="479.86" width="5.06" height="3.69" fill="#ee5e68"/>
<rect x="562.3" y="487.24" width="5.06" height="3.69" fill="#ee5e68"/>
<rect x="567.36" y="487.24" width="5.06" height="3.69" fill="#f8180c"/>
<rect x="572.42" y="487.24" width="5.06" height="3.69" fill="#f8180c"/>
<rect x="577.48" y="487.24" width="5.06" height="3.69" fill="#f6d3d7"/>
<rect x="562.3" y="494.62" width="5.06" height="3.69" fill="#f6d3d7"/>
<rect x="567.36" y="494.62" width="5.06" height="3.69" fill="#f6d3d7"/>
<rect x="572.42" y="494.62" width="5.06" height="3.69" fill="#fae9eb"/>
<rect x="562.3" y="498.31" width="5.06" height="3.69" fill="#ef8a93"/>
<rect x="567.36" y="498.31" width="5.06" height="3.69" fill="#f6d3d7"/>
<rect x="572.42" y="498.31" width="5.06" height="3.69" fill="#fae9eb"/>
<rect x="557.24" y="468.79" width="25.3" height="3.69" fill="#000"/>
<path d="M557.24 428.2h25.3M557.24 431.89h25.3M557.24 435.58h25.3M557.24 439.27h25.3M557.24 442.96h25.3M557.24 446.65h25.3M557.24 450.34h25.3M557.24 454.03h25.3M557.24 457.72h25.3M557.24 461.41h25.3M557.24 465.1h25.3M557.24 468.79h25.3M557.24 472.48h25.3M557.24 476.17h25.3M557.24 479.86h25.3M557.24 483.55h25.3M557.24 487.24h25.3M557.24 490.93h25.3M557.24 494.62h25.3M557.24 498.31h25.3M557.24 502h25.3M557.24 505.69h25.3M557.24 428.2v77.49M562.3 428.2v77.49M567.36 428.2v77.49M572.42 428.2v77.49M577.48 428.2v77.49M582.54 428.2v77.49" stroke="#c8c8c8" stroke-opacity="0.5" stroke-width="0.5" fill="none"/>
<path d="M557.24 502h25.3M557.24 505.69h25.3M557.24 502v3.69M562.3 502v3.69M567.36 502v3.69M572.42 502v3.69M577.48 502v3.69M582.54 502v3.69" stroke="#b0b0b0" stroke-width="0.5" fill="none"/>
<text transform="translate(569.89,167.9) scale(0.88,1)" font-size="10.6" font-weight="bold" fill="#111" text-anchor="middle" stroke="#111" stroke-width="0.16">S132</text>
<text transform="translate(561.07,180.8) rotate(-90)" font-size="3.5" fill="#444">C</text>
<text transform="translate(566.13,180.8) rotate(-90)" font-size="3.5" fill="#444">8</text>
<text transform="translate(571.19,180.8) rotate(-90)" font-size="3.5" fill="#444">40</text>
<text transform="translate(576.25,180.8) rotate(-90)" font-size="3.5" fill="#444">200</text>
<text transform="translate(581.31,180.8) rotate(-90)" font-size="3.5" fill="#444">1000</text>
<rect x="592.42" y="186.35" width="5.06" height="3.69" fill="#f2b0b7"/>
<rect x="597.48" y="186.35" width="5.06" height="3.69" fill="#f6d3d7"/>
<rect x="592.42" y="190.04" width="5.06" height="3.69" fill="#f6d3d7"/>
<rect x="597.48" y="190.04" width="5.06" height="3.69" fill="#fae9eb"/>
<rect x="592.42" y="193.73" width="5.06" height="3.69" fill="#ef8a93"/>
<rect x="597.48" y="193.73" width="5.06" height="3.69" fill="#fae9eb"/>
<rect x="592.42" y="219.58" width="5.06" height="3.69" fill="#fae9eb"/>
<rect x="592.42" y="223.27" width="5.06" height="3.69" fill="#f8180c"/>
<rect x="597.48" y="223.27" width="5.06" height="3.69" fill="#f6d3d7"/>
<rect x="602.54" y="223.27" width="5.06" height="3.69" fill="#fae9eb"/>
<rect x="592.42" y="226.96" width="5.06" height="3.69" fill="#ef8a93"/>
<rect x="597.48" y="226.96" width="5.06" height="3.69" fill="#f6d3d7"/>
<rect x="602.54" y="226.96" width="5.06" height="3.69" fill="#fae9eb"/>
<rect x="592.42" y="230.65" width="5.06" height="3.69" fill="#ee5e68"/>
<rect x="597.48" y="230.65" width="5.06" height="3.69" fill="#f6d3d7"/>
<rect x="592.42" y="234.35" width="5.06" height="3.69" fill="#fae9eb"/>
<rect x="592.42" y="245.42" width="5.06" height="3.69" fill="#fae9eb"/>
<rect x="592.42" y="249.11" width="5.06" height="3.69" fill="#f2b0b7"/>
<rect x="592.42" y="252.81" width="5.06" height="3.69" fill="#f6d3d7"/>
<rect x="592.42" y="256.5" width="5.06" height="3.69" fill="#f2b0b7"/>
<rect x="597.48" y="256.5" width="5.06" height="3.69" fill="#fae9eb"/>
<rect x="592.42" y="260.19" width="5.06" height="3.69" fill="#f6d3d7"/>
<rect x="592.42" y="263.88" width="5.06" height="3.69" fill="#f6d3d7"/>
<rect x="592.42" y="267.57" width="5.06" height="3.69" fill="#f2b0b7"/>
<rect x="597.48" y="267.57" width="5.06" height="3.69" fill="#fae9eb"/>
<rect x="592.42" y="271.27" width="5.06" height="3.69" fill="#fae9eb"/>
<rect x="592.42" y="300.8" width="5.06" height="3.69" fill="#f6d3d7"/>
<rect x="592.42" y="304.49" width="5.06" height="3.69" fill="#fae9eb"/>
<rect x="592.42" y="330.34" width="5.06" height="3.69" fill="#f2b0b7"/>
<rect x="592.42" y="334.03" width="5.06" height="3.69" fill="#fae9eb"/>
<rect x="592.42" y="337.72" width="5.06" height="3.69" fill="#fae9eb"/>
<rect x="592.42" y="341.41" width="5.06" height="3.69" fill="#fae9eb"/>
<rect x="592.42" y="345.11" width="5.06" height="3.69" fill="#fae9eb"/>
<rect x="592.42" y="374.64" width="5.06" height="3.69" fill="#ef8a93"/>
<rect x="597.48" y="374.64" width="5.06" height="3.69" fill="#fae9eb"/>
<rect x="592.42" y="378.33" width="5.06" height="3.69" fill="#f2b0b7"/>
<rect x="597.48" y="378.33" width="5.06" height="3.69" fill="#fae9eb"/>
<rect x="587.36" y="201.12" width="25.3" height="3.69" fill="#000"/>
<path d="M587.36 186.35h25.3M587.36 190.04h25.3M587.36 193.73h25.3M587.36 197.43h25.3M587.36 201.12h25.3M587.36 204.81h25.3M587.36 208.5h25.3M587.36 212.19h25.3M587.36 215.89h25.3M587.36 219.58h25.3M587.36 223.27h25.3M587.36 226.96h25.3M587.36 230.65h25.3M587.36 234.35h25.3M587.36 238.04h25.3M587.36 241.73h25.3M587.36 245.42h25.3M587.36 249.11h25.3M587.36 252.81h25.3M587.36 256.5h25.3M587.36 260.19h25.3M587.36 263.88h25.3M587.36 267.57h25.3M587.36 271.27h25.3M587.36 274.96h25.3M587.36 278.65h25.3M587.36 282.34h25.3M587.36 286.03h25.3M587.36 289.73h25.3M587.36 293.42h25.3M587.36 297.11h25.3M587.36 300.8h25.3M587.36 304.49h25.3M587.36 308.19h25.3M587.36 311.88h25.3M587.36 315.57h25.3M587.36 319.26h25.3M587.36 322.95h25.3M587.36 326.65h25.3M587.36 330.34h25.3M587.36 334.03h25.3M587.36 337.72h25.3M587.36 341.41h25.3M587.36 345.11h25.3M587.36 348.8h25.3M587.36 352.49h25.3M587.36 356.18h25.3M587.36 359.87h25.3M587.36 363.57h25.3M587.36 367.26h25.3M587.36 370.95h25.3M587.36 374.64h25.3M587.36 378.33h25.3M587.36 382.03h25.3M587.36 385.72h25.3M587.36 389.41h25.3M587.36 393.1h25.3M587.36 396.79h25.3M587.36 400.49h25.3M587.36 404.18h25.3M587.36 407.87h25.3M587.36 411.56h25.3M587.36 415.25h25.3M587.36 418.95h25.3M587.36 422.64h25.3M587.36 186.35v236.29M592.42 186.35v236.29M597.48 186.35v236.29M602.54 186.35v236.29M607.6 186.35v236.29M612.66 186.35v236.29" stroke="#c8c8c8" stroke-opacity="0.5" stroke-width="0.5" fill="none"/>
<path d="M587.36 197.43h25.3M587.36 201.12h25.3M587.36 204.81h25.3M587.36 197.43v7.38M592.42 197.43v7.38M597.48 197.43v7.38M602.54 197.43v7.38M607.6 197.43v7.38M612.66 197.43v7.38" stroke="#b0b0b0" stroke-width="0.5" fill="none"/>
<path d="M587.36 411.56h25.3M587.36 415.25h25.3M587.36 418.95h25.3M587.36 422.64h25.3M587.36 411.56v11.08M592.42 411.56v11.08M597.48 411.56v11.08M602.54 411.56v11.08M607.6 411.56v11.08M612.66 411.56v11.08" stroke="#b0b0b0" stroke-width="0.5" fill="none"/>
<rect x="592.42" y="428.2" width="5.06" height="3.69" fill="#ef8a93"/>
<rect x="597.48" y="428.2" width="5.06" height="3.69" fill="#ef8a93"/>
<rect x="602.54" y="428.2" width="5.06" height="3.69" fill="#fae9eb"/>
<rect x="592.42" y="431.89" width="5.06" height="3.69" fill="#f8180c"/>
<rect x="597.48" y="431.89" width="5.06" height="3.69" fill="#fae9eb"/>
<rect x="592.42" y="442.96" width="5.06" height="3.69" fill="#f6d3d7"/>
<rect x="592.42" y="446.65" width="5.06" height="3.69" fill="#f8180c"/>
<rect x="597.48" y="446.65" width="5.06" height="3.69" fill="#ef8a93"/>
<rect x="602.54" y="446.65" width="5.06" height="3.69" fill="#fae9eb"/>
<rect x="592.42" y="450.34" width="5.06" height="3.69" fill="#f2b0b7"/>
<rect x="592.42" y="454.03" width="5.06" height="3.69" fill="#ef8a93"/>
<rect x="597.48" y="454.03" width="5.06" height="3.69" fill="#fae9eb"/>
<rect x="592.42" y="457.72" width="5.06" height="3.69" fill="#fae9eb"/>
<rect x="592.42" y="465.1" width="5.06" height="3.69" fill="#f6d3d7"/>
<rect x="592.42" y="472.48" width="5.06" height="3.69" fill="#f6d3d7"/>
<rect x="592.42" y="476.17" width="5.06" height="3.69" fill="#fae9eb"/>
<rect x="592.42" y="479.86" width="5.06" height="3.69" fill="#fae9eb"/>
<rect x="592.42" y="483.55" width="5.06" height="3.69" fill="#fae9eb"/>
<rect x="592.42" y="490.93" width="5.06" height="3.69" fill="#f8180c"/>
<rect x="597.48" y="490.93" width="5.06" height="3.69" fill="#fae9eb"/>
<rect x="587.36" y="435.58" width="25.3" height="3.69" fill="#000"/>
<path d="M587.36 428.2h25.3M587.36 431.89h25.3M587.36 435.58h25.3M587.36 439.27h25.3M587.36 442.96h25.3M587.36 446.65h25.3M587.36 450.34h25.3M587.36 454.03h25.3M587.36 457.72h25.3M587.36 461.41h25.3M587.36 465.1h25.3M587.36 468.79h25.3M587.36 472.48h25.3M587.36 476.17h25.3M587.36 479.86h25.3M587.36 483.55h25.3M587.36 487.24h25.3M587.36 490.93h25.3M587.36 494.62h25.3M587.36 498.31h25.3M587.36 502h25.3M587.36 505.69h25.3M587.36 428.2v77.49M592.42 428.2v77.49M597.48 428.2v77.49M602.54 428.2v77.49M607.6 428.2v77.49M612.66 428.2v77.49" stroke="#c8c8c8" stroke-opacity="0.5" stroke-width="0.5" fill="none"/>
<path d="M587.36 502h25.3M587.36 505.69h25.3M587.36 502v3.69M592.42 502v3.69M597.48 502v3.69M602.54 502v3.69M607.6 502v3.69M612.66 502v3.69" stroke="#b0b0b0" stroke-width="0.5" fill="none"/>
<text transform="translate(600.01,167.9) scale(0.88,1)" font-size="10.6" font-weight="bold" fill="#111" text-anchor="middle" stroke="#111" stroke-width="0.16">Y136</text>
<text transform="translate(591.19,180.8) rotate(-90)" font-size="3.5" fill="#444">C</text>
<text transform="translate(596.25,180.8) rotate(-90)" font-size="3.5" fill="#444">8</text>
<text transform="translate(601.31,180.8) rotate(-90)" font-size="3.5" fill="#444">40</text>
<text transform="translate(606.37,180.8) rotate(-90)" font-size="3.5" fill="#444">200</text>
<text transform="translate(611.43,180.8) rotate(-90)" font-size="3.5" fill="#444">1000</text>
<rect x="622.54" y="219.58" width="5.06" height="3.69" fill="#fae9eb"/>
<rect x="622.54" y="234.35" width="5.06" height="3.69" fill="#f6d3d7"/>
<rect x="622.54" y="249.11" width="5.06" height="3.69" fill="#fae9eb"/>
<rect x="622.54" y="330.34" width="5.06" height="3.69" fill="#fae9eb"/>
<rect x="622.54" y="345.11" width="5.06" height="3.69" fill="#f6d3d7"/>
<rect x="622.54" y="356.18" width="5.06" height="3.69" fill="#f2b0b7"/>
<rect x="622.54" y="378.33" width="5.06" height="3.69" fill="#fae9eb"/>
<rect x="617.48" y="274.96" width="25.3" height="3.69" fill="#000"/>
<path d="M617.48 186.35h25.3M617.48 190.04h25.3M617.48 193.73h25.3M617.48 197.43h25.3M617.48 201.12h25.3M617.48 204.81h25.3M617.48 208.5h25.3M617.48 212.19h25.3M617.48 215.89h25.3M617.48 219.58h25.3M617.48 223.27h25.3M617.48 226.96h25.3M617.48 230.65h25.3M617.48 234.35h25.3M617.48 238.04h25.3M617.48 241.73h25.3M617.48 245.42h25.3M617.48 249.11h25.3M617.48 252.81h25.3M617.48 256.5h25.3M617.48 260.19h25.3M617.48 263.88h25.3M617.48 267.57h25.3M617.48 271.27h25.3M617.48 274.96h25.3M617.48 278.65h25.3M617.48 282.34h25.3M617.48 286.03h25.3M617.48 289.73h25.3M617.48 293.42h25.3M617.48 297.11h25.3M617.48 300.8h25.3M617.48 304.49h25.3M617.48 308.19h25.3M617.48 311.88h25.3M617.48 315.57h25.3M617.48 319.26h25.3M617.48 322.95h25.3M617.48 326.65h25.3M617.48 330.34h25.3M617.48 334.03h25.3M617.48 337.72h25.3M617.48 341.41h25.3M617.48 345.11h25.3M617.48 348.8h25.3M617.48 352.49h25.3M617.48 356.18h25.3M617.48 359.87h25.3M617.48 363.57h25.3M617.48 367.26h25.3M617.48 370.95h25.3M617.48 374.64h25.3M617.48 378.33h25.3M617.48 382.03h25.3M617.48 385.72h25.3M617.48 389.41h25.3M617.48 393.1h25.3M617.48 396.79h25.3M617.48 400.49h25.3M617.48 404.18h25.3M617.48 407.87h25.3M617.48 411.56h25.3M617.48 415.25h25.3M617.48 418.95h25.3M617.48 422.64h25.3M617.48 186.35v236.29M622.54 186.35v236.29M627.6 186.35v236.29M632.66 186.35v236.29M637.72 186.35v236.29M642.78 186.35v236.29" stroke="#c8c8c8" stroke-opacity="0.5" stroke-width="0.5" fill="none"/>
<path d="M617.48 271.27h25.3M617.48 274.96h25.3M617.48 278.65h25.3M617.48 282.34h25.3M617.48 286.03h25.3M617.48 289.73h25.3M617.48 271.27v18.46M622.54 271.27v18.46M627.6 271.27v18.46M632.66 271.27v18.46M637.72 271.27v18.46M642.78 271.27v18.46" stroke="#b0b0b0" stroke-width="0.5" fill="none"/>
<path d="M617.48 411.56h25.3M617.48 415.25h25.3M617.48 418.95h25.3M617.48 422.64h25.3M617.48 411.56v11.08M622.54 411.56v11.08M627.6 411.56v11.08M632.66 411.56v11.08M637.72 411.56v11.08M642.78 411.56v11.08" stroke="#b0b0b0" stroke-width="0.5" fill="none"/>
<rect x="622.54" y="431.89" width="5.06" height="3.69" fill="#fae9eb"/>
<rect x="622.54" y="435.58" width="5.06" height="3.69" fill="#fae9eb"/>
<rect x="622.54" y="442.96" width="5.06" height="3.69" fill="#f6d3d7"/>
<rect x="627.6" y="442.96" width="5.06" height="3.69" fill="#f6d3d7"/>
<rect x="622.54" y="446.65" width="5.06" height="3.69" fill="#fae9eb"/>
<rect x="622.54" y="450.34" width="5.06" height="3.69" fill="#f6d3d7"/>
<rect x="627.6" y="450.34" width="5.06" height="3.69" fill="#fae9eb"/>
<rect x="622.54" y="465.1" width="5.06" height="3.69" fill="#fae9eb"/>
<rect x="622.54" y="472.48" width="5.06" height="3.69" fill="#f6d3d7"/>
<rect x="622.54" y="476.17" width="5.06" height="3.69" fill="#f2b0b7"/>
<rect x="627.6" y="476.17" width="5.06" height="3.69" fill="#fae9eb"/>
<rect x="622.54" y="479.86" width="5.06" height="3.69" fill="#ef8a93"/>
<rect x="627.6" y="479.86" width="5.06" height="3.69" fill="#fae9eb"/>
<rect x="622.54" y="490.93" width="5.06" height="3.69" fill="#f6d3d7"/>
<rect x="617.48" y="457.72" width="25.3" height="3.69" fill="#000"/>
<path d="M617.48 428.2h25.3M617.48 431.89h25.3M617.48 435.58h25.3M617.48 439.27h25.3M617.48 442.96h25.3M617.48 446.65h25.3M617.48 450.34h25.3M617.48 454.03h25.3M617.48 457.72h25.3M617.48 461.41h25.3M617.48 465.1h25.3M617.48 468.79h25.3M617.48 472.48h25.3M617.48 476.17h25.3M617.48 479.86h25.3M617.48 483.55h25.3M617.48 487.24h25.3M617.48 490.93h25.3M617.48 494.62h25.3M617.48 498.31h25.3M617.48 502h25.3M617.48 505.69h25.3M617.48 428.2v77.49M622.54 428.2v77.49M627.6 428.2v77.49M632.66 428.2v77.49M637.72 428.2v77.49M642.78 428.2v77.49" stroke="#c8c8c8" stroke-opacity="0.5" stroke-width="0.5" fill="none"/>
<path d="M617.48 502h25.3M617.48 505.69h25.3M617.48 502v3.69M622.54 502v3.69M627.6 502v3.69M632.66 502v3.69M637.72 502v3.69M642.78 502v3.69" stroke="#b0b0b0" stroke-width="0.5" fill="none"/>
<text transform="translate(630.13,167.9) scale(0.88,1)" font-size="10.6" font-weight="bold" fill="#111" text-anchor="middle" stroke="#111" stroke-width="0.16">A169</text>
<text transform="translate(621.31,180.8) rotate(-90)" font-size="3.5" fill="#444">C</text>
<text transform="translate(626.37,180.8) rotate(-90)" font-size="3.5" fill="#444">8</text>
<text transform="translate(631.43,180.8) rotate(-90)" font-size="3.5" fill="#444">40</text>
<text transform="translate(636.49,180.8) rotate(-90)" font-size="3.5" fill="#444">200</text>
<text transform="translate(641.55,180.8) rotate(-90)" font-size="3.5" fill="#444">1000</text>
<rect x="663.3" y="187.3" width="8.6" height="6.59" fill="#c41e1a"/>
<rect x="663.3" y="193.59" width="8.6" height="6.59" fill="#dc1c14"/>
<rect x="663.3" y="199.87" width="8.6" height="6.59" fill="#e8180f"/>
<rect x="663.3" y="206.16" width="8.6" height="6.59" fill="#f0140a"/>
<rect x="663.3" y="212.44" width="8.6" height="6.59" fill="#f0140a"/>
<rect x="663.3" y="218.73" width="8.6" height="6.59" fill="#f0140a"/>
<rect x="663.3" y="225.01" width="8.6" height="6.59" fill="#ee3a40"/>
<rect x="663.3" y="231.3" width="8.6" height="6.59" fill="#ec7a85"/>
<rect x="663.3" y="237.59" width="8.6" height="6.59" fill="#f0a0a8"/>
<rect x="663.3" y="243.87" width="8.6" height="6.59" fill="#f2b8bf"/>
<rect x="663.3" y="250.16" width="8.6" height="6.59" fill="#f4d0d4"/>
<rect x="663.3" y="256.44" width="8.6" height="6.59" fill="#f6e0e2"/>
<rect x="663.3" y="262.73" width="8.6" height="6.59" fill="#f8eaec"/>
<rect x="663.3" y="269.01" width="8.6" height="6.29" fill="#faf2f3"/>
<rect x="664.4" y="436.4" width="8" height="4.86" fill="#c41e1a"/>
<rect x="664.4" y="440.96" width="8" height="4.86" fill="#dc1c14"/>
<rect x="664.4" y="445.53" width="8" height="4.86" fill="#f0140a"/>
<rect x="664.4" y="450.09" width="8" height="4.86" fill="#f0140a"/>
<rect x="664.4" y="454.66" width="8" height="4.86" fill="#f0140a"/>
<rect x="664.4" y="459.22" width="8" height="4.86" fill="#f0140a"/>
<rect x="664.4" y="463.79" width="8" height="4.86" fill="#f0140a"/>
<rect x="664.4" y="468.35" width="8" height="4.86" fill="#ee3a40"/>
<rect x="664.4" y="472.91" width="8" height="4.86" fill="#ec7a85"/>
<rect x="664.4" y="477.48" width="8" height="4.86" fill="#f0a0a8"/>
<rect x="664.4" y="482.04" width="8" height="4.86" fill="#f2b8bf"/>
<rect x="664.4" y="486.61" width="8" height="4.86" fill="#f4d0d4"/>
<rect x="664.4" y="491.17" width="8" height="4.86" fill="#f6e0e2"/>
<rect x="664.4" y="495.74" width="8" height="4.56" fill="#f8ecee"/>
<g font-size="6.5" fill="#333">
 <text x="677.5" y="173.9" font-size="6.6" stroke="#000" stroke-width="0.1">%</text>
 <text x="677.2" y="192.4">10</text>
 <text x="677.8" y="240.5">1</text>
 <text x="677.8" y="281">0</text>
 <text x="677.5" y="432" font-size="6.6" stroke="#000" stroke-width="0.1">%</text>
 <text x="677.8" y="441.4">5</text>
 <text x="677.8" y="475.5">1</text>
 <text x="677.8" y="504.8">0</text>
</g>
</svg>
</body></html>
